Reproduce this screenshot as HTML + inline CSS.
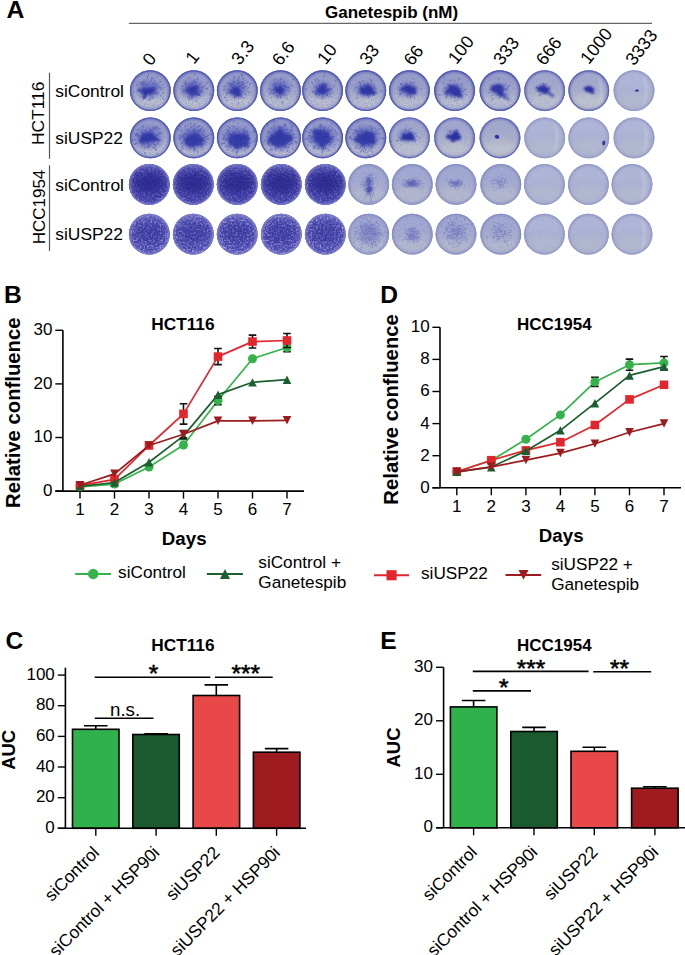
<!DOCTYPE html>
<html><head><meta charset="utf-8"><title>Figure</title><style>
html,body{margin:0;padding:0;background:#fff;width:685px;height:955px;overflow:hidden}
svg{display:block}
text{font-family:"Liberation Sans", sans-serif;fill:#000}
</style></head><body>
<svg width="685" height="955" viewBox="0 0 685 955">
<defs><filter id="bl04" x="-20%" y="-20%" width="140%" height="140%"><feGaussianBlur stdDeviation="0.4"/></filter>
<filter id="bl07" x="-50%" y="-50%" width="200%" height="200%"><feGaussianBlur stdDeviation="0.7"/></filter>
<filter id="bl1" x="-50%" y="-50%" width="200%" height="200%"><feGaussianBlur stdDeviation="1"/></filter>
<filter id="bl12" x="-50%" y="-50%" width="200%" height="200%"><feGaussianBlur stdDeviation="0.9"/></filter>
<filter id="bl3" x="-50%" y="-50%" width="200%" height="200%"><feGaussianBlur stdDeviation="3"/></filter>
<filter id="nzd0" x="0" y="0" width="100%" height="100%"><feTurbulence type="fractalNoise" baseFrequency="1.3" numOctaves="2" seed="1"/><feColorMatrix type="matrix" values="0 0 0 0 0.2  0 0 0 0 0.22  0 0 0 0 0.64  5.5 0 0 0 -2.35"/></filter>
<filter id="nzl0" x="0" y="0" width="100%" height="100%"><feTurbulence type="fractalNoise" baseFrequency="0.55" numOctaves="3" seed="3"/><feColorMatrix type="matrix" values="0 0 0 0 0.45  0 0 0 0 0.45  0 0 0 0 0.8  2.6 0 0 0 -1.12"/></filter>
<filter id="nzd1" x="0" y="0" width="100%" height="100%"><feTurbulence type="fractalNoise" baseFrequency="1.3" numOctaves="2" seed="5"/><feColorMatrix type="matrix" values="0 0 0 0 0.2  0 0 0 0 0.22  0 0 0 0 0.64  5.5 0 0 0 -2.35"/></filter>
<filter id="nzl1" x="0" y="0" width="100%" height="100%"><feTurbulence type="fractalNoise" baseFrequency="0.55" numOctaves="3" seed="7"/><feColorMatrix type="matrix" values="0 0 0 0 0.45  0 0 0 0 0.45  0 0 0 0 0.8  2.6 0 0 0 -1.12"/></filter>
<filter id="nzd2" x="0" y="0" width="100%" height="100%"><feTurbulence type="fractalNoise" baseFrequency="1.3" numOctaves="2" seed="9"/><feColorMatrix type="matrix" values="0 0 0 0 0.2  0 0 0 0 0.22  0 0 0 0 0.64  5.5 0 0 0 -2.35"/></filter>
<filter id="nzl2" x="0" y="0" width="100%" height="100%"><feTurbulence type="fractalNoise" baseFrequency="0.55" numOctaves="3" seed="11"/><feColorMatrix type="matrix" values="0 0 0 0 0.45  0 0 0 0 0.45  0 0 0 0 0.8  2.6 0 0 0 -1.12"/></filter>
<filter id="nzd3" x="0" y="0" width="100%" height="100%"><feTurbulence type="fractalNoise" baseFrequency="1.3" numOctaves="2" seed="13"/><feColorMatrix type="matrix" values="0 0 0 0 0.2  0 0 0 0 0.22  0 0 0 0 0.64  5.5 0 0 0 -2.35"/></filter>
<filter id="nzl3" x="0" y="0" width="100%" height="100%"><feTurbulence type="fractalNoise" baseFrequency="0.55" numOctaves="3" seed="15"/><feColorMatrix type="matrix" values="0 0 0 0 0.45  0 0 0 0 0.45  0 0 0 0 0.8  2.6 0 0 0 -1.12"/></filter>
<radialGradient id="halo"><stop offset="0" stop-color="#4a51b8" stop-opacity="1"/><stop offset="0.5" stop-color="#5a60bd" stop-opacity="0.8"/><stop offset="1" stop-color="#5a60bb" stop-opacity="0"/></radialGradient>
<radialGradient id="hmg"><stop offset="0" stop-color="#fff"/><stop offset="1" stop-color="#000"/></radialGradient>
<mask id="hm" maskContentUnits="objectBoundingBox"><rect x="0" y="0" width="1" height="1" fill="url(#hmg)"/></mask>
<radialGradient id="rmg"><stop offset="0" stop-color="#000"/><stop offset="0.55" stop-color="#333"/><stop offset="1" stop-color="#fff"/></radialGradient>
<mask id="ringmask" maskContentUnits="objectBoundingBox"><rect x="0" y="0" width="1" height="1" fill="url(#rmg)"/></mask>
<linearGradient id="lg_hct" x1="0" y1="0" x2="0" y2="1"><stop offset="0.3" stop-color="#9aa0c6"/><stop offset="0.75" stop-color="#aeb2c6"/></linearGradient>
<radialGradient id="rg_hct" cx="0.5" cy="0.5" r="0.5"><stop offset="0.8" stop-color="#5e66b8" stop-opacity="0"/><stop offset="0.94" stop-color="#5e66b8" stop-opacity="0.7"/><stop offset="1" stop-color="#5e66b8" stop-opacity="0.95"/></radialGradient>
<linearGradient id="lg_hctl" x1="0" y1="0" x2="0" y2="1"><stop offset="0.3" stop-color="#a4aacb"/><stop offset="0.75" stop-color="#b3b7c8"/></linearGradient>
<radialGradient id="rg_hctl" cx="0.5" cy="0.5" r="0.5"><stop offset="0.8" stop-color="#6e76be" stop-opacity="0"/><stop offset="0.94" stop-color="#6e76be" stop-opacity="0.7"/><stop offset="1" stop-color="#6e76be" stop-opacity="0.95"/></radialGradient>
<linearGradient id="lg_dark" x1="0" y1="0" x2="0" y2="1"><stop offset="0.3" stop-color="#3a38a0"/><stop offset="0.75" stop-color="#3e3ca4"/></linearGradient>
<radialGradient id="rg_dark" cx="0.5" cy="0.5" r="0.5"><stop offset="0.8" stop-color="#6466bd" stop-opacity="0"/><stop offset="0.94" stop-color="#6466bd" stop-opacity="0.7"/><stop offset="1" stop-color="#6466bd" stop-opacity="0.95"/></radialGradient>
<linearGradient id="lg_darkl" x1="0" y1="0" x2="0" y2="1"><stop offset="0.3" stop-color="#4846ad"/><stop offset="0.75" stop-color="#4a48ae"/></linearGradient>
<radialGradient id="rg_darkl" cx="0.5" cy="0.5" r="0.5"><stop offset="0.8" stop-color="#6e70c2" stop-opacity="0"/><stop offset="0.94" stop-color="#6e70c2" stop-opacity="0.7"/><stop offset="1" stop-color="#6e70c2" stop-opacity="0.95"/></radialGradient>
<linearGradient id="lg_light" x1="0" y1="0" x2="0" y2="1"><stop offset="0.3" stop-color="#a4abd0"/><stop offset="0.75" stop-color="#adb2cb"/></linearGradient>
<radialGradient id="rg_light" cx="0.5" cy="0.5" r="0.5"><stop offset="0.8" stop-color="#8f96c6" stop-opacity="0"/><stop offset="0.94" stop-color="#8f96c6" stop-opacity="0.7"/><stop offset="1" stop-color="#8f96c6" stop-opacity="0.95"/></radialGradient>
<linearGradient id="lg_vlight" x1="0" y1="0" x2="0" y2="1"><stop offset="0.3" stop-color="#afb6d6"/><stop offset="0.75" stop-color="#aab0ce"/></linearGradient>
<radialGradient id="rg_vlight" cx="0.5" cy="0.5" r="0.5"><stop offset="0.8" stop-color="#9aa1ca" stop-opacity="0"/><stop offset="0.94" stop-color="#9aa1ca" stop-opacity="0.7"/><stop offset="1" stop-color="#9aa1ca" stop-opacity="0.95"/></radialGradient></defs>
<text x="6.6" y="17.8" font-size="24.8" font-weight="bold">A</text>
<text x="325" y="17.6" font-size="17" font-weight="bold">Ganetespib (nM)</text>
<line x1="128.8" y1="23.4" x2="652" y2="23.4" stroke="#666" stroke-width="1.2"/>
<text transform="translate(151.0,66.8) rotate(-52)" font-size="17.8">0</text>
<text transform="translate(193.9,64.9) rotate(-52)" font-size="17.8">1</text>
<text transform="translate(239.8,66.0) rotate(-52)" font-size="17.8">3.3</text>
<text transform="translate(280.4,66.8) rotate(-52)" font-size="17.8">6.6</text>
<text transform="translate(325.7,65.4) rotate(-52)" font-size="17.8">10</text>
<text transform="translate(368.0,66.1) rotate(-52)" font-size="17.8">33</text>
<text transform="translate(412.2,66.8) rotate(-52)" font-size="17.8">66</text>
<text transform="translate(456.5,65.2) rotate(-52)" font-size="17.8">100</text>
<text transform="translate(501.7,66.3) rotate(-52)" font-size="17.8">333</text>
<text transform="translate(544.4,66.4) rotate(-52)" font-size="17.8">666</text>
<text transform="translate(588.8,65.2) rotate(-52)" font-size="17.8">1000</text>
<text transform="translate(633.9,66.6) rotate(-52)" font-size="17.8">3333</text>
<text x="55.3" y="97.2" font-size="17.4">siControl</text>
<text x="55.3" y="143.8" font-size="17.4">siUSP22</text>
<text x="55.3" y="191.0" font-size="17.4">siControl</text>
<text x="55.3" y="240.2" font-size="17.4">siUSP22</text>
<line x1="49.5" y1="72.8" x2="49.5" y2="158.8" stroke="#555" stroke-width="1.2"/>
<line x1="49.5" y1="165.2" x2="49.5" y2="250.9" stroke="#555" stroke-width="1.2"/>
<text transform="translate(43.6,113.3) rotate(-90)" text-anchor="middle" font-size="17.4">HCT116</text>
<text transform="translate(44.7,207) rotate(-90)" text-anchor="middle" font-size="17">HCC1954</text>
<clipPath id="pc0"><circle cx="150.3" cy="90.6" r="20.4"/></clipPath>
<circle cx="150.3" cy="90.6" r="20.4" fill="url(#lg_hct)"/>
<circle cx="150.3" cy="90.6" r="20.4" fill="url(#rg_hct)"/>
<g clip-path="url(#pc0)">
<ellipse cx="150.3" cy="101.6" rx="17.3" ry="7.1" fill="#c4c7d0" opacity="0.7" filter="url(#bl3)"/>
<rect x="129.9" y="70.19999999999999" width="40.8" height="40.8" fill="#fff" filter="url(#nzd0)" opacity="0.36"/>
<ellipse cx="148.3" cy="89.6" rx="14" ry="12" fill="url(#halo)" opacity="0.75"/>
<path d="M141.1,91.5l-1.3,-0.1M145.3,86.9l-1.0,-0.8M141.2,83.1l-0.4,-0.5M151.1,92.4l0.5,0.2M163.4,88.1l0.7,-0.2M141.6,95.8l-0.4,0.4M149.9,93.1l0.1,1.2M149.5,92.9l0.9,1.2M139.6,89.6l-1.9,0.5M149.6,99.2l0.2,1.5M146.6,92.9l-0.7,1.5M150.5,81.7l0.6,-0.9M159.3,87.1l1.9,-0.0M148.3,75.7l0.2,-1.1M155.7,92.7l0.6,0.3M143.7,83.2l0.1,-1.6M151.6,92.2l1.2,1.2M149.5,92.4l0.1,1.2M151.8,97.2l0.1,0.7M154.5,86.5l0.8,-0.3M158.7,87.9l0.8,-0.3M159.8,81.8l1.4,-0.3M162.6,98.6l1.4,1.0M152.7,87.6l0.6,-0.1M154.9,93.2l0.9,0.5M156.3,77.4l0.9,-0.9M137.8,85.0l-1.7,-0.9M151.4,91.2l0.8,0.2M147.4,77.7l0.3,-1.8M161.9,85.4l0.6,-0.3M162.9,92.7l0.9,0.2M157.5,92.6l0.9,-0.0M152.5,96.8l0.4,1.3M150.1,93.8l0.6,0.7M151.7,87.9l1.1,-0.3M148.8,92.5l0.1,1.0M145.5,88.4l-2.0,0.0M157.7,85.3l1.0,-1.0M149.3,90.6l0.2,1.5M149.7,90.6l1.2,0.8M138.8,90.5l-0.5,0.3M145.6,96.3l-0.2,1.5M151.8,78.8l0.1,-1.8M155.5,93.2l1.6,0.4M153.3,84.6l0.8,-1.1M144.2,88.0l-1.4,-0.4M160.4,89.2l1.6,-0.1M142.5,84.9l-1.5,-0.9M156.8,93.8l0.8,0.9M149.8,90.6l0.6,1.1M138.3,82.1l-0.8,-0.6M149.2,88.1l0.3,-0.7M155.5,85.5l0.4,-0.9M152.7,87.9l1.0,-0.6M152.8,79.1l0.8,-1.1M144.3,88.5l-1.1,-0.5M154.2,81.2l0.4,-0.8M134.3,92.3l-0.9,-0.1M149.7,94.7l0.5,0.9M143.4,97.2l0.2,1.2M149.6,90.2l1.4,0.7M147.1,85.7l-0.7,-1.5M151.5,89.9l1.7,0.1M148.7,89.8l0.4,0.4M143.9,85.6l-1.6,-0.7M142.0,97.0l-0.4,0.7M144.7,90.1l-1.5,-0.3M148.7,91.3l0.0,1.0M146.0,83.8l-0.8,-0.8M141.8,92.5l-0.3,0.5M156.9,86.3l1.4,-0.2M153.0,93.7l1.1,0.7M155.9,83.4l1.4,-0.5M146.0,91.9l-1.6,0.6M142.4,83.4l-1.1,-1.6M160.6,95.8l1.5,0.7M142.8,99.6l-0.4,0.5M144.0,83.7l-0.8,-1.5M146.9,89.7l-1.7,0.0M146.3,91.7l-1.4,0.9M150.4,91.8l1.7,0.6M147.3,85.1l-1.0,-0.8M150.7,88.9l0.9,-0.2M155.4,88.6l1.1,-0.7M152.5,84.2l0.9,-1.5M153.6,92.4l1.7,0.6M155.3,88.4l1.2,-0.4" stroke="#363cab" stroke-width="1.0" stroke-linecap="round" opacity="0.5" filter="url(#bl04)"/>
<path d="M156.2,89.1Q156.3,89.9 155.6,90.6Q154.9,91.3 154.0,91.8Q153.1,92.3 152.4,93.1Q151.8,93.8 150.2,93.9Q148.6,93.9 147.2,93.8Q145.9,93.8 143.6,94.2Q141.3,94.6 141.6,93.5Q141.8,92.4 141.8,91.8Q141.7,91.2 138.4,90.2Q135.1,89.3 139.5,89.2Q143.9,89.0 144.7,88.5Q145.4,87.9 146.8,88.0Q148.1,88.1 149.3,87.8Q150.6,87.5 152.3,87.5Q153.9,87.4 155.0,87.9Q156.2,88.4 156.2,89.1Z" fill="#2c31a2" opacity="0.85" filter="url(#bl12)"/>
<path d="M147.5,94.4Q147.2,95.3 146.8,96.0Q146.4,96.8 146.0,97.3Q145.5,97.8 145.1,98.4Q144.6,98.9 144.1,99.1Q143.6,99.3 143.5,98.6Q143.3,97.9 143.0,97.6Q142.7,97.3 143.0,96.4Q143.2,95.5 143.4,94.7Q143.6,94.0 143.9,93.2Q144.2,92.5 144.6,91.7Q145.0,91.0 145.5,90.8Q146.0,90.6 146.4,90.6Q146.8,90.5 147.1,90.7Q147.5,90.9 147.5,91.6Q147.5,92.3 147.6,92.9Q147.8,93.6 147.5,94.4Z" fill="#2c31a2" opacity="0.70" filter="url(#bl07)"/>
</g>
<circle cx="150.3" cy="90.6" r="19.799999999999997" fill="none" stroke="#4a52b0" stroke-width="1.2" opacity="0.85"/>
<clipPath id="pc1"><circle cx="193.8" cy="90.6" r="20.4"/></clipPath>
<circle cx="193.8" cy="90.6" r="20.4" fill="url(#lg_hct)"/>
<circle cx="193.8" cy="90.6" r="20.4" fill="url(#rg_hct)"/>
<g clip-path="url(#pc1)">
<ellipse cx="193.8" cy="101.6" rx="17.3" ry="7.1" fill="#c4c7d0" opacity="0.7" filter="url(#bl3)"/>
<rect x="173.4" y="70.19999999999999" width="40.8" height="40.8" fill="#fff" filter="url(#nzd1)" opacity="0.36"/>
<ellipse cx="192.8" cy="89.6" rx="14" ry="12" fill="url(#halo)" opacity="0.75"/>
<path d="M191.1,93.9l-0.5,0.7M195.1,95.5l0.7,0.9M195.0,86.7l0.5,-0.7M187.1,84.3l-1.4,-0.2M190.7,91.9l-0.9,1.3M197.5,79.5l0.6,-1.8M197.5,93.2l-0.2,1.8M195.7,92.4l0.5,0.4M188.3,92.2l-1.2,1.2M197.0,93.2l0.6,0.5M191.8,85.0l-1.4,-1.3M198.0,93.6l1.2,0.9M185.9,90.3l-0.7,-0.0M200.0,91.1l0.7,-0.1M192.1,91.0l-1.1,1.4M206.2,88.9l1.9,0.1M194.0,81.3l0.3,-1.0M185.9,90.9l-0.4,0.3M196.2,86.7l0.2,-0.7M183.6,92.0l-0.7,0.3M195.0,88.7l1.7,-0.7M195.7,82.1l0.7,-0.9M186.4,84.8l-1.8,-0.8M194.3,85.9l1.2,-1.1M187.7,91.6l-1.5,1.1M199.4,84.3l0.9,-0.6M182.8,89.3l-1.0,0.1M192.0,89.7l-1.3,0.6M199.4,91.0l0.9,1.2M188.3,95.9l-0.3,1.0M189.7,96.8l-0.6,1.4M194.0,75.5l0.8,-1.4M194.0,89.4l0.6,0.1M194.7,94.2l0.4,1.8M195.4,83.9l0.6,-1.9M185.9,82.6l-0.7,-1.5M196.5,100.8l0.1,0.7M189.3,90.1l-0.5,0.3M193.0,94.6l0.2,1.3M188.2,86.8l-1.2,-0.6M201.2,87.9l0.9,0.3M197.2,89.9l1.6,0.4M193.7,81.3l0.8,-1.4M209.6,94.3l1.7,0.7M192.0,84.4l-0.0,-2.0M193.1,95.7l-0.5,1.1M189.2,98.8l-0.4,1.3M199.0,94.3l0.5,0.3M193.9,87.0l0.4,-1.1M189.6,84.8l-0.7,-0.9M200.5,90.7l1.9,-0.4M202.0,87.2l1.8,-0.4M195.7,91.1l1.0,0.1M191.6,97.2l0.3,1.4M189.7,89.7l-0.9,0.2M205.8,88.2l0.6,-0.0M191.6,88.9l-0.9,-1.1M198.7,93.4l1.2,1.0M193.9,82.8l0.0,-1.1M188.8,90.1l-1.6,0.7M200.9,91.9l1.6,0.6M185.6,83.6l-0.6,-0.6M198.8,91.4l1.5,0.0M198.0,89.3l1.6,-1.0M189.9,85.3l-0.3,-0.6M194.5,88.2l1.1,-0.4M196.6,87.9l1.3,-1.0M196.4,91.2l0.9,0.3M190.7,88.4l-0.9,-0.1M196.2,93.3l0.5,0.5M187.2,87.9l-1.9,0.2M204.9,85.5l0.6,-0.7M196.8,87.5l1.9,-0.4M196.3,87.3l0.7,-0.7M197.1,85.6l0.7,-0.4M183.1,86.1l-1.3,0.3M190.0,93.4l-1.6,0.8M192.6,90.6l0.2,1.3M192.1,96.8l-0.0,1.7M199.6,92.1l0.6,0.2M190.4,88.7l-0.6,0.2M190.6,87.5l-0.6,-0.6M184.3,91.2l-1.2,-0.4M193.3,84.6l-0.5,-1.4M206.0,83.3l1.4,-0.7M189.4,78.8l-1.1,-1.1M198.7,95.1l1.7,0.6" stroke="#363cab" stroke-width="1.0" stroke-linecap="round" opacity="0.5" filter="url(#bl04)"/>
<path d="M197.1,89.9Q197.1,90.6 197.5,91.4Q197.9,92.2 196.8,92.5Q195.8,92.8 195.2,93.3Q194.6,93.8 193.7,95.0Q192.8,96.2 191.4,96.0Q189.9,95.8 189.6,94.5Q189.2,93.3 188.8,92.6Q188.4,92.0 185.7,91.3Q183.0,90.6 185.4,89.8Q187.9,89.1 187.4,87.7Q187.0,86.3 188.9,86.6Q190.8,87.0 191.8,86.0Q192.8,85.1 193.9,85.8Q195.1,86.5 197.3,86.0Q199.5,85.6 198.4,87.4Q197.2,89.2 197.1,89.9Z" fill="#2c31a2" opacity="0.80" filter="url(#bl12)"/>
<path d="M199.6,94.8Q199.7,95.3 199.3,95.6Q199.0,95.9 198.5,95.9Q198.0,96.0 197.4,95.8Q196.9,95.5 196.3,95.4Q195.8,95.3 195.3,95.0Q194.7,94.7 194.6,94.2Q194.4,93.8 194.3,93.3Q194.2,92.9 194.3,92.5Q194.3,92.2 194.5,91.8Q194.7,91.5 195.2,91.4Q195.6,91.3 196.2,91.4Q196.7,91.4 197.3,91.7Q197.8,91.9 198.2,92.2Q198.7,92.6 199.1,93.0Q199.6,93.4 199.6,93.9Q199.5,94.3 199.6,94.8Z" fill="#2c31a2" opacity="0.50" filter="url(#bl07)"/>
</g>
<circle cx="193.8" cy="90.6" r="19.799999999999997" fill="none" stroke="#4a52b0" stroke-width="1.2" opacity="0.85"/>
<clipPath id="pc2"><circle cx="237.3" cy="90.6" r="20.4"/></clipPath>
<circle cx="237.3" cy="90.6" r="20.4" fill="url(#lg_hct)"/>
<circle cx="237.3" cy="90.6" r="20.4" fill="url(#rg_hct)"/>
<g clip-path="url(#pc2)">
<ellipse cx="237.3" cy="101.6" rx="17.3" ry="7.1" fill="#c4c7d0" opacity="0.7" filter="url(#bl3)"/>
<rect x="216.9" y="70.19999999999999" width="40.8" height="40.8" fill="#fff" filter="url(#nzd2)" opacity="0.36"/>
<ellipse cx="236.3" cy="88.6" rx="13" ry="12" fill="url(#halo)" opacity="0.75"/>
<path d="M247.2,82.3l0.7,-1.1M227.0,92.1l-0.9,0.7M244.0,86.6l1.7,-0.4M233.9,85.8l-0.4,-0.6M240.8,75.5l0.8,-1.5M227.3,99.3l-1.5,1.1M244.6,80.8l0.6,-0.9M237.6,92.3l0.9,1.4M243.6,97.3l1.0,1.3M233.6,84.2l-0.4,-0.4M233.2,87.2l-0.6,-0.4M248.0,91.8l1.3,0.6M225.0,86.8l-1.6,-0.2M234.2,82.8l-0.2,-0.5M237.7,91.7l0.7,0.9M227.6,93.7l-1.1,0.5M249.6,84.3l1.2,-0.6M241.4,96.1l0.3,0.5M239.0,89.8l1.6,0.3M229.2,89.2l-1.1,0.3M241.9,82.6l0.3,-0.6M237.0,90.0l1.5,0.9M234.0,78.0l0.1,-1.9M242.6,88.6l1.2,-1.1M234.1,87.9l-0.6,-0.3M241.2,87.1l1.2,-0.1M232.5,84.4l-1.1,-1.0M238.0,93.4l0.0,0.8M236.8,89.9l0.5,0.4M238.3,103.2l-0.1,1.1M237.0,84.0l0.3,-0.6M225.1,89.4l-1.5,-0.1M224.1,89.8l-1.3,0.6M230.2,84.9l-0.5,-0.7M243.0,88.0l1.0,-0.1M239.8,82.6l0.5,-0.6M234.0,92.2l-0.7,0.5M241.5,84.5l0.6,-0.6M231.3,84.7l-1.7,-0.9M234.7,96.5l-0.4,1.9M235.1,88.1l-0.7,-0.1M228.3,83.4l-0.8,-0.6M245.6,94.2l1.0,0.5M247.6,88.1l1.3,-0.4M234.4,88.1l-1.5,-0.7M234.6,92.2l-0.2,0.7M236.7,88.4l1.4,-0.8M231.5,86.6l-1.2,-0.7M238.6,83.5l-0.0,-1.9M241.7,91.3l1.5,0.7M243.1,79.6l0.5,-1.6M231.1,91.4l-0.5,0.1M233.6,88.2l-0.7,0.0M239.1,89.0l0.4,0.4M238.1,80.7l0.4,-1.2M230.9,92.3l-1.7,0.8M242.3,85.2l1.4,-1.2M238.8,77.9l0.6,-1.4M237.5,86.4l0.9,-0.5M244.8,83.4l0.4,-0.3M240.1,86.3l0.8,-0.8M232.4,84.7l-0.6,-1.7M239.2,86.0l1.5,-1.0M232.9,94.2l-0.3,0.6M242.1,85.2l1.1,-1.5M225.5,96.8l-1.4,1.1M231.6,93.3l-0.9,1.2M235.0,86.3l-0.3,-0.5M233.4,88.3l-1.1,-0.5M231.5,86.3l-0.3,-0.4M239.1,93.4l0.5,0.5M238.4,87.3l0.7,-0.7M231.8,89.8l-1.6,0.6M239.0,90.3l0.8,-0.0M241.6,82.6l1.5,-1.0M238.0,89.3l1.4,0.5M234.1,82.5l-1.0,-1.6M235.5,95.8l-0.0,1.0M242.0,76.9l0.7,-1.7M241.9,82.2l1.6,-0.3M233.4,90.2l-1.4,0.6" stroke="#363cab" stroke-width="1.0" stroke-linecap="round" opacity="0.5" filter="url(#bl04)"/>
<path d="M240.1,91.0Q240.5,91.6 240.9,92.5Q241.4,93.5 241.8,95.2Q242.2,96.9 240.3,96.5Q238.4,96.2 237.3,96.6Q236.3,97.1 235.3,96.6Q234.3,96.0 233.8,95.1Q233.3,94.3 232.8,93.7Q232.2,93.1 229.6,92.4Q226.9,91.6 229.6,90.9Q232.3,90.1 232.4,89.1Q232.5,88.2 233.2,87.4Q234.0,86.6 235.1,86.9Q236.3,87.3 237.3,87.3Q238.2,87.4 239.1,87.9Q239.9,88.4 239.8,89.4Q239.7,90.3 240.1,91.0Z" fill="#2c31a2" opacity="0.85" filter="url(#bl12)"/>
</g>
<circle cx="237.3" cy="90.6" r="19.799999999999997" fill="none" stroke="#4a52b0" stroke-width="1.2" opacity="0.85"/>
<clipPath id="pc3"><circle cx="280.5" cy="90.6" r="20.4"/></clipPath>
<circle cx="280.5" cy="90.6" r="20.4" fill="url(#lg_hct)"/>
<circle cx="280.5" cy="90.6" r="20.4" fill="url(#rg_hct)"/>
<g clip-path="url(#pc3)">
<ellipse cx="280.5" cy="101.6" rx="17.3" ry="7.1" fill="#c4c7d0" opacity="0.7" filter="url(#bl3)"/>
<rect x="260.1" y="70.19999999999999" width="40.8" height="40.8" fill="#fff" filter="url(#nzd3)" opacity="0.36"/>
<ellipse cx="279.5" cy="88.6" rx="13" ry="12" fill="url(#halo)" opacity="0.70"/>
<path d="M277.4,85.3l-0.6,-0.7M280.3,86.6l0.2,-0.8M288.4,87.4l0.8,0.2M292.4,79.6l1.6,-0.5M280.8,79.9l0.7,-1.0M282.5,94.4l0.9,1.2M275.4,89.9l-1.0,0.8M284.2,82.3l-0.1,-0.8M277.8,89.2l-1.2,0.7M280.0,94.0l0.0,1.7M270.0,89.1l-0.8,-0.2M273.9,85.7l-1.0,-1.2M281.1,79.4l-0.1,-0.8M280.1,89.4l1.0,0.7M279.6,87.9l0.4,-0.5M285.4,85.0l0.4,-0.7M276.9,91.2l-0.5,0.3M276.5,95.1l-0.3,1.4M278.8,96.5l-0.3,0.7M279.4,91.6l0.3,1.7M269.9,93.4l-1.0,0.4M282.5,101.7l-0.2,1.6M281.2,91.4l0.6,1.0M279.5,87.2l0.0,-0.7M291.0,85.3l1.1,-0.1M280.8,89.2l0.9,1.3M279.3,89.1l-0.8,1.0M279.8,94.2l-0.2,1.0M277.4,95.5l-0.1,0.5M273.0,92.8l-1.5,0.5M281.3,93.0l1.2,1.4M274.2,89.8l-1.7,0.1M275.0,89.6l-0.8,-0.0M276.4,87.7l-1.1,-0.4M283.1,86.6l2.0,-0.4M274.8,79.5l-0.2,-0.6M284.6,86.9l0.8,-0.5M282.9,89.0l1.9,0.2M284.9,87.7l1.0,-0.4M286.8,98.3l1.3,0.9M286.7,89.5l1.0,0.1M277.8,90.0l-1.5,0.8M276.2,86.9l-1.0,-0.5M279.6,90.1l-0.1,0.5M285.5,86.6l1.3,-0.0M285.1,94.6l1.1,1.1M288.3,90.7l0.9,0.4M278.2,83.6l-0.5,-0.6M286.7,87.4l0.8,0.1M280.7,88.9l1.7,-0.0M274.3,92.8l-1.1,1.0M282.8,86.9l1.5,-1.2M272.0,91.1l-1.3,0.7M284.4,91.5l1.0,0.5M280.7,85.8l0.6,-0.7M282.5,92.9l1.1,1.1M280.0,88.7l0.9,0.4M276.7,90.0l-0.9,1.0M275.3,88.3l-1.1,-0.0M278.2,90.0l-0.8,1.0M280.5,83.7l0.0,-1.0M279.5,89.7l0.4,1.3M288.9,88.0l0.7,0.3M272.1,89.9l-1.4,-0.1M278.0,96.7l0.0,1.4M275.4,85.0l-1.5,-0.9M281.7,92.2l1.3,1.4M282.4,89.2l1.0,-0.0M279.3,91.4l-0.0,0.8M280.6,96.1l0.2,1.3M279.7,85.7l0.3,-1.2M275.5,83.5l-1.4,-1.0M274.6,93.1l-0.7,0.7M283.1,85.7l1.1,-1.1M271.3,97.8l-0.4,0.6M274.9,84.5l-0.8,-0.4" stroke="#363cab" stroke-width="1.0" stroke-linecap="round" opacity="0.5" filter="url(#bl04)"/>
<path d="M284.5,89.7Q283.7,90.6 283.7,91.3Q283.6,92.0 283.0,92.4Q282.4,92.9 282.2,94.2Q282.1,95.6 280.8,94.6Q279.5,93.6 278.8,93.4Q278.1,93.3 277.4,93.0Q276.8,92.8 275.6,92.5Q274.3,92.3 275.0,91.5Q275.7,90.6 275.3,89.9Q275.0,89.1 274.3,87.5Q273.6,85.8 275.8,86.8Q278.0,87.7 278.7,86.7Q279.5,85.7 280.7,85.9Q281.8,86.1 282.0,87.3Q282.1,88.5 283.7,88.6Q285.2,88.7 284.5,89.7Z" fill="#2c31a2" opacity="0.85" filter="url(#bl12)"/>
</g>
<circle cx="280.5" cy="90.6" r="19.799999999999997" fill="none" stroke="#4a52b0" stroke-width="1.2" opacity="0.85"/>
<clipPath id="pc4"><circle cx="322.6" cy="90.6" r="20.4"/></clipPath>
<circle cx="322.6" cy="90.6" r="20.4" fill="url(#lg_hct)"/>
<circle cx="322.6" cy="90.6" r="20.4" fill="url(#rg_hct)"/>
<g clip-path="url(#pc4)">
<ellipse cx="322.6" cy="101.6" rx="17.3" ry="7.1" fill="#c4c7d0" opacity="0.7" filter="url(#bl3)"/>
<rect x="302.20000000000005" y="70.19999999999999" width="40.8" height="40.8" fill="#fff" filter="url(#nzd0)" opacity="0.33"/>
<ellipse cx="322.6" cy="89.6" rx="12" ry="11" fill="url(#halo)" opacity="0.70"/>
<path d="M320.7,90.9l-1.0,1.2M322.5,96.9l0.2,1.6M326.6,94.4l1.2,0.5M315.7,93.1l-1.1,1.3M316.0,92.8l-1.5,0.4M323.0,92.5l-0.5,1.8M323.2,92.0l0.4,1.5M316.4,92.8l-1.0,1.7M329.7,96.6l0.4,0.5M326.6,90.6l0.7,0.1M306.7,89.1l-1.3,-0.1M317.8,90.1l-1.7,0.5M331.0,88.6l1.4,0.3M324.0,76.7l-0.3,-1.3M327.6,90.4l0.8,0.0M331.8,96.3l0.6,0.4M328.4,89.2l1.3,-0.0M327.0,94.7l0.8,0.9M326.2,87.2l0.5,-0.2M332.4,93.4l0.7,0.3M324.5,73.9l0.2,-0.8M326.5,85.7l0.3,-1.0M327.3,95.1l0.8,1.2M319.7,87.0l-0.6,-1.9M318.8,81.4l-0.4,-1.5M323.1,90.6l0.3,0.6M324.8,84.7l0.7,-0.7M321.9,89.5l-0.5,-0.1M335.0,81.3l1.3,-1.1M322.1,85.0l0.1,-1.6M313.7,91.7l-1.9,0.5M316.2,93.8l-0.4,0.3M333.7,86.7l1.0,-0.4M317.6,94.5l-1.1,0.9M318.1,87.3l-1.5,-1.1M321.6,91.4l-0.2,0.8M329.7,89.4l1.4,-0.6M323.7,91.6l0.4,1.1M326.3,95.1l0.6,0.9M319.9,94.8l-1.1,1.4M321.6,86.3l0.1,-0.7M327.9,89.2l1.1,0.1M321.8,88.8l-0.8,-0.5M317.2,79.5l-0.6,-0.9M325.5,92.2l1.1,1.0M317.4,94.2l-1.5,1.1M329.4,93.6l1.2,0.3M320.3,88.7l-1.0,-0.7M316.0,87.2l-1.1,-0.1M323.5,95.8l0.2,0.5M319.9,86.1l-1.1,-0.9M312.9,83.6l-1.5,-1.4M327.2,89.3l1.5,-0.5M327.7,89.3l2.0,0.1M320.7,86.2l-0.9,-1.5M315.6,80.8l-0.5,-1.2M314.7,91.3l-1.8,0.4M321.7,86.2l-0.2,-1.3M317.4,91.6l-0.8,0.5M321.4,88.2l-1.2,-0.4M319.6,90.0l-1.6,-0.7M323.4,83.8l0.4,-0.6M317.6,88.2l-0.5,-0.2M316.9,97.2l-0.5,0.6" stroke="#363cab" stroke-width="1.0" stroke-linecap="round" opacity="0.5" filter="url(#bl04)"/>
<path d="M329.1,90.0Q331.4,90.6 329.5,91.3Q327.6,92.0 326.6,92.3Q325.5,92.6 325.2,93.5Q324.9,94.4 323.7,94.4Q322.6,94.5 321.7,94.1Q320.7,93.7 319.2,93.9Q317.6,94.0 316.9,93.2Q316.1,92.5 316.5,91.5Q316.9,90.6 316.5,89.7Q316.0,88.7 317.5,88.4Q319.0,88.1 319.5,87.3Q320.1,86.4 321.3,85.2Q322.6,84.0 324.6,84.0Q326.6,83.9 326.2,86.2Q325.8,88.4 326.3,88.9Q326.8,89.4 329.1,90.0Z" fill="#2c31a2" opacity="0.85" filter="url(#bl12)"/>
</g>
<circle cx="322.6" cy="90.6" r="19.799999999999997" fill="none" stroke="#4a52b0" stroke-width="1.2" opacity="0.85"/>
<clipPath id="pc5"><circle cx="365.8" cy="90.6" r="20.4"/></clipPath>
<circle cx="365.8" cy="90.6" r="20.4" fill="url(#lg_hct)"/>
<circle cx="365.8" cy="90.6" r="20.4" fill="url(#rg_hct)"/>
<g clip-path="url(#pc5)">
<ellipse cx="365.8" cy="101.6" rx="17.3" ry="7.1" fill="#c4c7d0" opacity="0.7" filter="url(#bl3)"/>
<rect x="345.40000000000003" y="70.19999999999999" width="40.8" height="40.8" fill="#fff" filter="url(#nzd1)" opacity="0.33"/>
<ellipse cx="365.8" cy="89.6" rx="13" ry="10" fill="url(#halo)" opacity="0.70"/>
<path d="M363.4,89.9l-1.3,0.4M370.1,90.5l1.4,0.3M370.8,89.4l0.6,-0.0M368.2,96.0l0.0,0.8M359.0,92.6l-1.0,0.3M362.4,87.4l-0.5,-0.4M367.9,85.2l0.5,-1.1M367.9,91.0l0.3,0.6M356.4,87.8l-1.2,-0.0M367.6,93.7l0.3,1.0M373.5,86.8l1.5,-0.0M364.9,95.7l-0.3,0.4M366.4,85.6l0.8,-1.6M362.4,91.8l-1.6,0.1M372.5,94.5l0.7,0.9M368.2,96.8l0.3,1.3M365.9,85.5l-1.3,-1.2M371.5,85.1l0.6,-0.4M367.6,84.8l0.5,-1.4M369.4,90.7l0.8,0.8M367.1,90.3l0.4,0.5M360.4,83.4l-0.5,-1.3M363.1,81.7l-0.4,-1.2M373.8,93.8l0.5,1.5M366.1,91.7l1.1,1.1M371.9,88.7l0.7,0.1M361.9,86.8l-1.2,-1.3M367.7,88.2l1.2,-1.6M369.4,89.9l2.0,-0.1M363.9,89.0l-1.2,-0.4M373.8,88.2l0.9,0.1M360.6,87.1l-0.5,-0.6M365.3,91.4l-0.6,1.7M368.2,85.0l0.5,-0.6M371.3,81.6l0.1,-1.6M373.2,94.9l0.5,0.4M375.5,89.3l0.9,-0.3M361.7,86.7l-1.3,0.1M366.3,90.2l1.0,0.4M364.6,92.4l0.0,1.1M364.0,91.8l-1.1,1.7M363.0,88.8l-0.4,-0.5M364.4,87.3l-0.9,-1.0M366.2,91.3l0.2,1.5M360.6,88.5l-0.9,-0.3M362.6,89.1l-1.7,0.1M369.1,86.6l0.2,-0.5M357.3,97.6l-0.7,1.4M365.0,85.7l0.1,-0.7M363.8,86.0l-0.7,-1.4M379.8,91.1l1.6,-0.1M369.1,90.5l0.8,0.6M372.0,91.4l1.4,0.2M370.4,80.2l0.2,-0.6M361.6,87.9l-1.0,-0.4M366.4,92.7l0.0,0.7M366.4,88.8l1.6,-1.2M360.3,89.9l-1.0,-0.1M367.3,88.4l0.7,-1.3M367.4,94.7l0.2,1.0M360.2,83.0l-1.6,-0.7M366.9,91.1l1.0,1.3" stroke="#363cab" stroke-width="1.0" stroke-linecap="round" opacity="0.5" filter="url(#bl04)"/>
<path d="M372.7,90.0Q373.6,90.6 376.3,92.0Q379.0,93.5 375.9,93.7Q372.7,94.0 371.5,94.7Q370.2,95.3 368.5,94.8Q366.8,94.3 365.2,94.6Q363.6,95.0 362.4,94.4Q361.2,93.8 360.4,93.1Q359.5,92.3 359.9,91.5Q360.2,90.6 359.9,89.7Q359.6,88.9 360.5,88.2Q361.4,87.5 363.1,87.6Q364.7,87.8 365.8,85.9Q366.8,84.1 368.4,85.1Q370.0,86.2 371.5,86.6Q373.1,87.0 372.5,88.2Q371.9,89.4 372.7,90.0Z" fill="#2c31a2" opacity="0.90" filter="url(#bl12)"/>
</g>
<circle cx="365.8" cy="90.6" r="19.799999999999997" fill="none" stroke="#4a52b0" stroke-width="1.2" opacity="0.85"/>
<clipPath id="pc6"><circle cx="409.4" cy="90.6" r="20.4"/></clipPath>
<circle cx="409.4" cy="90.6" r="20.4" fill="url(#lg_hct)"/>
<circle cx="409.4" cy="90.6" r="20.4" fill="url(#rg_hct)"/>
<g clip-path="url(#pc6)">
<ellipse cx="409.4" cy="101.6" rx="17.3" ry="7.1" fill="#c4c7d0" opacity="0.7" filter="url(#bl3)"/>
<rect x="389.0" y="70.19999999999999" width="40.8" height="40.8" fill="#fff" filter="url(#nzd2)" opacity="0.30"/>
<ellipse cx="408.4" cy="89.6" rx="12" ry="10" fill="url(#halo)" opacity="0.65"/>
<path d="M405.9,89.0l-1.6,-1.0M411.5,88.4l1.0,-0.5M402.8,91.1l-1.0,0.7M399.0,87.1l-0.5,-0.2M404.0,92.3l-0.6,0.9M410.9,83.6l0.0,-1.2M410.4,89.9l1.6,-0.0M406.7,90.7l-0.6,0.9M408.9,88.5l0.8,-1.7M409.7,86.6l0.7,-1.7M411.9,92.0l0.9,0.7M403.5,88.8l-1.4,-0.4M410.6,87.5l0.3,-0.6M413.1,89.4l1.2,0.2M413.3,79.1l0.7,-0.8M407.2,92.6l-1.4,1.1M420.6,89.3l0.7,-0.2M409.5,92.0l0.2,1.0M408.3,95.3l-0.6,1.6M401.0,84.6l-0.8,-0.7M408.1,93.7l-0.9,1.2M406.9,94.8l-0.1,0.5M410.4,92.3l0.7,0.2M401.2,94.6l-0.5,0.4M407.7,90.4l-0.9,1.4M406.4,84.2l-0.6,-1.0M405.1,90.7l-1.0,0.9M400.8,90.4l-1.4,0.3M411.3,88.7l1.8,0.3M414.1,92.0l1.6,-0.3M403.2,89.5l-1.9,-0.1M411.6,88.9l0.7,-0.3M411.9,95.5l0.4,0.6M406.0,90.8l-1.9,-0.4M400.5,94.2l-0.9,0.8M407.5,88.0l-1.2,-1.5M401.9,91.0l-0.7,0.2M411.1,95.6l-0.5,1.8M410.6,97.2l-0.1,0.9M409.2,92.9l0.0,1.8M413.5,92.1l1.3,1.1M401.4,84.9l-1.0,-1.5M408.3,88.6l0.1,-1.7M414.5,97.3l0.4,0.8M411.1,93.9l0.4,0.6M411.1,94.9l0.3,1.5M401.3,93.1l-1.8,0.6M409.5,93.7l0.2,0.8M413.1,82.6l0.7,-0.5M413.0,90.8l1.0,0.2M402.4,84.0l-1.1,-0.2M409.5,92.4l1.0,1.6M409.5,92.1l-0.0,1.4M403.0,86.5l-0.9,-0.4" stroke="#363cab" stroke-width="1.0" stroke-linecap="round" opacity="0.5" filter="url(#bl04)"/>
<path d="M415.9,89.3Q415.2,90.1 415.6,91.0Q416.0,91.9 416.4,93.5Q416.8,95.1 414.2,94.3Q411.6,93.6 410.3,93.9Q409.0,94.2 408.0,93.3Q407.0,92.5 406.2,92.1Q405.4,91.6 404.5,91.1Q403.6,90.6 400.6,89.6Q397.6,88.6 400.8,88.1Q404.1,87.7 404.0,86.7Q404.0,85.6 405.3,85.1Q406.6,84.6 408.2,85.2Q409.7,85.9 410.7,86.4Q411.6,86.9 413.3,86.8Q415.1,86.8 415.8,87.6Q416.6,88.4 415.9,89.3Z" fill="#2c31a2" opacity="0.90" filter="url(#bl12)"/>
</g>
<circle cx="409.4" cy="90.6" r="19.799999999999997" fill="none" stroke="#4a52b0" stroke-width="1.2" opacity="0.85"/>
<clipPath id="pc7"><circle cx="454.6" cy="90.6" r="20.4"/></clipPath>
<circle cx="454.6" cy="90.6" r="20.4" fill="url(#lg_hct)"/>
<circle cx="454.6" cy="90.6" r="20.4" fill="url(#rg_hct)"/>
<g clip-path="url(#pc7)">
<ellipse cx="454.6" cy="101.6" rx="17.3" ry="7.1" fill="#c4c7d0" opacity="0.7" filter="url(#bl3)"/>
<rect x="434.20000000000005" y="70.19999999999999" width="40.8" height="40.8" fill="#fff" filter="url(#nzd3)" opacity="0.30"/>
<ellipse cx="453.6" cy="90.6" rx="13" ry="10" fill="url(#halo)" opacity="0.65"/>
<path d="M453.1,86.7l0.3,-1.0M451.9,96.1l-0.5,1.7M447.4,95.5l-0.9,0.6M464.7,94.3l1.6,0.8M456.5,100.0l0.5,0.9M456.3,89.6l0.7,-0.4M440.8,94.8l-1.8,-0.0M451.6,80.5l-0.3,-0.6M455.1,89.2l0.6,-0.0M455.6,94.2l0.2,0.7M455.0,94.3l0.1,1.3M445.2,87.7l-0.6,0.2M451.4,90.9l-1.0,0.0M454.4,81.1l-0.1,-1.0M453.5,87.4l-0.2,-1.7M459.6,89.8l1.0,-0.7M447.2,94.3l-1.9,-0.3M462.8,91.7l0.7,0.0M454.6,93.8l-0.1,0.8M457.4,91.0l1.4,0.3M447.5,88.0l-0.5,-0.2M453.1,91.8l-0.4,1.0M461.2,84.8l0.8,-0.5M446.6,97.4l-0.7,1.1M450.8,86.9l-1.0,-1.6M454.9,100.4l-0.2,0.7M444.6,78.5l-0.6,-0.7M457.8,96.5l0.4,0.6M460.8,93.8l0.6,0.2M451.7,87.0l-1.4,-1.3M451.3,86.5l-0.3,-0.4M449.3,90.7l-1.1,0.5M450.1,94.8l-0.9,0.8M444.5,82.0l-0.5,-0.4M459.4,91.5l1.7,-0.1M454.8,87.5l0.7,-0.9M449.9,81.1l-0.7,-1.0M449.1,91.0l-1.0,-0.1M448.2,91.6l-1.8,-0.0M458.6,79.6l1.2,-1.2M449.5,88.8l-1.7,0.2M458.1,97.5l1.1,1.5M457.5,95.6l0.6,0.8M455.5,85.0l1.2,-0.9M446.9,96.3l-0.6,0.3M464.6,89.6l1.5,-0.2M456.9,91.2l1.1,-0.9M459.8,95.4l0.6,1.6M457.6,92.5l1.3,-0.2M460.9,88.5l0.9,-0.6M453.9,93.1l0.1,1.7M454.7,96.7l0.1,1.3M445.3,89.2l-0.7,-0.3M448.6,85.5l-0.9,-1.6M451.9,93.6l-0.8,1.8M443.4,83.3l-0.7,-0.6M448.7,85.8l-0.4,-0.4M458.0,86.6l0.3,-0.8M455.1,92.3l0.3,0.8" stroke="#363cab" stroke-width="1.0" stroke-linecap="round" opacity="0.5" filter="url(#bl04)"/>
<path d="M460.4,91.3Q459.3,92.1 461.2,94.2Q463.1,96.3 460.5,96.0Q458.0,95.8 456.6,96.0Q455.2,96.3 453.8,95.6Q452.4,95.0 451.6,94.2Q450.7,93.4 447.1,93.8Q443.5,94.2 444.6,92.5Q445.8,90.7 447.3,90.0Q448.9,89.3 448.7,88.4Q448.5,87.5 448.5,86.1Q448.5,84.6 450.3,85.1Q452.2,85.6 453.6,85.5Q455.0,85.4 456.5,85.9Q458.0,86.4 458.4,87.5Q458.9,88.7 460.2,89.6Q461.5,90.5 460.4,91.3Z" fill="#2c31a2" opacity="0.90" filter="url(#bl12)"/>
<path d="M463.1,98.1Q462.7,98.2 462.8,98.7Q462.8,99.2 462.0,98.8Q461.2,98.4 460.5,97.8Q459.8,97.3 459.1,97.2Q458.4,97.1 457.8,96.4Q457.2,95.7 456.9,95.1Q456.6,94.5 456.1,93.9Q455.6,93.2 455.6,92.7Q455.5,92.2 456.7,92.9Q457.8,93.6 458.2,93.6Q458.5,93.7 459.0,93.9Q459.4,94.1 460.1,94.1Q460.8,94.1 462.0,94.8Q463.2,95.5 462.6,96.0Q462.0,96.5 462.8,97.2Q463.6,98.0 463.1,98.1Z" fill="#2c31a2" opacity="0.60" filter="url(#bl12)"/>
</g>
<circle cx="454.6" cy="90.6" r="19.799999999999997" fill="none" stroke="#4a52b0" stroke-width="1.2" opacity="0.85"/>
<clipPath id="pc8"><circle cx="500" cy="90.6" r="20.4"/></clipPath>
<circle cx="500" cy="90.6" r="20.4" fill="url(#lg_hct)"/>
<circle cx="500" cy="90.6" r="20.4" fill="url(#rg_hct)"/>
<g clip-path="url(#pc8)">
<ellipse cx="500" cy="101.6" rx="17.3" ry="7.1" fill="#c4c7d0" opacity="0.7" filter="url(#bl3)"/>
<rect x="479.6" y="70.19999999999999" width="40.8" height="40.8" fill="#fff" filter="url(#nzd0)" opacity="0.27"/>
<ellipse cx="499" cy="90.6" rx="11" ry="9" fill="url(#halo)" opacity="0.50"/>
<path d="M498.7,90.5l-1.8,0.3M500.4,95.0l0.5,1.6M499.3,97.5l0.0,1.1M508.2,94.8l0.7,0.5M494.8,89.0l-1.6,-0.0M504.1,88.7l0.8,-0.4M498.3,79.5l0.6,-1.3M491.5,90.2l-1.7,-0.2M497.9,85.7l-0.2,-0.8M489.7,92.2l-0.9,0.1M500.8,96.0l0.2,0.8M503.7,98.2l0.6,1.3M505.4,93.9l1.5,0.3M494.9,88.6l-1.7,-0.2M507.7,87.2l0.8,-0.1M500.5,86.6l0.2,-2.0M495.9,91.3l-0.6,0.2M505.0,85.4l0.8,-1.1M492.1,95.2l-0.5,0.4M503.0,85.1l0.8,-0.5M506.4,88.9l0.5,-0.3M501.2,91.8l0.4,0.5M506.2,89.8l1.2,-0.3M502.7,90.4l1.0,0.4M499.6,91.3l1.1,1.3M492.9,89.8l-1.6,-0.2M492.7,98.4l-0.6,1.6M508.2,86.2l1.7,-0.8M505.8,89.4l1.2,-0.1M499.8,86.8l0.1,-0.5M497.8,94.5l-0.4,1.2M499.2,92.4l-0.1,0.8M498.3,88.6l-0.8,-1.0M496.4,87.5l-0.8,-1.5" stroke="#363cab" stroke-width="1.0" stroke-linecap="round" opacity="0.5" filter="url(#bl04)"/>
<path d="M502.5,91.5Q502.3,92.1 503.1,93.8Q503.9,95.5 502.9,96.2Q501.8,97.0 500.0,95.9Q498.3,94.9 497.3,93.7Q496.3,92.5 494.9,92.2Q493.4,92.0 492.5,90.9Q491.5,89.9 490.8,88.7Q490.1,87.5 490.8,86.7Q491.5,85.8 492.6,85.6Q493.7,85.3 494.6,85.1Q495.6,84.9 496.7,84.3Q497.7,83.7 499.3,84.2Q500.8,84.8 502.1,85.8Q503.3,86.9 503.9,88.1Q504.6,89.3 503.6,90.1Q502.6,90.8 502.5,91.5Z" fill="#2c31a2" opacity="0.90" filter="url(#bl12)"/>
<path d="M509.9,100.8Q509.1,100.7 508.1,100.1Q507.1,99.4 506.6,99.3Q506.2,99.1 505.7,99.1Q505.2,99.0 504.6,98.3Q504.1,97.5 503.1,96.9Q502.1,96.4 502.2,95.8Q502.2,95.3 502.0,94.7Q501.7,94.2 501.0,93.0Q500.3,91.9 500.3,91.1Q500.3,90.3 502.1,92.2Q503.8,94.2 504.3,94.3Q504.8,94.5 505.6,94.9Q506.3,95.3 506.6,96.0Q506.9,96.7 507.8,97.6Q508.8,98.4 509.7,99.6Q510.6,100.8 509.9,100.8Z" fill="#2c31a2" opacity="0.75" filter="url(#bl12)"/>
</g>
<circle cx="500" cy="90.6" r="19.799999999999997" fill="none" stroke="#4a52b0" stroke-width="1.2" opacity="0.85"/>
<clipPath id="pc9"><circle cx="544.7" cy="90.6" r="20.4"/></clipPath>
<circle cx="544.7" cy="90.6" r="20.4" fill="url(#lg_hctl)"/>
<circle cx="544.7" cy="90.6" r="20.4" fill="url(#rg_hctl)"/>
<g clip-path="url(#pc9)">
<ellipse cx="544.7" cy="101.6" rx="17.3" ry="7.1" fill="#c4c7d0" opacity="0.7" filter="url(#bl3)"/>
<rect x="524.3000000000001" y="70.19999999999999" width="40.8" height="40.8" fill="#fff" filter="url(#nzd1)" opacity="0.18"/>
<ellipse cx="542.7" cy="88.6" rx="9" ry="7" fill="url(#halo)" opacity="0.40"/>
<path d="M540.9,90.2l-1.1,1.0M541.5,93.8l-0.6,1.2M541.2,87.9l-1.5,-1.3M543.7,83.9l-0.1,-0.6M543.3,89.0l0.8,0.4M540.5,86.3l-0.9,-0.4M539.6,89.1l-0.9,0.4M541.4,88.6l-0.9,-0.2M545.9,88.9l0.7,-0.1M541.1,90.5l-0.5,1.1M539.7,94.3l-0.7,1.3M537.4,87.4l-1.1,0.1M539.3,90.8l-0.8,1.0M543.6,90.1l0.8,0.3M545.9,88.9l1.2,0.8M544.0,88.2l1.8,-0.2M545.7,84.8l0.5,-1.0" stroke="#363cab" stroke-width="1.0" stroke-linecap="round" opacity="0.5" filter="url(#bl04)"/>
<path d="M548.3,90.3Q547.5,90.9 547.7,91.7Q547.9,92.5 547.2,92.9Q546.5,93.4 545.4,93.8Q544.4,94.1 543.2,93.3Q542.0,92.4 541.2,91.9Q540.4,91.5 539.1,91.2Q537.9,90.9 537.7,90.2Q537.6,89.5 536.1,88.4Q534.6,87.4 536.8,87.5Q539.1,87.6 539.4,87.1Q539.7,86.6 540.6,86.4Q541.4,86.2 542.9,84.8Q544.4,83.3 544.7,85.5Q545.0,87.7 548.3,87.4Q551.6,87.2 550.4,88.5Q549.1,89.8 548.3,90.3Z" fill="#2c31a2" opacity="0.95" filter="url(#bl12)"/>
<path d="M554.4,96.5Q554.5,96.9 554.0,97.0Q553.5,97.1 552.7,96.8Q551.8,96.4 551.2,96.5Q550.5,96.5 549.6,95.7Q548.7,95.0 548.4,94.3Q548.1,93.7 547.0,93.1Q546.0,92.5 545.6,91.9Q545.1,91.3 543.9,90.0Q542.7,88.7 544.4,89.5Q546.0,90.2 546.6,90.2Q547.1,90.1 548.0,90.5Q548.9,90.9 549.8,91.6Q550.6,92.3 550.9,92.9Q551.3,93.5 552.3,94.1Q553.3,94.7 553.9,95.3Q554.4,96.0 554.4,96.5Z" fill="#2c31a2" opacity="0.75" filter="url(#bl12)"/>
</g>
<circle cx="544.7" cy="90.6" r="19.799999999999997" fill="none" stroke="#5a61b5" stroke-width="1.2" opacity="0.8"/>
<clipPath id="pc10"><circle cx="588.8" cy="90.6" r="20.4"/></clipPath>
<circle cx="588.8" cy="90.6" r="20.4" fill="url(#lg_hctl)"/>
<circle cx="588.8" cy="90.6" r="20.4" fill="url(#rg_hctl)"/>
<g clip-path="url(#pc10)">
<ellipse cx="588.8" cy="101.6" rx="17.3" ry="7.1" fill="#c4c7d0" opacity="0.7" filter="url(#bl3)"/>
<rect x="568.4" y="70.19999999999999" width="40.8" height="40.8" fill="#fff" filter="url(#nzd2)" opacity="0.09"/>
<path d="M596.8,72.19999999999999 Q603.8,90.6 596.8,109.0 Q607.8,90.6 596.8,72.19999999999999Z" fill="#dfe3ef" opacity="0.4" filter="url(#bl12)"/>
<path d="M594.6,89.5Q593.7,90.0 593.2,90.4Q592.8,90.8 594.1,92.1Q595.5,93.5 593.8,93.8Q592.1,94.1 590.4,92.9Q588.6,91.7 587.3,92.0Q586.1,92.2 585.8,91.5Q585.4,90.8 585.1,90.4Q584.7,90.0 584.3,89.6Q583.8,89.2 583.5,88.6Q583.1,88.0 583.9,87.6Q584.6,87.1 585.6,86.9Q586.6,86.6 587.9,86.0Q589.2,85.3 590.4,86.1Q591.6,86.9 592.4,87.4Q593.2,88.0 594.3,88.4Q595.4,88.9 594.6,89.5Z" fill="#2c31a2" opacity="1.00" filter="url(#bl12)"/>
</g>
<circle cx="588.8" cy="90.6" r="19.799999999999997" fill="none" stroke="#5a61b5" stroke-width="1.2" opacity="0.8"/>
<clipPath id="pc11"><circle cx="634" cy="90.6" r="20.4"/></clipPath>
<circle cx="634" cy="90.6" r="20.4" fill="url(#lg_vlight)"/>
<circle cx="634" cy="90.6" r="20.4" fill="url(#rg_vlight)"/>
<g clip-path="url(#pc11)">
<ellipse cx="634" cy="100.6" rx="17.3" ry="7.8" fill="#c0c4d2" opacity="0.45" filter="url(#bl3)"/>
<rect x="613.6" y="70.19999999999999" width="40.8" height="40.8" fill="#fff" filter="url(#nzd3)" opacity="0.05"/>
<path d="M642,72.19999999999999 Q649,90.6 642,109.0 Q653,90.6 642,72.19999999999999Z" fill="#dfe3ef" opacity="0.4" filter="url(#bl12)"/>
<path d="M638.9,90.2Q639.1,90.4 639.1,90.6Q639.1,90.9 638.8,91.1Q638.6,91.3 638.2,91.4Q637.8,91.5 637.5,91.5Q637.1,91.6 636.7,91.6Q636.4,91.6 636.0,91.5Q635.6,91.5 635.3,91.4Q635.0,91.2 635.1,91.0Q635.1,90.8 635.0,90.5Q635.0,90.3 635.2,90.1Q635.5,89.9 635.8,89.8Q636.2,89.7 636.5,89.6Q636.9,89.5 637.3,89.5Q637.7,89.5 638.0,89.6Q638.4,89.7 638.5,89.9Q638.6,90.1 638.9,90.2Z" fill="#2c31a2" opacity="1.00" filter="url(#bl07)"/>
</g>
<circle cx="634" cy="90.6" r="19.799999999999997" fill="none" stroke="#8c94c6" stroke-width="1.2" opacity="0.55"/>
<clipPath id="pc12"><circle cx="150.3" cy="137.8" r="20.4"/></clipPath>
<circle cx="150.3" cy="137.8" r="20.4" fill="url(#lg_hct)"/>
<circle cx="150.3" cy="137.8" r="20.4" fill="url(#rg_hct)"/>
<g clip-path="url(#pc12)">
<ellipse cx="150.3" cy="148.8" rx="17.3" ry="7.1" fill="#c4c7d0" opacity="0.7" filter="url(#bl3)"/>
<rect x="129.9" y="117.4" width="40.8" height="40.8" fill="#fff" filter="url(#nzd0)" opacity="0.39"/>
<ellipse cx="148.3" cy="137.8" rx="17" ry="14" fill="url(#halo)" opacity="0.80"/>
<path d="M137.3,133.9l-0.8,-0.2M153.0,140.0l1.8,0.6M141.7,136.3l-1.4,-0.1M141.9,130.5l-0.2,-0.5M145.8,131.2l-0.1,-0.7M148.2,140.7l0.3,1.3M155.8,127.0l1.3,-0.7M144.5,135.3l-0.8,-1.3M149.0,133.3l-0.1,-1.2M156.9,139.8l1.0,0.4M147.4,138.8l-0.9,0.5M151.8,142.6l0.3,0.5M143.6,136.4l-1.4,-1.2M148.8,146.3l-0.2,0.7M157.2,128.2l1.7,-0.1M144.0,135.5l-0.9,-0.7M155.4,144.2l0.4,0.5M154.1,128.6l0.5,-1.5M152.0,138.3l0.9,0.1M150.0,137.7l1.1,0.2M132.6,140.6l-0.7,0.6M145.9,146.3l-1.0,1.5M159.1,140.3l1.5,0.2M147.8,142.7l-0.1,0.6M138.1,129.6l-1.0,-0.2M148.2,145.3l-0.4,1.5M153.4,130.4l0.5,-1.3M159.3,129.4l0.9,-0.8M153.4,136.9l0.9,0.2M145.2,137.9l-1.1,-0.1M138.0,134.3l-1.9,-0.4M144.0,140.8l-0.3,0.4M135.9,140.5l-1.4,-0.2M142.9,136.6l-1.6,0.1M155.0,144.5l0.7,1.3M143.2,132.7l-0.9,-0.8M148.2,147.0l0.2,0.7M140.4,139.3l-1.3,0.4M143.3,138.3l-1.6,-0.6M138.7,135.8l-1.6,-1.1M143.0,143.4l-1.3,0.8M136.2,143.2l-1.2,0.9M147.0,132.4l0.1,-1.0M151.9,136.5l0.8,-0.4M143.4,127.0l-0.5,-1.8M158.0,140.8l1.4,0.2M148.8,139.9l0.4,1.0M157.5,142.8l0.6,0.8M136.0,134.5l-1.1,-0.0M144.9,134.5l-0.4,-0.9M151.2,133.3l0.7,-0.9M150.2,144.0l0.2,1.9M141.7,140.4l-1.3,0.2M144.0,142.1l-1.6,0.3M158.6,145.0l0.8,0.8M145.0,152.5l0.1,1.5M133.2,139.3l-0.7,0.1M145.7,130.9l0.4,-1.1M144.1,135.4l-0.8,-0.4M154.5,144.6l1.4,1.2M154.8,137.7l0.8,-0.0M151.0,140.5l0.5,1.5M157.9,134.7l0.9,-0.4M156.5,152.9l0.8,1.4M150.5,135.7l1.0,-0.9M154.6,137.0l1.3,-1.0M157.6,143.9l0.8,0.0M142.2,138.0l-1.7,0.9M154.4,134.8l1.1,-0.4M149.4,139.7l1.8,0.9M156.5,139.6l1.8,0.0M139.4,137.1l-1.3,-0.0M152.6,143.4l0.7,0.5M148.8,146.6l-0.3,0.8M136.0,144.3l-0.8,0.3M148.6,143.9l-0.1,0.8M141.5,141.5l-1.3,0.6M148.3,140.4l0.7,1.8M148.0,142.8l0.7,1.5M143.5,139.6l-1.6,-0.5M146.3,141.0l-0.8,0.9M143.1,136.1l-0.9,-0.2M144.5,137.1l-1.1,-0.1M155.5,149.3l1.2,0.9M142.8,145.0l-0.8,1.2M136.2,135.6l-0.6,-0.0M148.5,133.4l-1.0,-1.4M160.1,133.4l0.7,-0.4M156.0,128.5l0.6,-1.1M155.7,138.3l1.2,0.6M154.2,138.1l1.1,0.5M144.7,144.2l-0.2,0.7M150.4,130.7l-0.1,-1.5M153.0,141.6l1.3,0.8M145.1,134.1l-0.9,-1.1M146.4,142.7l-0.2,0.6M154.0,136.3l0.7,-0.2M146.9,140.5l0.2,1.7M146.6,137.4l-1.3,0.6M153.6,128.8l0.0,-1.6M152.8,147.5l1.4,0.9M151.3,139.9l1.0,1.0M156.4,135.7l0.9,-0.3M141.0,141.1l-0.5,0.6M159.0,132.9l1.5,-0.1M148.5,134.1l-0.2,-1.1M157.5,139.8l1.2,0.3M139.1,135.5l-1.2,0.1M144.7,141.8l-0.9,1.1M142.6,133.0l-1.3,-0.8M141.8,142.6l-0.9,1.1M144.2,133.3l-0.6,-0.1M155.2,149.1l0.9,1.6M153.2,140.4l0.8,0.7M141.0,139.1l-1.6,0.3M150.6,131.1l1.6,-1.2M143.9,136.7l-1.3,-0.1M133.1,132.6l-1.4,0.4M143.6,138.7l-0.6,-0.1M148.9,140.7l0.3,1.5M145.9,133.9l-0.5,-0.6M144.1,143.2l-1.1,1.3M143.7,141.5l-0.8,0.7M145.2,138.3l-1.2,0.1M146.5,140.1l-1.3,1.4M150.7,136.9l1.2,-0.5M154.6,147.3l0.2,1.0M152.9,136.0l0.3,-0.5M152.2,133.4l0.4,-0.5M137.1,143.2l-1.8,0.4M149.6,139.9l0.5,0.4" stroke="#363cab" stroke-width="1.0" stroke-linecap="round" opacity="0.5" filter="url(#bl04)"/>
<path d="M155.8,137.0Q155.9,137.8 158.8,139.3Q161.6,140.9 157.6,140.8Q153.6,140.8 152.2,141.0Q150.8,141.2 149.6,141.3Q148.3,141.5 146.7,141.8Q145.0,142.2 142.0,142.6Q139.0,143.0 139.3,141.4Q139.7,139.8 140.0,138.8Q140.4,137.8 141.4,137.1Q142.4,136.4 141.8,135.2Q141.3,133.9 143.2,133.8Q145.2,133.6 146.7,133.2Q148.3,132.8 150.5,132.4Q152.7,131.9 152.8,133.6Q153.0,135.2 154.3,135.7Q155.6,136.1 155.8,137.0Z" fill="#2c31a2" opacity="0.85" filter="url(#bl12)"/>
</g>
<circle cx="150.3" cy="137.8" r="19.799999999999997" fill="none" stroke="#4a52b0" stroke-width="1.2" opacity="0.85"/>
<clipPath id="pc13"><circle cx="193.8" cy="137.8" r="20.4"/></clipPath>
<circle cx="193.8" cy="137.8" r="20.4" fill="url(#lg_hct)"/>
<circle cx="193.8" cy="137.8" r="20.4" fill="url(#rg_hct)"/>
<g clip-path="url(#pc13)">
<ellipse cx="193.8" cy="148.8" rx="17.3" ry="7.1" fill="#c4c7d0" opacity="0.7" filter="url(#bl3)"/>
<rect x="173.4" y="117.4" width="40.8" height="40.8" fill="#fff" filter="url(#nzd1)" opacity="0.39"/>
<ellipse cx="193.8" cy="138.8" rx="18" ry="15" fill="url(#halo)" opacity="0.80"/>
<path d="M192.7,141.8l-0.3,0.4M195.4,143.1l0.6,1.0M192.2,138.6l-1.1,-0.7M201.7,133.0l1.3,-0.9M180.4,138.6l-1.5,-0.5M180.1,135.6l-1.3,0.1M185.7,135.1l-0.5,-0.4M180.2,138.9l-1.3,0.6M195.8,137.7l1.4,-1.4M194.9,142.9l-0.0,0.7M194.0,131.5l0.0,-1.8M187.4,143.3l-1.3,0.9M203.3,131.3l1.2,-1.0M196.9,138.5l1.9,-0.4M191.9,138.5l-0.7,0.1M194.7,149.9l0.4,0.6M188.1,140.5l-0.9,0.3M190.6,132.8l-0.4,-1.1M179.0,130.3l-0.8,-1.6M186.9,139.4l-1.2,-0.2M187.4,132.1l-0.9,-0.3M194.2,141.4l-0.5,1.7M199.2,140.0l1.8,0.4M207.1,138.6l1.9,0.2M205.6,137.0l1.3,-1.0M195.9,133.8l0.5,-1.2M190.3,134.0l-1.3,-1.4M190.5,139.9l-1.9,0.2M210.2,134.4l1.7,0.1M181.5,136.5l-1.6,-0.2M201.2,128.5l1.1,-1.2M194.5,125.5l0.2,-2.0M183.1,141.9l-0.9,0.5M183.8,137.3l-1.8,-0.1M191.5,127.6l-0.5,-1.1M195.0,135.4l0.0,-0.7M201.4,138.9l0.8,0.0M199.2,130.4l1.4,-1.3M193.1,137.6l-0.4,-1.5M186.1,134.3l-1.0,-0.3M203.9,142.8l1.3,1.4M197.6,134.6l0.6,-1.6M207.2,135.9l0.5,0.1M193.3,132.0l-0.6,-1.7M188.3,134.9l-0.5,-1.3M194.2,147.2l0.2,1.8M197.0,119.7l-0.5,-1.0M197.6,144.4l0.6,0.9M201.4,138.5l0.6,-0.1M205.2,136.6l0.7,0.1M187.3,135.0l-1.6,-1.1M187.3,141.4l-0.8,0.0M200.2,139.3l1.2,0.3M190.0,133.9l-0.8,-1.0M200.2,141.1l1.6,0.4M207.4,136.2l1.5,-1.0M193.7,136.7l0.5,-1.7M203.0,149.7l0.5,0.5M184.1,135.2l-1.9,-0.4M191.3,133.8l-0.9,-1.7M191.6,140.4l-0.6,0.6M188.7,136.0l-0.6,-0.8M185.4,127.0l0.0,-1.9M192.9,138.6l-0.4,-0.5M191.2,137.6l-0.4,-0.6M204.6,137.2l0.4,-0.2M194.5,136.7l0.8,-0.9M184.7,137.4l-1.5,-0.3M202.8,140.7l0.6,0.4M188.7,137.0l-1.0,0.1M195.1,130.6l-0.1,-0.9M198.6,135.7l1.0,0.0M194.8,132.8l0.3,-1.9M194.2,139.0l1.3,-0.5M198.0,140.2l1.1,1.0M197.0,143.9l0.5,0.7M194.6,142.3l-0.1,1.1M195.4,128.3l0.6,-0.7M198.1,131.9l0.8,-1.1M194.9,140.2l1.0,1.2M195.1,148.3l-0.1,0.9M183.2,148.0l-1.9,0.1M202.2,135.2l1.8,-0.3M196.1,143.6l0.2,0.5M199.0,134.8l0.7,-0.3M197.3,130.8l0.8,-1.2M201.5,143.2l1.2,1.3M196.6,137.9l0.8,0.2M183.3,145.7l-1.3,0.3M194.0,135.4l-0.9,-1.2M194.6,142.9l0.6,1.2M194.5,147.0l-0.2,1.1M197.4,139.8l1.3,1.3M188.0,124.8l0.1,-0.7M191.1,123.9l-0.1,-0.7M194.5,148.6l-0.3,1.4M190.1,139.3l-0.7,0.2M190.6,131.3l-1.0,-1.4M195.7,135.8l0.6,-1.1M197.8,151.3l0.3,1.5M196.9,132.0l1.4,-1.1M186.3,140.3l-0.9,0.4M205.9,142.5l0.8,-0.5M197.5,127.3l1.0,-1.7M194.5,125.8l0.4,-1.4M191.0,147.5l-0.9,1.7M189.6,138.7l-1.2,0.1M192.6,144.5l-0.6,1.6M192.8,126.5l-0.2,-0.5M196.0,140.8l1.0,0.4M198.9,144.3l0.4,0.5M195.3,135.8l0.9,-1.5M182.1,130.7l-0.8,-0.4M192.3,143.3l0.0,1.5M192.2,137.3l-1.2,-1.3M201.4,146.7l0.7,0.5M203.1,141.1l0.8,-0.3M203.2,139.1l0.5,0.0M199.2,126.9l0.6,-1.2M194.9,139.0l1.6,1.0M193.7,133.7l-0.4,-1.6M189.9,138.1l-1.1,-1.1M199.2,135.2l0.9,-0.2M191.0,135.5l-0.5,-0.4M203.9,140.9l1.6,0.4M197.3,145.4l0.1,0.9M182.3,149.9l-1.7,0.9M181.2,127.1l-1.4,-0.5M188.0,136.0l-0.9,-0.1M200.6,130.9l0.4,-1.5M194.1,140.3l0.7,1.6M199.8,131.5l0.8,-1.2M183.0,135.7l-0.9,0.1M190.4,143.6l-1.4,1.2M199.7,137.1l1.0,-0.7M189.7,143.6l-0.6,0.2M194.6,143.8l0.1,0.6M198.5,135.0l1.1,-1.0M185.2,133.6l-0.9,-0.1M195.1,129.4l0.2,-0.8M192.8,130.5l0.4,-1.3M192.1,139.4l-0.9,0.6M182.6,143.0l-1.8,0.7M189.1,146.1l-1.0,1.7M188.4,134.5l-1.0,-0.9M194.5,137.1l-0.0,-1.7M182.3,142.8l-1.0,0.8M187.3,134.8l-0.6,-0.1M188.4,130.0l-1.2,-0.4M202.6,142.6l0.8,0.7" stroke="#363cab" stroke-width="1.0" stroke-linecap="round" opacity="0.5" filter="url(#bl04)"/>
<path d="M204.1,138.5Q205.4,139.8 203.1,140.8Q200.8,141.8 202.7,144.5Q204.7,147.2 200.6,145.8Q196.5,144.3 195.2,146.0Q193.8,147.7 191.8,147.1Q189.7,146.5 187.6,146.0Q185.4,145.5 185.4,143.9Q185.3,142.2 184.4,141.0Q183.5,139.8 184.4,138.6Q185.2,137.4 186.8,136.8Q188.4,136.1 189.5,135.2Q190.5,134.3 192.1,133.9Q193.8,133.5 196.0,133.0Q198.2,132.5 198.6,134.4Q199.0,136.3 200.9,136.8Q202.8,137.3 204.1,138.5Z" fill="#2c31a2" opacity="0.80" filter="url(#bl12)"/>
</g>
<circle cx="193.8" cy="137.8" r="19.799999999999997" fill="none" stroke="#4a52b0" stroke-width="1.2" opacity="0.85"/>
<clipPath id="pc14"><circle cx="237.3" cy="137.8" r="20.4"/></clipPath>
<circle cx="237.3" cy="137.8" r="20.4" fill="url(#lg_hct)"/>
<circle cx="237.3" cy="137.8" r="20.4" fill="url(#rg_hct)"/>
<g clip-path="url(#pc14)">
<ellipse cx="237.3" cy="148.8" rx="17.3" ry="7.1" fill="#c4c7d0" opacity="0.7" filter="url(#bl3)"/>
<rect x="216.9" y="117.4" width="40.8" height="40.8" fill="#fff" filter="url(#nzd2)" opacity="0.39"/>
<ellipse cx="237.3" cy="138.8" rx="18" ry="15" fill="url(#halo)" opacity="0.80"/>
<path d="M227.9,140.2l-1.0,0.0M227.4,147.0l-0.6,0.7M222.8,135.1l-1.0,-0.8M240.4,137.9l0.8,-0.1M230.0,141.3l-1.2,0.7M233.7,127.7l-0.4,-1.7M239.0,156.0l0.3,0.8M235.3,137.2l-1.4,-0.5M236.7,151.3l0.0,1.2M252.5,132.1l1.3,-0.2M228.0,136.4l-0.5,-0.4M233.4,139.9l-0.6,0.2M239.8,134.2l0.8,-1.0M238.2,139.5l0.6,0.4M239.8,139.0l1.9,-0.1M245.4,131.4l0.5,-1.3M246.9,133.8l1.1,-0.5M244.6,149.8l0.2,1.2M240.0,145.8l0.4,1.3M231.6,142.7l-0.7,0.4M225.8,138.5l-1.4,-0.1M248.7,138.9l0.6,-0.8M245.6,138.6l0.6,-0.1M237.0,137.0l-0.1,-0.5M245.5,142.8l1.4,0.8M242.9,135.4l1.3,-0.7M247.8,138.5l1.4,-0.6M240.5,144.6l0.7,0.5M238.0,135.9l0.4,-0.7M243.8,134.0l1.4,-1.3M224.6,143.5l-1.7,0.1M234.5,132.4l-0.3,-0.6M228.0,126.9l-0.9,-0.9M231.2,134.9l-1.2,-1.2M246.0,139.1l1.6,-0.2M237.0,138.7l-0.6,-0.6M230.7,135.0l-1.5,-0.7M230.0,136.0l-1.2,-0.4M237.2,144.1l-0.5,1.5M234.5,143.7l-0.5,0.4M238.0,142.0l-0.8,1.8M239.9,138.1l1.6,-0.4M236.1,137.2l-0.5,-0.7M234.5,140.7l-0.4,0.8M223.7,138.2l-0.8,0.2M231.7,142.5l-1.1,0.6M230.4,134.8l-1.4,-0.4M230.0,128.5l-0.4,-1.2M243.4,129.2l0.4,-0.8M228.4,146.2l-0.8,0.4M230.0,133.6l-0.8,-0.3M232.3,135.6l-1.0,-1.5M234.6,143.8l-0.3,1.4M239.9,139.2l1.6,-0.6M234.2,122.2l-0.7,-1.3M239.9,134.2l1.0,-0.6M228.7,136.1l-0.9,-0.2M238.1,123.5l0.1,-0.7M253.9,129.1l0.5,-0.2M231.4,140.5l-0.9,0.3M247.8,135.3l0.8,-0.1M224.5,136.0l-1.0,-0.2M223.4,139.1l-0.7,0.1M248.2,138.7l1.4,0.1M227.1,133.7l-1.6,0.2M245.9,127.2l0.3,-0.7M234.8,146.5l0.4,1.5M242.5,134.6l1.3,-1.0M227.0,129.9l-1.1,-0.6M235.5,133.1l-0.3,-1.3M240.7,142.7l0.8,1.0M238.5,138.3l1.4,-1.2M228.7,133.0l-0.9,-0.4M253.1,141.5l1.9,-0.0M235.4,135.2l-0.5,-0.9M232.9,134.7l-0.6,-0.8M241.4,144.2l0.2,1.0M244.8,137.2l1.7,-1.0M245.9,132.0l1.8,-0.6M223.2,131.6l-0.5,-0.4M232.9,143.0l-1.2,1.2M236.7,144.7l-0.3,1.2M243.1,131.3l0.7,-0.5M246.3,134.0l1.5,-1.2M231.6,140.4l-0.9,0.5M255.0,139.2l1.4,0.6M240.2,137.9l1.1,-0.6M247.9,135.4l0.5,-0.4M241.8,140.0l0.9,0.2M241.8,139.9l1.2,0.4M237.5,135.1l0.3,-0.6M244.1,143.5l0.6,0.7M239.3,131.5l-0.0,-0.5M236.2,141.5l-0.2,1.7M243.6,142.9l0.6,0.2M236.2,152.5l0.4,2.0M225.5,136.0l-0.8,0.0M232.2,134.5l-1.4,-0.7M243.4,140.2l1.0,0.7M245.6,136.3l1.2,0.3M235.4,144.9l-0.2,0.5M237.3,151.4l0.2,1.3M246.1,136.0l1.1,-0.4M234.1,133.8l-1.0,-1.1M231.2,146.5l-0.8,0.8M245.8,136.7l0.8,-0.2M236.3,135.1l-1.3,-0.5M240.9,137.7l1.4,-1.4M231.5,142.9l-1.0,0.7M235.6,137.7l-0.9,-1.3M243.1,133.1l1.0,-1.1M234.4,146.7l-0.2,1.2M229.5,138.4l-1.7,-0.2M241.8,137.0l1.3,-0.5M242.6,130.8l0.6,-0.5M254.2,131.8l0.7,-0.3M236.8,142.8l-0.2,1.4M239.2,136.4l0.9,-1.7M229.9,142.0l-1.2,0.0M232.5,138.6l-0.9,0.4M248.4,143.1l0.6,0.2M227.1,138.7l-1.7,0.3M229.5,132.6l-1.0,-1.3M240.6,140.2l1.0,0.5M243.7,131.7l1.2,-1.3M240.4,144.2l0.6,0.5M237.3,137.9l0.2,-1.9M243.2,142.4l1.3,0.9M237.8,133.8l1.1,-1.6M244.1,145.6l0.5,0.3M236.6,129.7l0.2,-1.2M226.2,145.7l-1.0,0.7M228.6,130.4l-0.9,-0.1M227.9,149.1l-0.4,1.0M247.4,140.3l1.2,-0.5M224.2,137.1l-0.7,0.3M233.2,132.9l-0.5,-0.9M243.2,138.0l0.9,-0.5M249.8,142.6l1.6,0.5M222.9,143.5l-1.2,0.3M233.2,150.0l-0.4,1.1M238.5,140.2l0.9,1.1M229.8,134.0l-0.8,-1.0M241.4,137.3l0.7,-0.1M230.1,139.4l-0.8,0.4M231.5,135.0l-1.5,-0.7M240.2,146.9l0.5,1.2M225.7,140.4l-0.8,0.4" stroke="#363cab" stroke-width="1.0" stroke-linecap="round" opacity="0.5" filter="url(#bl04)"/>
<path d="M249.3,138.3Q249.8,139.8 248.7,141.2Q247.5,142.5 249.3,145.6Q251.0,148.7 246.1,147.3Q241.2,145.9 239.2,148.5Q237.3,151.2 235.5,148.3Q233.8,145.4 231.0,145.6Q228.1,145.7 228.8,143.8Q229.5,141.9 228.8,140.9Q228.0,139.8 228.5,138.7Q229.0,137.6 229.5,136.3Q229.9,135.0 231.8,134.5Q233.6,134.0 235.5,134.0Q237.3,134.1 239.3,133.8Q241.3,133.6 243.8,133.7Q246.4,133.9 247.6,135.3Q248.8,136.7 249.3,138.3Z" fill="#2c31a2" opacity="0.80" filter="url(#bl12)"/>
</g>
<circle cx="237.3" cy="137.8" r="19.799999999999997" fill="none" stroke="#4a52b0" stroke-width="1.2" opacity="0.85"/>
<clipPath id="pc15"><circle cx="280.5" cy="137.8" r="20.4"/></clipPath>
<circle cx="280.5" cy="137.8" r="20.4" fill="url(#lg_hct)"/>
<circle cx="280.5" cy="137.8" r="20.4" fill="url(#rg_hct)"/>
<g clip-path="url(#pc15)">
<ellipse cx="280.5" cy="148.8" rx="17.3" ry="7.1" fill="#c4c7d0" opacity="0.7" filter="url(#bl3)"/>
<rect x="260.1" y="117.4" width="40.8" height="40.8" fill="#fff" filter="url(#nzd3)" opacity="0.42"/>
<ellipse cx="280.5" cy="137.8" rx="18" ry="16" fill="url(#halo)" opacity="0.85"/>
<path d="M279.7,140.0l-0.4,2.0M286.4,130.2l0.4,-1.1M285.7,146.1l0.5,0.8M273.5,139.7l-0.8,0.1M265.5,139.8l-1.0,0.5M274.7,129.1l-0.4,-1.4M277.5,139.8l-1.1,0.3M284.2,138.5l0.7,0.5M288.4,147.3l0.5,0.1M274.0,126.8l-0.3,-0.6M278.7,136.1l-1.0,-0.5M276.2,144.5l-0.8,0.6M277.4,144.0l-0.4,1.2M270.9,138.9l-1.7,0.7M270.4,138.9l-1.9,-0.2M286.5,147.2l0.5,1.0M274.4,122.3l-0.7,-1.2M276.9,122.9l-0.1,-0.9M273.7,131.4l-0.8,-1.1M280.5,134.3l-0.0,-1.0M274.3,120.5l-0.3,-1.3M269.4,132.5l-1.7,-0.8M273.5,142.4l-1.0,0.7M286.7,135.5l0.8,-0.4M272.0,140.2l-1.0,0.6M276.3,142.7l-1.6,0.7M279.8,137.9l-1.5,0.5M276.3,133.4l-1.3,-1.5M264.4,142.0l-0.7,0.2M283.6,146.2l-0.1,1.7M274.9,140.3l-1.7,0.1M282.2,145.7l0.1,0.7M274.6,143.3l-1.6,0.7M281.1,143.6l0.8,0.9M274.3,143.9l-1.0,1.0M283.2,138.9l1.0,0.8M278.5,141.6l-0.9,1.3M272.0,128.9l-0.2,-1.1M276.0,145.2l-0.0,0.7M285.4,134.2l1.1,-1.1M285.7,135.4l1.9,-0.4M273.6,155.3l0.0,0.6M273.2,144.1l-1.5,1.1M270.5,140.3l-1.8,0.1M274.6,130.0l-0.4,-0.6M281.6,145.5l0.1,1.3M279.0,141.4l-0.9,1.5M288.6,136.0l1.3,0.0M281.0,132.1l0.5,-1.4M278.7,132.9l-0.3,-0.5M274.1,142.7l-0.5,0.3M295.2,137.4l1.5,0.1M291.2,143.6l1.8,0.2M278.4,146.6l-0.9,0.9M267.0,137.2l-1.1,-0.7M274.8,139.6l-0.8,0.3M277.9,145.8l-0.2,1.0M278.7,132.5l-0.5,-0.4M287.6,151.8l0.4,0.3M276.0,149.1l-0.8,1.2M289.6,137.6l1.6,-0.1M275.9,145.6l-0.1,0.7M278.1,133.4l-0.5,-1.9M281.9,133.6l0.1,-1.4M284.6,141.0l1.3,0.8M279.2,135.6l-0.6,-1.1M295.7,142.7l1.8,-0.0M279.2,128.6l0.2,-1.2M281.4,149.6l0.0,1.0M281.0,128.2l0.1,-1.4M281.5,142.4l-0.2,1.2M269.5,137.7l-0.7,-0.4M281.9,138.8l0.7,0.8M281.7,140.4l-0.2,1.5M280.8,133.9l0.1,-0.6M280.0,146.5l-0.1,1.1M287.4,150.4l0.8,1.7M281.7,140.2l0.2,1.0M279.5,137.1l-0.5,-0.2M277.2,133.1l-0.7,-0.7M275.4,148.0l-0.5,0.8M282.7,138.1l1.9,0.0M269.4,132.3l-0.7,-0.1M279.2,137.1l-1.1,-0.9M278.4,137.5l-1.8,-0.5M280.8,127.5l-0.9,-1.2M277.1,147.3l-0.7,0.7M280.1,137.6l-0.6,0.0M290.5,132.1l0.9,-0.1M280.6,147.3l0.4,1.5M283.0,128.5l0.4,-1.7M272.6,150.0l-1.5,0.6M291.4,127.4l0.2,-1.4M291.2,125.2l0.6,-0.8M283.0,130.9l0.8,-1.0M272.0,139.3l-1.8,0.8M274.3,144.8l-1.1,1.0M288.7,144.4l1.0,0.5M289.6,134.3l0.9,-0.5M273.8,139.7l-1.9,-0.6M284.8,142.2l0.6,0.7M283.2,136.8l1.3,0.2M293.4,134.6l1.1,-0.0M286.1,138.0l0.6,-0.1M276.4,137.9l-1.4,-0.6M284.0,130.2l0.2,-0.8M287.0,136.5l1.1,-1.2M292.1,148.2l1.1,1.5M282.6,140.2l0.5,0.6M279.0,136.1l-0.4,-0.6M287.5,134.1l1.6,-0.4M283.8,140.0l0.6,0.6M270.1,132.6l-1.7,0.1M284.1,146.9l0.2,1.2M284.7,133.8l1.5,-0.2M285.9,138.1l1.1,0.7M281.0,141.8l0.7,1.3M289.0,123.5l1.6,-0.9M285.1,130.3l0.6,-0.1M278.5,146.4l0.0,1.2M277.7,146.7l-0.4,1.4M268.9,143.6l-1.3,0.4M271.9,148.7l-0.6,0.2M268.2,124.9l-1.0,-0.4M279.9,147.6l-0.3,0.7M284.9,144.2l0.2,1.5M273.6,124.0l-0.1,-0.9M292.8,126.1l0.5,-0.1M279.9,136.1l-1.2,-0.6M278.0,135.1l-0.7,-0.2M273.4,136.3l-1.8,-0.4M295.0,141.4l1.2,0.0M287.2,132.7l0.8,-0.2M279.6,128.3l0.1,-0.5M284.6,126.2l0.3,-0.5M273.2,137.5l-1.3,0.1M281.4,138.0l1.6,0.4M291.2,137.3l0.9,-0.1M280.2,130.4l-0.6,-1.1M288.6,140.6l1.3,0.4M279.5,139.3l-0.7,1.3M270.5,148.8l-1.5,1.3M278.6,138.5l-1.5,0.4M291.3,135.7l1.1,0.2M290.2,130.3l1.2,-0.1M275.9,140.4l-0.6,0.3M288.7,144.0l0.5,0.5M290.8,139.1l1.5,0.1M284.8,125.0l-0.2,-1.1M276.6,145.2l-0.7,1.0M284.9,125.9l0.6,-1.8M277.8,127.8l0.8,-1.7M280.4,132.8l0.2,-1.0M293.3,134.4l0.4,-1.0M288.8,135.7l1.5,0.1M278.9,144.8l-0.3,1.3M277.5,139.1l-1.4,1.3M269.8,145.1l-1.3,0.5M281.8,135.8l0.3,-0.5M291.5,129.9l1.7,-0.7M272.4,135.1l-1.1,-0.5M274.1,139.3l-0.7,0.1M275.7,144.1l-0.6,0.4M287.4,139.7l1.0,0.9M273.8,141.7l-1.2,0.8M277.8,135.3l-1.0,-0.6M272.1,154.5l-0.4,1.0M280.9,136.7l0.3,-0.7" stroke="#363cab" stroke-width="1.0" stroke-linecap="round" opacity="0.5" filter="url(#bl04)"/>
<path d="M292.8,137.1Q293.3,138.8 292.1,140.3Q290.8,141.8 288.9,142.6Q287.0,143.4 286.0,144.8Q284.9,146.2 282.7,146.0Q280.5,145.8 278.1,146.4Q275.6,147.0 274.5,145.4Q273.4,143.8 269.4,143.5Q265.5,143.2 267.6,141.0Q269.7,138.8 269.6,137.2Q269.5,135.6 271.6,134.8Q273.7,134.1 275.0,132.8Q276.3,131.6 278.4,129.7Q280.5,127.7 282.3,130.3Q284.0,132.8 285.3,133.7Q286.5,134.6 289.4,135.0Q292.3,135.4 292.8,137.1Z" fill="#2c31a2" opacity="0.80" filter="url(#bl12)"/>
</g>
<circle cx="280.5" cy="137.8" r="19.799999999999997" fill="none" stroke="#4a52b0" stroke-width="1.2" opacity="0.85"/>
<clipPath id="pc16"><circle cx="322.6" cy="137.8" r="20.4"/></clipPath>
<circle cx="322.6" cy="137.8" r="20.4" fill="url(#lg_hct)"/>
<circle cx="322.6" cy="137.8" r="20.4" fill="url(#rg_hct)"/>
<g clip-path="url(#pc16)">
<ellipse cx="322.6" cy="148.8" rx="17.3" ry="7.1" fill="#c4c7d0" opacity="0.7" filter="url(#bl3)"/>
<rect x="302.20000000000005" y="117.4" width="40.8" height="40.8" fill="#fff" filter="url(#nzd0)" opacity="0.39"/>
<ellipse cx="322.6" cy="137.8" rx="17" ry="15" fill="url(#halo)" opacity="0.80"/>
<path d="M314.8,138.2l-1.6,-0.8M319.9,134.5l-0.7,-0.8M328.8,141.0l1.9,0.3M325.1,134.1l0.4,-0.7M318.9,130.9l-0.8,-0.8M327.1,134.1l0.3,-0.5M317.2,137.9l-1.6,0.5M318.7,147.9l-0.4,1.4M319.1,137.7l-1.1,-0.0M317.9,133.5l-1.5,-1.0M330.5,138.8l1.5,-0.1M331.0,125.2l0.2,-1.1M314.4,145.4l-1.1,1.6M320.7,138.2l-1.3,0.1M334.5,131.2l1.2,-0.4M313.6,136.8l-1.1,-0.3M327.1,130.9l1.2,-0.6M321.1,132.3l-0.8,-1.7M324.8,134.4l0.8,-0.6M316.4,137.6l-1.5,0.4M312.5,137.5l-1.0,-0.7M315.4,130.2l-0.6,-1.4M329.6,142.0l0.7,0.3M332.7,136.4l0.9,0.1M309.6,132.8l-1.6,-0.2M314.6,132.6l-1.1,-1.0M325.8,148.0l-0.1,0.6M315.6,141.7l-0.6,0.4M317.7,133.9l-0.9,-1.0M331.4,130.5l1.0,-1.0M324.6,127.9l0.0,-1.2M309.7,135.8l-0.6,-0.0M312.3,140.6l-0.9,0.2M323.0,141.4l0.1,0.9M318.1,133.3l-1.4,-1.2M325.8,130.1l0.4,-0.7M325.7,136.6l1.2,-0.5M320.1,130.8l0.4,-1.1M323.5,136.5l0.7,-0.8M323.9,132.8l0.5,-0.9M319.9,144.5l-0.3,1.3M323.5,130.5l-0.1,-1.6M317.9,139.1l-0.9,0.1M321.3,132.2l-0.1,-0.8M326.5,133.7l0.2,-0.7M319.7,134.7l-0.8,-1.0M320.9,125.5l-0.0,-1.2M321.3,134.7l-1.2,-1.5M308.2,138.2l-1.5,-0.4M325.5,141.7l1.4,1.0M323.1,131.3l-0.0,-0.7M314.3,147.6l-0.7,1.7M323.8,148.7l-0.2,0.9M324.6,131.6l0.4,-1.3M311.6,142.1l-0.7,0.4M317.8,138.2l-1.1,-0.2M310.5,137.5l-0.9,-0.2M322.0,137.1l-0.9,-1.1M331.9,139.8l2.0,-0.1M319.0,137.4l-0.7,-0.1M323.3,148.1l0.2,1.8M315.9,140.2l-1.3,0.2M310.2,135.5l-1.4,0.1M336.9,134.7l0.7,-0.4M306.9,132.0l-0.8,-0.6M323.2,137.5l1.5,0.0M330.0,145.2l0.3,0.4M320.8,127.4l-0.7,-1.1M315.3,137.6l-1.2,0.8M316.2,137.6l-1.7,0.6M323.6,130.3l0.1,-2.0M328.3,136.3l1.2,-0.4M313.9,141.6l-1.0,0.6M337.7,140.1l1.8,-0.1M314.0,135.5l-1.2,0.5M329.4,132.0l0.9,-0.8M321.6,144.6l-0.1,1.0M325.4,147.0l0.1,0.6M327.8,134.7l0.8,-0.5M331.5,136.9l1.8,-0.6M325.0,138.4l0.8,0.5M315.3,134.1l-1.2,-0.3M321.2,145.6l0.1,0.9M311.5,130.4l-1.7,-0.7M308.4,139.4l-1.1,-0.2M319.3,145.9l-0.4,1.2M324.3,129.3l-0.2,-0.9M321.4,137.2l-1.4,-0.7M327.8,128.6l0.6,-0.4M320.5,131.6l0.2,-0.6M331.8,130.0l1.3,-0.9M326.5,136.9l1.2,-0.4M327.9,149.3l0.5,1.0M322.3,151.5l-0.1,1.8M322.5,137.4l-0.0,-1.5M320.5,138.5l-0.5,0.4M322.9,148.0l-0.3,1.9M327.5,134.8l1.3,-0.7M315.2,146.8l-0.5,1.7M332.7,141.3l0.9,0.7M333.9,147.5l0.5,0.3M330.8,154.6l1.0,1.2M329.8,144.6l0.8,0.3M324.2,144.8l-0.4,1.4M322.4,127.5l-0.3,-0.9M327.8,134.0l1.1,-1.3M320.8,143.8l-0.3,0.8M323.6,144.4l0.1,1.1M324.2,136.5l1.5,-0.9M322.3,134.8l0.1,-1.4M321.8,138.7l-1.4,0.8M330.5,142.6l1.4,0.8M317.9,144.1l-1.0,1.6M329.8,137.7l1.8,0.6M310.1,141.2l-1.4,0.8M321.2,134.3l-1.2,-1.6M334.3,144.5l1.1,0.5M311.6,137.8l-1.5,0.1M327.5,133.0l0.9,-0.9M311.6,138.7l-0.6,0.3M310.8,136.3l-1.7,-0.5M329.4,150.3l0.4,0.9M315.4,145.2l-0.4,0.6M320.0,126.2l0.2,-2.0M320.4,128.3l-0.3,-0.7M308.0,145.2l-0.5,0.0M315.4,136.9l-0.7,-0.4M317.7,144.3l-0.9,0.9M313.4,139.5l-1.7,-0.1M325.1,136.8l0.8,-0.1M335.9,133.0l0.9,-0.6M326.2,148.0l1.4,1.4M329.3,130.3l0.7,-0.2M334.0,137.4l0.5,-0.2M319.6,133.8l-0.7,-1.3M319.7,136.0l-0.8,-0.5M318.1,147.9l-0.4,0.7M306.0,139.3l-1.0,-0.2M325.8,147.9l-0.0,0.7" stroke="#363cab" stroke-width="1.0" stroke-linecap="round" opacity="0.5" filter="url(#bl04)"/>
<path d="M331.1,137.8Q333.1,138.8 331.1,139.8Q329.0,140.9 329.3,142.6Q329.6,144.3 327.5,144.1Q325.3,144.0 324.0,147.2Q322.6,150.4 321.0,147.6Q319.4,144.7 318.5,143.7Q317.5,142.7 315.6,142.2Q313.6,141.7 314.2,140.3Q314.8,138.8 314.5,137.5Q314.2,136.1 312.7,133.0Q311.2,130.0 314.3,129.5Q317.4,129.0 320.0,129.8Q322.6,130.7 324.6,130.9Q326.7,131.1 328.2,132.2Q329.7,133.3 329.4,135.0Q329.0,136.7 331.1,137.8Z" fill="#2c31a2" opacity="0.80" filter="url(#bl12)"/>
</g>
<circle cx="322.6" cy="137.8" r="19.799999999999997" fill="none" stroke="#4a52b0" stroke-width="1.2" opacity="0.85"/>
<clipPath id="pc17"><circle cx="365.8" cy="137.8" r="20.4"/></clipPath>
<circle cx="365.8" cy="137.8" r="20.4" fill="url(#lg_hct)"/>
<circle cx="365.8" cy="137.8" r="20.4" fill="url(#rg_hct)"/>
<g clip-path="url(#pc17)">
<ellipse cx="365.8" cy="148.8" rx="17.3" ry="7.1" fill="#c4c7d0" opacity="0.7" filter="url(#bl3)"/>
<rect x="345.40000000000003" y="117.4" width="40.8" height="40.8" fill="#fff" filter="url(#nzd1)" opacity="0.39"/>
<ellipse cx="365.8" cy="137.8" rx="17" ry="15" fill="url(#halo)" opacity="0.80"/>
<path d="M366.1,132.0l-0.1,-1.8M355.1,131.3l-0.6,-0.8M364.2,146.8l0.5,1.6M369.0,145.1l-0.1,1.7M356.6,145.4l-0.1,0.6M362.8,142.4l-0.4,0.8M367.0,133.1l0.1,-0.7M376.2,140.2l1.4,0.0M371.2,136.7l1.7,-0.2M366.6,142.5l0.4,0.6M362.1,149.5l-0.2,0.5M354.1,133.7l-0.7,-0.3M365.1,143.7l-0.5,1.0M360.6,141.9l-1.0,-0.1M371.1,141.1l0.1,0.6M367.9,140.1l0.6,0.5M376.4,133.1l0.6,-0.2M371.4,145.0l1.6,0.9M359.6,141.5l-0.9,0.9M365.3,148.5l-0.3,1.4M362.4,130.6l-0.3,-1.5M348.9,133.1l-1.0,-0.3M369.9,144.5l0.6,1.7M363.9,141.9l-0.1,0.6M358.4,140.8l-0.7,0.7M362.2,142.8l-0.2,0.8M366.8,135.5l0.8,-1.3M355.0,139.3l-1.7,-0.2M363.0,141.6l-0.8,1.3M356.0,138.6l-1.1,0.4M361.2,137.5l-0.6,0.0M361.4,150.5l-0.8,1.7M356.5,131.3l-1.3,-1.5M375.3,131.6l1.4,-1.3M369.0,141.4l0.9,0.6M361.8,140.1l-1.6,1.1M368.5,141.7l1.0,1.5M366.3,136.1l-1.1,-1.5M356.7,139.7l-1.8,0.2M372.7,135.0l1.0,-0.4M363.3,133.1l-0.8,-1.3M365.1,133.6l0.6,-1.3M374.2,133.7l1.7,0.3M368.3,143.8l0.2,1.3M367.6,137.5l0.6,-0.2M368.5,136.6l0.9,-0.5M355.5,148.2l-0.5,0.5M358.2,132.2l-0.5,-1.6M363.7,138.9l-0.9,0.9M382.5,138.5l1.8,0.5M359.3,137.9l-0.5,0.2M362.8,139.8l-0.4,0.4M378.7,129.7l0.8,-1.5M361.5,142.7l-1.1,0.4M365.0,142.3l-0.2,0.5M369.2,150.2l-0.0,0.5M369.8,133.9l0.4,-1.7M374.7,128.5l0.6,-0.4M364.8,137.2l-1.8,-0.7M358.7,122.5l-0.3,-0.5M371.3,142.0l0.7,0.9M352.1,129.8l-0.5,-0.4M371.2,145.3l1.4,1.4M365.9,151.9l0.7,0.9M365.2,139.0l-0.5,0.4M371.2,136.8l1.2,0.0M371.6,131.2l0.9,-0.8M366.5,133.3l-0.2,-0.9M364.0,147.0l-0.4,0.8M360.1,131.3l-0.6,-1.1M366.0,130.6l0.6,-0.6M357.6,131.8l-1.1,-0.5M369.4,136.2l0.9,-0.7M365.0,136.9l-0.4,-1.4M358.5,135.1l-0.9,-1.1M358.7,132.8l-1.4,-0.6M356.4,147.6l-0.7,0.7M373.6,137.6l0.5,0.2M374.0,142.9l0.8,1.3M362.4,138.4l-1.0,0.3M351.7,138.9l-2.0,-0.3M368.4,137.6l1.7,-0.1M368.7,155.6l0.4,1.9M365.5,134.3l-0.0,-0.6M366.9,143.1l0.1,1.2M360.0,126.2l-0.5,-0.3M369.9,127.0l0.3,-1.0M369.6,142.5l1.0,0.7M371.2,147.8l0.8,0.6M368.2,144.8l1.3,1.0M372.9,140.0l1.1,0.2M371.1,129.6l0.7,-1.6M362.3,132.9l-0.7,-1.1M356.5,136.7l-0.8,-0.1M350.6,136.4l-0.8,-0.0M360.6,147.2l-1.1,1.3M365.8,137.4l-0.0,-0.9M363.9,144.5l-0.7,1.3M358.5,141.3l-1.1,0.4M366.0,139.1l0.0,1.8M359.6,139.5l-0.6,0.4M371.0,133.5l1.7,-0.6M366.3,145.4l0.3,1.2M379.3,133.8l0.7,-0.1M370.5,142.6l1.6,0.3M358.1,135.5l-1.3,-1.2M368.8,134.1l1.0,-1.3M369.2,139.6l1.2,1.1M370.8,133.6l0.8,-0.5M360.5,141.2l-0.9,0.3M371.8,151.9l0.7,0.4M367.5,133.9l1.2,-1.4M360.7,129.1l-0.7,-0.9M363.8,132.2l-0.3,-0.9M357.5,131.1l-1.3,-1.1M355.9,140.6l-0.6,0.3M357.6,142.1l-0.6,0.3M381.0,138.7l1.4,-0.8M363.4,140.6l-0.7,0.7M373.2,143.4l0.4,0.9M359.6,140.7l-0.5,0.5M370.9,148.3l0.2,0.6M363.5,135.6l-1.0,-1.3M368.7,139.3l1.3,1.0M364.5,134.8l-0.9,-1.5M371.0,146.3l0.7,1.0M363.1,138.0l-1.7,-0.1M361.1,132.0l-0.7,-1.5M362.0,133.5l-0.9,-1.5M351.0,137.3l-1.9,0.1M365.8,138.1l-0.3,0.9M363.7,151.3l-0.1,1.3M371.6,134.1l1.4,-0.6M366.1,132.6l-0.5,-1.8M370.1,147.6l0.4,0.4M373.6,140.7l0.6,0.2M363.6,139.5l-0.8,0.8M362.0,145.6l-0.8,1.0M371.3,134.2l1.3,-0.5M359.4,134.6l-0.9,-0.3" stroke="#363cab" stroke-width="1.0" stroke-linecap="round" opacity="0.5" filter="url(#bl04)"/>
<path d="M374.7,137.5Q374.0,138.8 375.4,140.3Q376.9,141.8 375.7,143.1Q374.6,144.5 371.7,144.0Q368.8,143.5 367.3,144.2Q365.8,144.9 363.2,146.0Q360.5,147.1 360.6,144.6Q360.7,142.1 357.7,141.9Q354.8,141.8 354.4,140.3Q354.1,138.8 356.0,137.7Q357.8,136.6 357.8,135.1Q357.9,133.6 360.3,133.8Q362.7,134.0 364.3,132.4Q365.8,130.7 367.9,131.4Q370.1,132.1 372.1,132.8Q374.1,133.4 374.7,134.8Q375.3,136.2 374.7,137.5Z" fill="#2c31a2" opacity="0.80" filter="url(#bl12)"/>
</g>
<circle cx="365.8" cy="137.8" r="19.799999999999997" fill="none" stroke="#4a52b0" stroke-width="1.2" opacity="0.85"/>
<clipPath id="pc18"><circle cx="409.4" cy="137.8" r="20.4"/></clipPath>
<circle cx="409.4" cy="137.8" r="20.4" fill="url(#lg_hctl)"/>
<circle cx="409.4" cy="137.8" r="20.4" fill="url(#rg_hctl)"/>
<g clip-path="url(#pc18)">
<ellipse cx="409.4" cy="148.8" rx="17.3" ry="7.1" fill="#c4c7d0" opacity="0.7" filter="url(#bl3)"/>
<rect x="389.0" y="117.4" width="40.8" height="40.8" fill="#fff" filter="url(#nzd2)" opacity="0.21"/>
<ellipse cx="406.4" cy="135.8" rx="11" ry="9" fill="url(#halo)" opacity="0.50"/>
<path d="M404.4,135.8l-1.0,-0.0M405.5,137.1l-0.4,0.5M410.6,128.8l0.4,-0.9M403.6,138.9l-1.0,1.2M402.8,138.6l-0.7,0.8M406.9,131.5l-0.5,-1.4M402.2,138.2l-1.0,0.1M411.6,136.4l0.7,0.2M410.4,133.0l0.5,-0.2M401.6,144.6l-0.7,0.8M406.2,126.6l0.7,-0.6M411.1,135.5l1.9,0.4M409.2,134.8l1.8,-0.7M391.6,141.5l-1.1,0.4M405.7,130.6l-0.7,-1.6M414.7,133.4l1.4,-0.5M409.5,132.9l1.5,-1.0M398.7,140.1l-1.7,0.9M415.0,141.4l0.7,0.6M400.9,137.3l-1.6,0.6M397.3,140.2l-0.8,0.8M410.4,134.9l0.5,-0.1M403.8,137.3l-0.8,0.2M404.8,139.0l-0.5,1.2M405.7,132.3l-0.3,-0.5M408.1,134.0l0.7,-0.9M416.4,135.9l1.1,0.2M408.2,131.7l0.2,-1.6M409.2,138.7l1.5,1.2M409.3,137.9l1.4,1.0M411.7,136.3l1.1,0.1M401.7,140.5l-0.6,0.2M419.4,137.9l0.6,-0.1M401.4,139.6l-1.0,0.5" stroke="#363cab" stroke-width="1.0" stroke-linecap="round" opacity="0.5" filter="url(#bl04)"/>
<path d="M413.5,136.1Q413.4,136.8 414.2,137.6Q415.0,138.5 415.4,139.9Q415.9,141.4 413.0,140.5Q410.2,139.5 409.3,140.2Q408.4,140.8 407.4,140.3Q406.4,139.7 405.0,139.7Q403.6,139.7 402.3,139.2Q401.0,138.7 401.1,137.7Q401.2,136.8 402.3,136.2Q403.4,135.5 402.2,133.9Q400.9,132.2 403.7,133.1Q406.6,134.1 407.5,133.4Q408.4,132.8 409.9,132.5Q411.4,132.3 412.1,133.2Q412.7,134.1 413.1,134.8Q413.5,135.5 413.5,136.1Z" fill="#2c31a2" opacity="1.00" filter="url(#bl12)"/>
</g>
<circle cx="409.4" cy="137.8" r="19.799999999999997" fill="none" stroke="#5a61b5" stroke-width="1.2" opacity="0.8"/>
<clipPath id="pc19"><circle cx="454.6" cy="137.8" r="20.4"/></clipPath>
<circle cx="454.6" cy="137.8" r="20.4" fill="url(#lg_hctl)"/>
<circle cx="454.6" cy="137.8" r="20.4" fill="url(#rg_hctl)"/>
<g clip-path="url(#pc19)">
<ellipse cx="454.6" cy="148.8" rx="17.3" ry="7.1" fill="#c4c7d0" opacity="0.7" filter="url(#bl3)"/>
<rect x="434.20000000000005" y="117.4" width="40.8" height="40.8" fill="#fff" filter="url(#nzd3)" opacity="0.18"/>
<ellipse cx="453.6" cy="135.8" rx="9" ry="8" fill="url(#halo)" opacity="0.45"/>
<path d="M451.0,131.9l-0.5,-0.7M453.3,139.9l-0.2,1.0M452.2,136.6l-1.2,0.8M447.6,130.2l-0.6,-0.7M449.1,135.5l-1.6,-0.5M458.3,136.2l1.1,0.4M453.1,135.9l-1.5,-0.1M456.3,136.9l1.2,0.8M454.9,137.2l0.4,0.6M455.0,134.9l0.9,-1.2M450.9,131.8l-1.1,-1.2M452.8,141.2l-0.2,0.8M451.7,140.0l-0.6,1.6M454.0,134.7l0.8,-0.9M454.7,132.6l0.1,-1.7M457.1,130.9l1.3,-1.3M453.2,138.3l-0.1,0.5M454.1,134.2l0.0,-0.5M456.0,133.7l0.7,-1.6M452.8,140.7l0.0,1.9M455.9,130.9l0.6,-1.7M450.5,132.5l-0.8,-0.7" stroke="#363cab" stroke-width="1.0" stroke-linecap="round" opacity="0.5" filter="url(#bl04)"/>
<path d="M460.5,136.1Q461.7,136.8 461.2,137.7Q460.6,138.6 460.0,139.4Q459.3,140.2 457.8,140.0Q456.3,139.7 455.4,140.7Q454.6,141.7 453.3,141.5Q452.1,141.2 451.7,140.2Q451.4,139.1 449.8,138.9Q448.3,138.7 446.3,137.8Q444.3,136.8 446.3,135.9Q448.3,134.9 450.0,134.8Q451.7,134.7 452.3,134.2Q452.9,133.8 453.8,132.1Q454.6,130.4 456.1,131.0Q457.5,131.6 458.4,132.5Q459.3,133.4 459.3,134.4Q459.4,135.4 460.5,136.1Z" fill="#2c31a2" opacity="1.00" filter="url(#bl12)"/>
</g>
<circle cx="454.6" cy="137.8" r="19.799999999999997" fill="none" stroke="#5a61b5" stroke-width="1.2" opacity="0.8"/>
<clipPath id="pc20"><circle cx="500" cy="137.8" r="20.4"/></clipPath>
<circle cx="500" cy="137.8" r="20.4" fill="url(#lg_hctl)"/>
<circle cx="500" cy="137.8" r="20.4" fill="url(#rg_hctl)"/>
<g clip-path="url(#pc20)">
<ellipse cx="500" cy="148.8" rx="17.3" ry="7.1" fill="#c4c7d0" opacity="0.7" filter="url(#bl3)"/>
<rect x="479.6" y="117.4" width="40.8" height="40.8" fill="#fff" filter="url(#nzd0)" opacity="0.09"/>
<path d="M499.1,136.5Q499.3,136.8 499.2,137.2Q499.2,137.6 499.0,138.0Q498.8,138.4 498.4,138.5Q497.9,138.7 497.5,138.7Q497.0,138.7 496.6,138.6Q496.2,138.5 495.8,138.3Q495.5,138.1 495.2,137.8Q494.8,137.6 494.7,137.2Q494.6,136.8 494.8,136.4Q495.0,136.1 495.1,135.7Q495.3,135.3 495.7,135.1Q496.1,134.9 496.5,134.8Q497.0,134.8 497.4,134.9Q497.9,134.9 498.2,135.2Q498.6,135.4 498.7,135.8Q498.9,136.1 499.1,136.5Z" fill="#2c31a2" opacity="1.00" filter="url(#bl07)"/>
</g>
<circle cx="500" cy="137.8" r="19.799999999999997" fill="none" stroke="#5a61b5" stroke-width="1.2" opacity="0.8"/>
<clipPath id="pc21"><circle cx="544.7" cy="137.8" r="20.4"/></clipPath>
<circle cx="544.7" cy="137.8" r="20.4" fill="url(#lg_vlight)"/>
<circle cx="544.7" cy="137.8" r="20.4" fill="url(#rg_vlight)"/>
<g clip-path="url(#pc21)">
<ellipse cx="544.7" cy="147.8" rx="17.3" ry="7.8" fill="#c0c4d2" opacity="0.45" filter="url(#bl3)"/>
<rect x="524.3000000000001" y="117.4" width="40.8" height="40.8" fill="#fff" filter="url(#nzd1)" opacity="0.05"/>
<path d="M552.7,119.4 Q559.7,137.8 552.7,156.20000000000002 Q563.7,137.8 552.7,119.4Z" fill="#dfe3ef" opacity="0.4" filter="url(#bl12)"/>
</g>
<circle cx="544.7" cy="137.8" r="19.799999999999997" fill="none" stroke="#8c94c6" stroke-width="1.2" opacity="0.55"/>
<clipPath id="pc22"><circle cx="588.8" cy="137.8" r="20.4"/></clipPath>
<circle cx="588.8" cy="137.8" r="20.4" fill="url(#lg_vlight)"/>
<circle cx="588.8" cy="137.8" r="20.4" fill="url(#rg_vlight)"/>
<g clip-path="url(#pc22)">
<ellipse cx="588.8" cy="147.8" rx="17.3" ry="7.8" fill="#c0c4d2" opacity="0.45" filter="url(#bl3)"/>
<rect x="568.4" y="117.4" width="40.8" height="40.8" fill="#fff" filter="url(#nzd2)" opacity="0.05"/>
<path d="M605.2,142.5Q605.2,143.0 605.1,143.5Q604.9,144.1 604.7,144.5Q604.5,145.0 604.2,145.3Q603.9,145.5 603.6,145.5Q603.3,145.5 603.1,145.2Q602.9,144.9 602.7,144.7Q602.4,144.6 602.4,144.1Q602.4,143.5 602.3,143.0Q602.3,142.5 602.4,142.0Q602.6,141.5 602.9,141.2Q603.2,141.0 603.5,140.8Q603.7,140.6 604.0,140.6Q604.2,140.5 604.5,140.5Q604.8,140.4 604.9,140.8Q605.1,141.2 605.2,141.6Q605.3,142.0 605.2,142.5Z" fill="#2c31a2" opacity="0.95" filter="url(#bl07)"/>
</g>
<circle cx="588.8" cy="137.8" r="19.799999999999997" fill="none" stroke="#8c94c6" stroke-width="1.2" opacity="0.55"/>
<clipPath id="pc23"><circle cx="634" cy="137.8" r="20.4"/></clipPath>
<circle cx="634" cy="137.8" r="20.4" fill="url(#lg_vlight)"/>
<circle cx="634" cy="137.8" r="20.4" fill="url(#rg_vlight)"/>
<g clip-path="url(#pc23)">
<ellipse cx="634" cy="147.8" rx="17.3" ry="7.8" fill="#c0c4d2" opacity="0.45" filter="url(#bl3)"/>
<rect x="613.6" y="117.4" width="40.8" height="40.8" fill="#fff" filter="url(#nzd3)" opacity="0.03"/>
<path d="M642,119.4 Q649,137.8 642,156.20000000000002 Q653,137.8 642,119.4Z" fill="#dfe3ef" opacity="0.4" filter="url(#bl12)"/>
</g>
<circle cx="634" cy="137.8" r="19.799999999999997" fill="none" stroke="#8c94c6" stroke-width="1.2" opacity="0.55"/>
<clipPath id="pc24"><circle cx="149.3" cy="184.4" r="20.4"/></clipPath>
<circle cx="149.3" cy="184.4" r="20.4" fill="url(#lg_dark)"/>
<circle cx="149.3" cy="184.4" r="20.4" fill="url(#rg_dark)"/>
<g clip-path="url(#pc24)">
<rect x="128.9" y="164.0" width="40.8" height="40.8" fill="#fff" filter="url(#nzl0)" opacity="0.5"/>
<ellipse cx="149.3" cy="183.4" rx="14.7" ry="10.2" fill="#28268a" opacity="0.75" filter="url(#bl3)"/>
<ellipse cx="149.3" cy="166.5" rx="11.2" ry="3" fill="#8a8ccc" opacity="0.45" filter="url(#bl3)"/>
</g>
<circle cx="149.3" cy="184.4" r="19.799999999999997" fill="none" stroke="#7476c6" stroke-width="1.2" opacity="0.7"/>
<clipPath id="pc25"><circle cx="193.3" cy="184.4" r="20.4"/></clipPath>
<circle cx="193.3" cy="184.4" r="20.4" fill="url(#lg_dark)"/>
<circle cx="193.3" cy="184.4" r="20.4" fill="url(#rg_dark)"/>
<g clip-path="url(#pc25)">
<rect x="172.9" y="164.0" width="40.8" height="40.8" fill="#fff" filter="url(#nzl1)" opacity="0.5"/>
<ellipse cx="193.3" cy="183.4" rx="14.7" ry="10.2" fill="#28268a" opacity="0.75" filter="url(#bl3)"/>
<ellipse cx="193.3" cy="166.5" rx="11.2" ry="3" fill="#8a8ccc" opacity="0.45" filter="url(#bl3)"/>
</g>
<circle cx="193.3" cy="184.4" r="19.799999999999997" fill="none" stroke="#7476c6" stroke-width="1.2" opacity="0.7"/>
<clipPath id="pc26"><circle cx="237.2" cy="184.4" r="20.4"/></clipPath>
<circle cx="237.2" cy="184.4" r="20.4" fill="url(#lg_dark)"/>
<circle cx="237.2" cy="184.4" r="20.4" fill="url(#rg_dark)"/>
<g clip-path="url(#pc26)">
<rect x="216.79999999999998" y="164.0" width="40.8" height="40.8" fill="#fff" filter="url(#nzl2)" opacity="0.5"/>
<ellipse cx="237.2" cy="183.4" rx="14.7" ry="10.2" fill="#28268a" opacity="0.75" filter="url(#bl3)"/>
<ellipse cx="237.2" cy="166.5" rx="11.2" ry="3" fill="#8a8ccc" opacity="0.45" filter="url(#bl3)"/>
</g>
<circle cx="237.2" cy="184.4" r="19.799999999999997" fill="none" stroke="#7476c6" stroke-width="1.2" opacity="0.7"/>
<clipPath id="pc27"><circle cx="281.3" cy="184.4" r="20.4"/></clipPath>
<circle cx="281.3" cy="184.4" r="20.4" fill="url(#lg_dark)"/>
<circle cx="281.3" cy="184.4" r="20.4" fill="url(#rg_dark)"/>
<g clip-path="url(#pc27)">
<rect x="260.90000000000003" y="164.0" width="40.8" height="40.8" fill="#fff" filter="url(#nzl3)" opacity="0.5"/>
<ellipse cx="281.3" cy="183.4" rx="14.7" ry="10.2" fill="#28268a" opacity="0.75" filter="url(#bl3)"/>
<ellipse cx="281.3" cy="166.5" rx="11.2" ry="3" fill="#8a8ccc" opacity="0.45" filter="url(#bl3)"/>
</g>
<circle cx="281.3" cy="184.4" r="19.799999999999997" fill="none" stroke="#7476c6" stroke-width="1.2" opacity="0.7"/>
<clipPath id="pc28"><circle cx="325.3" cy="184.4" r="20.4"/></clipPath>
<circle cx="325.3" cy="184.4" r="20.4" fill="url(#lg_dark)"/>
<circle cx="325.3" cy="184.4" r="20.4" fill="url(#rg_dark)"/>
<g clip-path="url(#pc28)">
<rect x="304.90000000000003" y="164.0" width="40.8" height="40.8" fill="#fff" filter="url(#nzl0)" opacity="0.5"/>
<ellipse cx="325.3" cy="183.4" rx="14.7" ry="10.2" fill="#28268a" opacity="0.75" filter="url(#bl3)"/>
<ellipse cx="325.3" cy="166.5" rx="11.2" ry="3" fill="#8a8ccc" opacity="0.45" filter="url(#bl3)"/>
</g>
<circle cx="325.3" cy="184.4" r="19.799999999999997" fill="none" stroke="#7476c6" stroke-width="1.2" opacity="0.7"/>
<clipPath id="pc29"><circle cx="368.7" cy="184.4" r="20.4"/></clipPath>
<circle cx="368.7" cy="184.4" r="20.4" fill="url(#lg_light)"/>
<circle cx="368.7" cy="184.4" r="20.4" fill="url(#rg_light)"/>
<g clip-path="url(#pc29)">
<ellipse cx="368.7" cy="194.4" rx="17.3" ry="7.8" fill="#c0c4d2" opacity="0.45" filter="url(#bl3)"/>
<rect x="348.3" y="164.0" width="40.8" height="40.8" fill="#fff" filter="url(#nzd1)" opacity="0.20"/>
<ellipse cx="368.7" cy="185.4" rx="7" ry="14" fill="url(#halo)" opacity="0.28"/>
<path d="M372.4,181.8l0.2,-0.1M370.0,194.6l0.1,0.6M370.1,199.1l0.1,0.7M368.6,184.7l0.1,-0.5M371.9,186.2l0.6,0.1M373.1,189.7l0.3,0.6M370.5,195.9l0.1,0.7M367.4,193.4l0.1,0.5M367.8,180.0l-0.0,-0.7M363.9,172.7l0.0,-0.3M366.4,178.5l-0.2,-0.6M370.3,183.3l0.8,-0.2M369.1,181.2l0.2,-0.4M365.6,191.0l-0.1,0.4M362.8,179.0l-0.5,-0.6M362.2,184.0l-0.6,-0.2M368.6,190.7l-0.1,0.6M372.1,189.1l0.4,0.3M366.2,182.7l-0.2,-0.3M372.6,182.4l0.3,-0.6M367.3,185.6l-0.5,0.2M368.2,187.3l-0.1,0.4M368.2,188.4l0.0,0.7M370.4,185.8l0.7,-0.1M370.1,194.1l0.1,0.3M369.6,185.3l0.2,-0.1M369.3,190.8l-0.6,0.5M368.6,183.9l-0.1,-0.4M367.5,184.6l-0.4,-0.2M371.3,185.6l0.3,0.0M370.1,183.4l0.5,-0.6M368.6,191.0l-0.2,0.3M370.8,190.4l0.2,0.7M371.6,182.1l0.4,-0.6M368.1,185.5l-0.6,0.3M370.5,191.1l0.1,0.3M372.4,181.1l0.1,-0.2M372.6,192.2l0.5,0.4M369.8,185.3l0.4,0.0M368.7,175.9l-0.1,-0.3M369.7,193.4l0.2,0.7M366.1,191.1l-0.2,0.6M365.2,184.0l-0.2,-0.3M367.1,185.1l-0.2,0.1M372.2,188.2l0.3,0.5M367.0,177.1l-0.1,-0.3M364.8,180.8l-0.1,-0.1M360.7,184.7l-0.5,0.2M369.7,192.6l0.0,0.8M367.3,181.3l0.0,-0.8M366.2,189.9l-0.1,0.5M366.2,184.4l-0.7,-0.4M367.5,182.0l-0.0,-0.6M367.2,192.9l-0.2,0.2M370.7,193.5l0.4,0.5M368.7,181.6l-0.1,-0.6M368.3,186.4l-0.1,0.5M372.4,190.1l0.4,0.4M367.7,188.1l-0.2,0.7M368.6,186.5l-0.2,0.3M371.2,189.4l0.2,0.2M369.8,180.6l0.1,-0.4M368.9,178.7l0.1,-0.5M368.9,185.6l0.3,0.6M366.7,191.6l-0.0,0.6M369.1,189.4l0.6,0.4M368.0,186.4l-0.3,0.2M367.2,189.1l-0.3,0.4M368.6,195.2l-0.1,0.2M369.7,181.6l0.1,-0.4M369.6,190.8l0.1,0.4M368.6,181.2l0.0,-0.7M361.0,195.3l-0.5,0.5M369.8,178.0l0.3,-0.5M371.4,175.4l0.1,-0.3M365.7,191.3l-0.7,0.3M363.3,184.9l-0.5,-0.2M367.5,186.0l-0.3,0.3M373.8,194.4l0.4,0.3M375.7,177.4l0.7,-0.3M368.9,183.3l0.1,-0.3M371.5,180.3l0.1,-0.7M366.5,178.0l-0.1,-0.4M364.7,198.7l-0.0,0.3M366.0,184.3l-0.5,-0.2M369.4,191.1l0.0,0.5M370.8,188.7l0.3,0.6M373.3,192.2l0.5,0.5M369.8,181.4l0.1,-0.2M371.7,197.9l0.3,0.5M368.8,188.3l-0.0,0.7M366.9,181.6l-0.1,-0.5M366.8,187.9l-0.0,0.4M370.7,184.9l0.5,-0.1M372.2,179.0l0.3,-0.6M368.7,191.7l0.1,0.3M363.2,181.3l-0.2,-0.3M361.7,184.3l-0.7,-0.2M374.2,179.9l0.2,-0.2M363.3,181.9l-0.6,-0.3M370.2,189.6l0.0,0.7M366.3,185.1l-0.6,0.1M367.2,188.4l0.0,0.7M370.4,188.7l0.5,0.6M365.1,183.5l-0.2,-0.1M372.2,187.6l0.6,0.4M369.4,190.4l0.0,0.7M367.9,181.6l0.1,-0.7M367.9,177.9l0.1,-0.8M372.2,188.2l0.6,0.0M364.6,185.2l-0.5,-0.1M370.1,190.1l0.0,0.3M368.2,182.0l-0.3,-0.7M366.4,194.2l0.4,0.6M373.5,187.4l0.4,0.3M364.8,186.9l-0.5,0.2M367.1,188.1l-0.1,0.4M368.6,193.4l-0.1,0.4M370.1,181.8l-0.0,-0.5M370.3,189.8l-0.3,0.4M372.4,187.7l0.3,0.1M370.5,190.0l0.2,0.3M365.3,188.6l-0.6,0.4M372.7,201.7l0.0,0.2M367.2,186.2l-0.5,0.3M365.7,185.3l-0.7,0.0M368.4,186.3l-0.1,0.4M369.7,182.1l0.5,-0.6M372.9,189.2l0.2,0.2M370.2,185.6l0.6,-0.1M375.3,187.9l0.4,0.3M369.3,187.1l0.0,0.2M371.0,201.1l0.1,0.5M365.3,188.4l-0.6,0.4M366.1,190.0l-0.2,0.5M371.1,184.0l0.6,-0.1M368.5,190.3l-0.1,0.6M370.9,200.4l0.3,0.6M371.0,181.9l0.5,-0.3M369.1,180.3l-0.1,-0.5M372.0,177.9l0.3,-0.6M370.0,188.6l0.0,0.3M371.2,189.0l0.3,0.4M369.0,180.6l0.2,-0.6M369.7,177.1l0.2,-0.2M367.6,191.9l-0.0,0.3M370.8,175.6l0.1,-0.4M372.8,184.6l0.3,-0.1M370.8,190.9l0.1,0.5M369.0,183.1l0.3,-0.3M369.9,183.5l-0.0,-0.4M370.9,194.6l0.1,0.2M372.0,179.9l0.1,-0.3M371.1,198.0l-0.0,0.4M367.2,182.5l-0.1,-0.4M369.2,185.1l0.4,-0.4M371.5,180.7l0.4,-0.3M372.5,195.9l0.2,0.7M373.1,190.2l0.2,0.6M365.0,196.2l-0.4,0.7M371.4,173.5l0.1,-0.4M366.7,180.0l-0.3,-0.6M364.1,185.6l-0.6,0.2M370.0,176.0l0.1,-0.2M372.0,193.8l0.2,0.3M366.7,182.4l-0.6,-0.3M366.9,194.0l-0.1,0.5M367.0,185.1l-0.5,-0.6M370.0,187.2l0.4,0.4M369.6,190.3l0.0,0.2M362.1,187.1l-0.5,0.4M370.3,189.8l0.1,0.3M366.7,181.8l-0.2,-0.3M369.8,188.8l0.0,0.4M370.5,187.7l0.2,0.4M370.9,187.5l0.1,0.3M370.0,182.3l0.3,-0.6M373.2,183.9l0.3,-0.0M369.7,187.2l0.4,0.6M369.4,174.3l-0.1,-0.4M370.1,181.5l0.0,-0.6M363.5,189.7l-0.3,0.4M367.3,186.9l-0.2,0.0M366.2,189.0l-0.3,0.5M367.8,188.6l-0.2,0.4" stroke="#363cab" stroke-width="1.0" stroke-linecap="round" opacity="0.32" filter="url(#bl04)"/>
<path d="M371.7,188.7Q371.5,189.4 371.7,190.1Q371.9,190.8 371.4,191.1Q370.8,191.4 370.6,192.0Q370.3,192.6 369.7,192.7Q369.2,192.7 368.7,192.7Q368.1,192.7 367.7,192.2Q367.3,191.7 367.0,191.2Q366.8,190.6 366.7,190.0Q366.6,189.4 366.7,188.8Q366.8,188.2 367.1,187.7Q367.4,187.2 367.9,187.0Q368.3,186.7 368.7,186.4Q369.2,186.1 369.7,186.2Q370.3,186.2 370.8,186.6Q371.2,186.9 371.5,187.5Q371.8,188.1 371.7,188.7Z" fill="#2c31a2" opacity="0.54" filter="url(#bl07)"/>
<path d="M370.6,180.6Q370.8,181.4 370.6,182.2Q370.4,183.0 370.3,183.8Q370.1,184.6 369.8,184.9Q369.4,185.2 369.1,185.8Q368.7,186.3 368.3,186.1Q367.9,185.8 367.6,185.1Q367.3,184.5 367.1,183.8Q366.9,183.0 366.7,182.2Q366.5,181.4 366.7,180.6Q366.9,179.7 367.2,179.1Q367.4,178.5 367.7,177.8Q367.9,177.1 368.3,177.0Q368.7,177.0 369.0,177.3Q369.4,177.6 369.8,177.8Q370.2,177.9 370.3,178.9Q370.4,179.8 370.6,180.6Z" fill="#2c31a2" opacity="0.32" filter="url(#bl07)"/>
</g>
<circle cx="368.7" cy="184.4" r="19.799999999999997" fill="none" stroke="#8088c2" stroke-width="1.2" opacity="0.55"/>
<clipPath id="pc30"><circle cx="412.3" cy="184.4" r="20.4"/></clipPath>
<circle cx="412.3" cy="184.4" r="20.4" fill="url(#lg_light)"/>
<circle cx="412.3" cy="184.4" r="20.4" fill="url(#rg_light)"/>
<g clip-path="url(#pc30)">
<ellipse cx="412.3" cy="194.4" rx="17.3" ry="7.8" fill="#c0c4d2" opacity="0.45" filter="url(#bl3)"/>
<rect x="391.90000000000003" y="164.0" width="40.8" height="40.8" fill="#fff" filter="url(#nzd2)" opacity="0.17"/>
<ellipse cx="412.3" cy="183.4" rx="11" ry="5.5" fill="url(#halo)" opacity="0.28"/>
<path d="M414.3,186.0l0.3,0.4M416.5,186.2l0.4,0.2M417.5,178.8l0.5,-0.4M411.8,184.0l-0.2,0.6M410.6,182.1l-0.1,-0.3M408.8,181.9l-0.3,-0.1M410.5,182.5l-0.4,-0.4M412.6,183.9l0.2,0.3M419.8,186.9l0.4,0.2M409.8,182.2l-0.5,-0.0M409.2,183.0l-0.5,-0.1M413.3,186.4l-0.1,0.4M418.9,183.7l0.5,-0.1M405.8,186.4l-0.6,0.5M413.3,181.6l0.2,-0.5M413.6,181.4l0.3,-0.3M415.0,186.2l0.2,0.2M408.1,181.0l-0.5,-0.1M417.5,178.6l0.6,-0.5M406.1,180.8l-0.3,-0.1M410.4,185.4l-0.2,0.2M416.0,185.7l0.3,0.3M414.7,179.9l0.2,-0.1M407.9,180.5l-0.2,-0.0M412.9,183.8l0.5,0.5M422.4,183.5l0.3,0.0M415.0,181.9l0.3,-0.3M410.4,179.8l-0.2,-0.1M405.9,185.2l-0.4,0.1M406.0,185.0l-0.5,0.1M417.2,181.5l0.5,-0.4M409.7,186.0l-0.4,0.4M408.8,183.1l-0.4,-0.1M411.3,186.1l-0.1,0.4M413.5,185.6l0.3,0.5M405.3,185.5l-0.3,0.1M404.6,179.7l-0.7,-0.2M403.5,186.7l-0.3,0.1M408.9,179.7l-0.3,-0.3M409.5,185.8l-0.6,0.1M406.9,182.3l-0.3,-0.1M407.2,187.2l-0.3,0.4M409.4,182.8l-0.6,-0.1M413.8,184.1l0.3,0.1M408.9,184.2l-0.3,0.1M408.8,179.6l-0.2,-0.6M414.2,184.2l0.4,0.4M414.5,184.3l0.6,0.4M419.4,184.5l0.4,0.1M406.4,183.1l-0.4,0.3M407.8,181.2l-0.2,-0.6M406.9,182.2l-0.5,-0.1M406.1,185.0l-0.3,0.1M412.6,183.4l0.6,-0.3M414.1,185.8l0.2,0.4M414.2,182.5l0.3,0.1M410.3,183.3l-0.7,-0.1M410.9,182.5l-0.2,-0.2M411.0,182.8l-0.3,-0.1M407.3,181.3l-0.2,-0.0M420.4,181.0l0.4,-0.0M402.3,185.1l-0.7,-0.0M411.3,182.4l-0.3,-0.3M403.9,180.6l-0.4,0.1M413.8,180.5l0.2,-0.2M403.6,184.6l-0.4,-0.1M412.3,183.5l0.2,0.4M417.9,183.9l0.5,0.2M415.1,183.6l0.6,-0.1M411.6,184.0l-0.6,0.4M412.3,180.1l-0.0,-0.3M410.5,180.1l-0.2,-0.4M410.4,183.4l-0.4,-0.1M411.2,185.3l0.1,0.4M403.9,184.7l-0.3,0.1M412.5,183.3l0.2,-0.1M419.2,180.7l0.4,-0.1M408.8,184.1l-0.4,0.1M407.3,186.3l-0.5,0.6M398.7,179.4l-0.6,0.1M413.8,186.0l0.4,0.6M422.4,186.1l0.5,0.3M412.6,182.1l0.1,-0.5M411.2,182.0l-0.2,-0.4M410.1,183.3l-0.6,0.0M412.0,186.0l-0.0,0.2M414.5,178.0l0.2,-0.4M407.2,183.4l-0.4,0.1M409.5,183.6l-0.3,0.1M413.4,181.3l0.1,-0.3M409.1,183.0l-0.6,0.1M410.6,183.3l-0.4,-0.0M412.5,181.3l0.1,-0.7M403.2,183.4l-0.5,0.2M415.6,184.4l0.6,0.2M420.5,180.7l0.4,-0.3M409.5,181.7l-0.4,-0.6M412.8,178.4l0.0,-0.4M412.2,184.8l0.0,0.3M414.0,181.2l0.7,-0.2M409.3,184.2l-0.5,0.3M412.4,182.8l0.3,-0.6M411.7,185.0l-0.0,0.7M409.8,184.4l-0.4,0.3M413.7,180.5l0.2,-0.2M415.4,181.5l0.3,-0.5M416.7,184.2l0.5,0.4M413.1,184.5l0.0,0.2M418.8,187.6l0.6,0.5M418.8,183.7l0.4,-0.1M410.1,184.2l-0.6,0.2M406.8,181.7l-0.3,-0.1M417.7,185.9l0.8,0.1M412.3,182.0l0.1,-0.3" stroke="#363cab" stroke-width="1.0" stroke-linecap="round" opacity="0.32" filter="url(#bl04)"/>
<path d="M417.2,182.9Q417.5,183.4 417.8,184.0Q418.2,184.7 417.1,185.0Q415.9,185.3 415.1,185.6Q414.4,186.0 413.3,186.1Q412.3,186.2 411.1,186.3Q409.9,186.4 408.8,186.1Q407.7,185.8 407.9,185.0Q408.0,184.3 406.3,183.9Q404.6,183.4 406.1,182.9Q407.5,182.4 408.3,182.0Q409.0,181.7 409.9,181.6Q410.8,181.6 411.6,180.5Q412.3,179.4 413.5,179.9Q414.8,180.3 415.7,180.7Q416.6,181.1 416.8,181.8Q417.0,182.4 417.2,182.9Z" fill="#2c31a2" opacity="0.27" filter="url(#bl12)"/>
</g>
<circle cx="412.3" cy="184.4" r="19.799999999999997" fill="none" stroke="#8088c2" stroke-width="1.2" opacity="0.55"/>
<clipPath id="pc31"><circle cx="456" cy="184.4" r="20.4"/></clipPath>
<circle cx="456" cy="184.4" r="20.4" fill="url(#lg_light)"/>
<circle cx="456" cy="184.4" r="20.4" fill="url(#rg_light)"/>
<g clip-path="url(#pc31)">
<ellipse cx="456" cy="194.4" rx="17.3" ry="7.8" fill="#c0c4d2" opacity="0.45" filter="url(#bl3)"/>
<rect x="435.6" y="164.0" width="40.8" height="40.8" fill="#fff" filter="url(#nzd3)" opacity="0.15"/>
<ellipse cx="456" cy="183.4" rx="9" ry="5" fill="url(#halo)" opacity="0.22"/>
<path d="M458.1,181.1l0.2,-0.2M457.9,181.7l0.2,-0.2M449.2,184.0l-0.6,0.2M456.2,184.6l0.1,0.8M455.6,182.9l-0.3,-0.5M453.1,183.7l-0.4,-0.2M459.8,185.0l0.5,0.6M460.7,183.0l0.5,0.3M449.2,181.7l-0.4,-0.1M464.5,186.3l0.3,0.2M453.3,184.8l-0.6,0.4M455.2,182.6l-0.3,-0.5M456.8,185.2l0.2,0.3M454.2,185.6l-0.3,0.6M456.8,185.2l0.2,0.2M457.2,183.9l0.2,0.3M461.3,180.6l0.4,-0.2M453.3,182.9l-0.5,0.1M460.7,184.4l0.3,0.1M457.3,179.1l0.5,-0.6M447.6,180.8l-0.6,-0.4M450.9,180.0l-0.7,-0.4M456.5,184.6l0.4,0.4M455.8,186.1l0.0,0.2M456.9,183.6l0.5,-0.0M457.2,182.8l0.3,-0.3M461.7,181.8l0.6,-0.1M453.8,185.4l-0.4,0.0M456.0,183.9l-0.1,0.8M450.6,182.3l-0.5,-0.3M451.5,180.8l-0.1,-0.2M460.7,183.1l0.7,0.1M452.7,182.0l-0.2,-0.1M454.0,182.5l-0.7,-0.2M461.7,182.4l0.2,0.0M457.7,183.3l0.3,-0.1M459.2,180.1l0.1,-0.2M457.3,182.9l0.3,-0.1M449.5,183.4l-0.3,-0.0M458.1,183.3l0.6,-0.3M457.8,182.1l0.3,-0.4M455.5,187.5l0.0,0.6M458.6,180.2l0.1,-0.3M456.1,182.3l0.1,-0.8M458.3,186.6l0.2,0.3M454.6,183.6l-0.3,0.1M457.8,183.1l0.8,-0.1M451.6,182.8l-0.7,0.0M458.1,185.3l0.6,0.1M456.2,182.9l-0.0,-0.2M451.6,186.4l-0.4,0.6M452.3,183.3l-0.3,-0.1M459.2,181.6l0.5,-0.1M451.3,186.2l-0.7,0.2M453.8,182.2l-0.4,-0.4M451.6,179.5l-0.2,-0.3M455.6,185.1l0.1,0.8M455.7,183.8l-0.0,0.3M461.4,183.4l0.7,0.3M453.4,185.7l-0.5,0.3M450.2,181.8l-0.5,-0.1M449.3,182.7l-0.3,-0.3M461.3,184.4l0.6,0.2M459.6,185.1l0.2,0.3M454.4,182.9l-0.5,-0.3M454.5,185.6l-0.2,0.3M457.7,187.9l0.1,0.4" stroke="#363cab" stroke-width="1.0" stroke-linecap="round" opacity="0.32" filter="url(#bl04)"/>
<path d="M459.0,183.0Q458.9,183.4 459.0,183.8Q459.2,184.1 458.7,184.4Q458.2,184.6 457.7,184.8Q457.1,184.9 456.6,185.3Q456.0,185.6 455.2,185.6Q454.4,185.6 454.1,185.1Q453.8,184.6 453.4,184.4Q453.0,184.1 452.1,183.7Q451.3,183.4 451.3,182.9Q451.2,182.3 451.3,181.6Q451.5,180.9 453.1,181.3Q454.8,181.8 455.4,181.5Q456.0,181.3 457.2,180.7Q458.5,180.1 458.6,181.0Q458.6,182.0 458.9,182.3Q459.1,182.7 459.0,183.0Z" fill="#2c31a2" opacity="0.18" filter="url(#bl12)"/>
</g>
<circle cx="456" cy="184.4" r="19.799999999999997" fill="none" stroke="#8088c2" stroke-width="1.2" opacity="0.55"/>
<clipPath id="pc32"><circle cx="500.8" cy="184.4" r="20.4"/></clipPath>
<circle cx="500.8" cy="184.4" r="20.4" fill="url(#lg_light)"/>
<circle cx="500.8" cy="184.4" r="20.4" fill="url(#rg_light)"/>
<g clip-path="url(#pc32)">
<ellipse cx="500.8" cy="194.4" rx="17.3" ry="7.8" fill="#c0c4d2" opacity="0.45" filter="url(#bl3)"/>
<rect x="480.40000000000003" y="164.0" width="40.8" height="40.8" fill="#fff" filter="url(#nzd0)" opacity="0.15"/>
<ellipse cx="499.8" cy="182.4" rx="8" ry="7" fill="url(#halo)" opacity="0.12"/>
<path d="M497.3,182.7l-0.6,-0.0M494.6,189.7l-0.2,0.4M504.5,182.5l0.8,-0.1M499.9,187.2l0.0,0.5M500.4,186.0l-0.1,0.3M503.8,183.5l0.6,-0.1M497.3,188.5l-0.4,0.6M499.8,182.1l-0.1,-0.7M502.0,182.0l0.3,0.0M499.6,180.9l-0.2,-0.3M501.0,182.9l0.2,0.2M498.9,177.1l-0.1,-0.4M500.9,188.1l0.1,0.8M496.4,180.4l-0.5,-0.1M498.1,178.1l-0.3,-0.3M502.0,184.9l0.2,0.5M500.7,184.8l0.5,0.6M501.9,174.1l0.1,-0.3M497.8,180.8l-0.4,-0.1M501.9,178.6l0.3,-0.6M499.6,184.0l0.0,0.7M499.2,188.1l-0.1,0.2M494.3,183.7l-0.3,-0.0M493.6,187.5l-0.3,0.2M498.7,183.1l-0.1,0.2M501.9,181.9l0.7,0.2M503.4,185.5l0.4,0.6M507.1,182.2l0.4,0.2M493.1,181.0l-0.6,0.2M494.5,179.2l-0.6,-0.4M492.2,183.7l-0.4,0.1M499.5,182.4l-0.8,0.1M506.5,178.9l0.2,-0.1M492.2,180.8l-0.7,-0.0M504.4,179.4l0.6,-0.3M501.1,184.8l0.2,0.3M501.0,184.8l0.3,0.3M502.8,184.7l0.6,0.4M504.4,180.7l0.7,-0.1M503.0,178.9l0.1,-0.2M506.4,187.1l0.2,0.1M502.7,187.0l0.2,0.5M499.2,185.1l0.1,0.8M501.3,181.1l0.3,-0.1" stroke="#363cab" stroke-width="1.0" stroke-linecap="round" opacity="0.32" filter="url(#bl04)"/>
</g>
<circle cx="500.8" cy="184.4" r="19.799999999999997" fill="none" stroke="#8088c2" stroke-width="1.2" opacity="0.55"/>
<clipPath id="pc33"><circle cx="544.4" cy="184.4" r="20.4"/></clipPath>
<circle cx="544.4" cy="184.4" r="20.4" fill="url(#lg_vlight)"/>
<circle cx="544.4" cy="184.4" r="20.4" fill="url(#rg_vlight)"/>
<g clip-path="url(#pc33)">
<ellipse cx="544.4" cy="194.4" rx="17.3" ry="7.8" fill="#c0c4d2" opacity="0.45" filter="url(#bl3)"/>
<rect x="524.0" y="164.0" width="40.8" height="40.8" fill="#fff" filter="url(#nzd1)" opacity="0.07"/>
</g>
<circle cx="544.4" cy="184.4" r="19.799999999999997" fill="none" stroke="#8c94c6" stroke-width="1.2" opacity="0.55"/>
<clipPath id="pc34"><circle cx="588.4" cy="184.4" r="20.4"/></clipPath>
<circle cx="588.4" cy="184.4" r="20.4" fill="url(#lg_vlight)"/>
<circle cx="588.4" cy="184.4" r="20.4" fill="url(#rg_vlight)"/>
<g clip-path="url(#pc34)">
<ellipse cx="588.4" cy="194.4" rx="17.3" ry="7.8" fill="#c0c4d2" opacity="0.45" filter="url(#bl3)"/>
<rect x="568.0" y="164.0" width="40.8" height="40.8" fill="#fff" filter="url(#nzd2)" opacity="0.05"/>
</g>
<circle cx="588.4" cy="184.4" r="19.799999999999997" fill="none" stroke="#8c94c6" stroke-width="1.2" opacity="0.55"/>
<clipPath id="pc35"><circle cx="632" cy="184.4" r="20.4"/></clipPath>
<circle cx="632" cy="184.4" r="20.4" fill="url(#lg_vlight)"/>
<circle cx="632" cy="184.4" r="20.4" fill="url(#rg_vlight)"/>
<g clip-path="url(#pc35)">
<ellipse cx="632" cy="194.4" rx="17.3" ry="7.8" fill="#c0c4d2" opacity="0.45" filter="url(#bl3)"/>
<rect x="611.6" y="164.0" width="40.8" height="40.8" fill="#fff" filter="url(#nzd3)" opacity="0.03"/>
<path d="M640,166.0 Q647,184.4 640,202.8 Q651,184.4 640,166.0Z" fill="#dfe3ef" opacity="0.4" filter="url(#bl12)"/>
</g>
<circle cx="632" cy="184.4" r="19.799999999999997" fill="none" stroke="#8c94c6" stroke-width="1.2" opacity="0.55"/>
<clipPath id="pc36"><circle cx="149.3" cy="234.2" r="20.4"/></clipPath>
<circle cx="149.3" cy="234.2" r="20.4" fill="url(#lg_darkl)"/>
<circle cx="149.3" cy="234.2" r="20.4" fill="url(#rg_darkl)"/>
<g clip-path="url(#pc36)">
<rect x="128.9" y="213.79999999999998" width="40.8" height="40.8" fill="#fff" filter="url(#nzl0)" opacity="0.85"/>
<ellipse cx="149.3" cy="233.2" rx="14.7" ry="10.2" fill="#28268a" opacity="0.4" filter="url(#bl3)"/>
<ellipse cx="149.3" cy="216.29999999999998" rx="11.2" ry="3" fill="#8a8ccc" opacity="0.45" filter="url(#bl3)"/>
</g>
<circle cx="149.3" cy="234.2" r="19.799999999999997" fill="none" stroke="#7a7cc8" stroke-width="1.2" opacity="0.7"/>
<clipPath id="pc37"><circle cx="193.3" cy="234.2" r="20.4"/></clipPath>
<circle cx="193.3" cy="234.2" r="20.4" fill="url(#lg_darkl)"/>
<circle cx="193.3" cy="234.2" r="20.4" fill="url(#rg_darkl)"/>
<g clip-path="url(#pc37)">
<rect x="172.9" y="213.79999999999998" width="40.8" height="40.8" fill="#fff" filter="url(#nzl1)" opacity="0.85"/>
<ellipse cx="193.3" cy="233.2" rx="14.7" ry="10.2" fill="#28268a" opacity="0.4" filter="url(#bl3)"/>
<ellipse cx="193.3" cy="216.29999999999998" rx="11.2" ry="3" fill="#8a8ccc" opacity="0.45" filter="url(#bl3)"/>
</g>
<circle cx="193.3" cy="234.2" r="19.799999999999997" fill="none" stroke="#7a7cc8" stroke-width="1.2" opacity="0.7"/>
<clipPath id="pc38"><circle cx="237.2" cy="234.2" r="20.4"/></clipPath>
<circle cx="237.2" cy="234.2" r="20.4" fill="url(#lg_darkl)"/>
<circle cx="237.2" cy="234.2" r="20.4" fill="url(#rg_darkl)"/>
<g clip-path="url(#pc38)">
<rect x="216.79999999999998" y="213.79999999999998" width="40.8" height="40.8" fill="#fff" filter="url(#nzl2)" opacity="0.85"/>
<ellipse cx="237.2" cy="233.2" rx="14.7" ry="10.2" fill="#28268a" opacity="0.4" filter="url(#bl3)"/>
<ellipse cx="237.2" cy="216.29999999999998" rx="11.2" ry="3" fill="#8a8ccc" opacity="0.45" filter="url(#bl3)"/>
</g>
<circle cx="237.2" cy="234.2" r="19.799999999999997" fill="none" stroke="#7a7cc8" stroke-width="1.2" opacity="0.7"/>
<clipPath id="pc39"><circle cx="281.3" cy="234.2" r="20.4"/></clipPath>
<circle cx="281.3" cy="234.2" r="20.4" fill="url(#lg_darkl)"/>
<circle cx="281.3" cy="234.2" r="20.4" fill="url(#rg_darkl)"/>
<g clip-path="url(#pc39)">
<rect x="260.90000000000003" y="213.79999999999998" width="40.8" height="40.8" fill="#fff" filter="url(#nzl3)" opacity="0.85"/>
<ellipse cx="281.3" cy="233.2" rx="14.7" ry="10.2" fill="#28268a" opacity="0.4" filter="url(#bl3)"/>
<ellipse cx="281.3" cy="216.29999999999998" rx="11.2" ry="3" fill="#8a8ccc" opacity="0.45" filter="url(#bl3)"/>
</g>
<circle cx="281.3" cy="234.2" r="19.799999999999997" fill="none" stroke="#7a7cc8" stroke-width="1.2" opacity="0.7"/>
<clipPath id="pc40"><circle cx="325.3" cy="234.2" r="20.4"/></clipPath>
<circle cx="325.3" cy="234.2" r="20.4" fill="url(#lg_darkl)"/>
<circle cx="325.3" cy="234.2" r="20.4" fill="url(#rg_darkl)"/>
<g clip-path="url(#pc40)">
<rect x="304.90000000000003" y="213.79999999999998" width="40.8" height="40.8" fill="#fff" filter="url(#nzl0)" opacity="0.85"/>
<ellipse cx="325.3" cy="233.2" rx="14.7" ry="10.2" fill="#28268a" opacity="0.4" filter="url(#bl3)"/>
<ellipse cx="325.3" cy="216.29999999999998" rx="11.2" ry="3" fill="#8a8ccc" opacity="0.45" filter="url(#bl3)"/>
</g>
<circle cx="325.3" cy="234.2" r="19.799999999999997" fill="none" stroke="#7a7cc8" stroke-width="1.2" opacity="0.7"/>
<clipPath id="pc41"><circle cx="368.7" cy="234.2" r="20.4"/></clipPath>
<circle cx="368.7" cy="234.2" r="20.4" fill="url(#lg_light)"/>
<circle cx="368.7" cy="234.2" r="20.4" fill="url(#rg_light)"/>
<g clip-path="url(#pc41)">
<ellipse cx="368.7" cy="244.2" rx="17.3" ry="7.8" fill="#c0c4d2" opacity="0.45" filter="url(#bl3)"/>
<rect x="348.3" y="213.79999999999998" width="40.8" height="40.8" fill="#fff" filter="url(#nzd1)" opacity="0.20"/>
<ellipse cx="368.7" cy="234.2" rx="15" ry="15" fill="url(#halo)" opacity="0.22"/>
<path d="M375.5,245.5l0.4,0.2M369.1,229.9l-0.0,-0.6M368.5,238.4l-0.1,0.2M377.3,233.0l0.6,-0.2M372.5,226.1l0.1,-0.2M364.0,239.5l-0.2,0.2M365.1,229.9l-0.2,-0.2M374.3,238.7l0.6,0.3M370.9,239.2l0.2,0.5M369.3,250.6l0.2,0.8M374.6,229.6l0.4,-0.3M380.6,233.5l0.8,-0.1M371.0,233.4l0.4,-0.1M369.2,228.1l0.2,-0.6M354.7,240.4l-0.2,0.2M366.6,229.9l-0.1,-0.5M356.2,233.6l-0.5,0.0M361.1,222.3l-0.2,-0.6M370.5,229.0l0.1,-0.8M380.2,239.7l0.5,0.3M371.7,244.4l0.0,0.4M371.1,226.0l0.2,-0.7M379.8,234.9l0.5,-0.0M375.0,237.0l0.7,0.2M376.3,233.8l0.2,-0.1M362.2,234.8l-0.2,0.0M355.7,237.9l-0.2,0.1M363.0,228.9l-0.1,-0.5M365.9,236.7l-0.1,0.5M364.9,242.5l-0.4,0.4M360.7,239.5l-0.6,0.1M367.5,227.3l0.0,-0.6M369.8,237.3l0.1,0.4M371.9,238.2l0.6,0.2M373.0,239.2l0.3,0.6M378.6,234.2l0.2,-0.0M364.0,232.2l-0.5,-0.4M372.1,236.0l0.5,0.2M366.9,230.3l-0.1,-0.4M362.7,243.6l-0.5,0.4M364.5,235.9l-0.4,0.2M379.1,236.0l0.4,0.1M366.6,228.6l-0.1,-0.2M363.9,237.3l-0.1,0.2M360.7,227.4l-0.4,-0.3M371.1,240.7l0.0,0.4M375.1,237.5l0.3,0.1M372.6,243.6l0.0,0.5M358.0,230.4l-0.5,-0.1M378.4,242.5l0.2,0.1M372.0,230.1l0.5,-0.6M374.0,236.9l0.4,0.3M370.7,242.3l0.0,0.6M369.3,228.5l-0.0,-0.6M364.4,238.1l-0.4,0.4M370.1,229.7l0.3,-0.4M371.0,226.0l-0.0,-0.4M372.1,224.9l0.2,-0.4M373.3,242.3l0.4,0.3M361.5,232.9l-0.6,-0.1M367.4,226.1l-0.1,-0.7M374.6,238.9l0.4,0.4M367.3,232.4l-0.1,-0.6M370.9,236.8l0.5,0.4M374.3,241.7l0.2,0.2M354.1,238.1l-0.4,-0.0M371.9,231.6l0.1,-0.2M371.7,241.3l0.3,0.2M374.4,225.8l0.0,-0.2M364.4,234.4l-0.6,0.1M371.9,233.4l0.3,0.2M366.2,242.8l-0.2,0.4M371.4,228.2l-0.0,-0.6M366.9,242.1l-0.1,0.2M368.0,240.9l-0.1,0.8M377.8,230.7l0.3,-0.1M374.8,224.2l0.1,-0.2M364.4,233.6l-0.6,0.2M361.1,226.5l-0.1,-0.2M367.7,237.6l-0.1,0.6M362.1,237.0l-0.6,0.2M360.3,222.8l-0.4,-0.2M372.2,238.0l0.4,0.3M370.1,228.3l0.1,-0.8M369.9,227.1l0.0,-0.3M363.8,237.4l-0.4,0.2M374.2,232.6l0.7,-0.3M369.2,233.4l0.0,-0.2M371.6,247.0l0.2,0.2M361.4,249.0l-0.2,0.6M378.8,241.4l0.3,0.2M369.9,231.9l0.2,-0.5M367.5,220.0l0.0,-0.8M373.0,225.4l0.1,-0.4M374.6,233.4l0.3,-0.5M373.5,240.6l0.4,0.1M366.0,226.5l-0.0,-0.6M360.2,234.5l-0.5,0.0M371.4,224.2l0.1,-0.4M360.6,247.9l-0.5,0.5M366.3,233.1l-0.6,-0.3M354.3,231.8l-0.4,-0.0M369.4,232.7l0.1,-0.6M370.0,243.5l-0.1,0.3M369.4,221.6l0.1,-0.2M383.5,241.8l0.4,0.3M361.2,225.4l-0.4,-0.6M372.6,238.7l0.2,0.2M368.6,223.0l-0.4,-0.5M366.4,239.4l-0.5,0.3M367.8,237.1l-0.2,0.6M362.5,241.1l-0.4,0.3M376.9,236.7l0.3,0.1M362.5,239.1l-0.3,0.1M367.3,229.8l-0.1,-0.2M362.2,234.0l-0.2,0.0M362.6,231.6l-0.2,-0.1M377.3,223.5l0.5,-0.2M365.9,226.5l-0.1,-0.4M373.6,229.2l0.3,-0.2M365.6,227.9l-0.4,-0.3M369.2,236.8l0.2,0.7M366.2,224.4l-0.0,-0.4M372.6,231.6l0.6,-0.3M368.6,229.7l0.3,-0.4M367.9,226.3l-0.0,-0.4M363.6,233.0l-0.4,-0.0M370.0,237.9l0.2,0.5M370.1,225.1l0.3,-0.7M361.1,228.9l-0.2,-0.4M358.8,238.6l-0.4,0.3M368.4,244.6l-0.0,0.5M374.2,245.8l0.1,0.2M377.7,244.2l0.2,0.2M367.4,233.2l-0.3,-0.2M358.7,248.8l-0.3,0.2M371.8,233.5l0.6,-0.2M370.7,233.2l0.4,0.0M366.6,233.6l-0.3,-0.1M374.1,236.2l0.2,0.1M371.1,235.1l0.3,0.1M372.2,228.5l0.3,-0.1M375.3,234.5l0.7,0.1M360.8,236.9l-0.5,0.6M367.8,236.7l0.0,0.6M371.3,246.5l0.1,0.4M368.5,239.2l0.0,0.3M375.3,233.6l0.3,-0.1M366.0,227.8l0.1,-0.5M366.6,225.8l-0.2,-0.7M382.4,235.5l0.6,0.1M376.1,244.5l0.3,0.2M369.3,229.1l0.0,-0.2M356.2,231.4l-0.7,-0.0M362.6,238.4l-0.4,0.2M371.4,234.6l0.6,0.1M361.9,239.8l-0.8,0.1M366.5,237.8l-0.2,0.4M373.0,229.9l0.2,-0.7M359.9,226.5l-0.2,-0.2M366.6,234.5l-0.4,-0.0M363.7,225.1l-0.4,-0.4M371.2,231.5l0.2,-0.4M360.5,233.1l-0.5,-0.2M374.0,234.5l0.8,-0.1M367.2,225.5l-0.1,-0.4M368.7,231.6l0.1,-0.2M374.0,234.5l0.3,-0.3M379.3,232.4l0.6,0.1M375.5,227.4l0.7,-0.2M374.9,243.5l0.2,0.7M376.6,221.9l0.3,-0.6M377.1,238.4l0.7,0.1M365.4,229.0l-0.1,-0.3M366.6,239.4l-0.2,0.7M377.0,227.0l0.3,-0.4M363.5,225.2l-0.1,-0.4M358.6,238.2l-0.5,-0.0M375.9,230.0l0.2,-0.3M375.4,228.6l0.2,-0.2M371.0,239.3l0.1,0.3M370.7,234.6l0.2,0.1M371.3,233.1l0.3,-0.1M363.4,231.2l-0.5,-0.2M364.5,232.9l-0.3,-0.2M368.7,234.7l0.0,0.3M367.3,234.8l-0.4,0.1M365.9,238.9l-0.4,0.6M362.6,230.3l-0.5,0.0M364.4,241.3l-0.4,0.5M368.7,237.8l0.1,0.3M374.3,234.1l0.3,0.1M365.3,229.0l-0.2,-0.3M379.2,225.6l0.3,-0.5M364.5,224.0l-0.1,-0.5M380.0,233.7l0.5,0.0M367.6,237.3l-0.1,0.2M373.4,229.1l0.1,-0.6M364.6,235.4l-0.2,0.1M360.4,235.5l-0.3,-0.0M368.1,234.3l-0.6,0.0M364.1,232.9l-0.3,-0.1M362.5,244.0l-0.5,0.5M364.8,218.7l-0.1,-0.3M368.6,226.6l-0.0,-0.4M369.7,239.0l-0.1,0.4M367.6,233.6l-0.7,-0.0M369.8,228.9l0.1,-0.6M376.1,232.7l0.2,0.1M369.4,240.4l0.0,0.4M371.7,242.7l0.2,0.5M375.1,242.3l0.6,0.4M372.9,231.2l0.3,-0.2M376.2,245.0l0.3,0.4M371.1,228.6l0.2,-0.1M369.6,239.6l-0.1,0.7M373.4,241.6l0.1,0.2M366.4,231.5l-0.7,-0.3M366.7,229.8l-0.1,-0.2M368.8,228.3l-0.1,-0.6M376.0,233.4l0.7,-0.1M362.0,223.4l-0.3,-0.3M360.7,225.8l-0.1,-0.4M372.8,231.6l0.2,-0.6M373.1,233.3l0.4,-0.1M374.2,240.2l0.4,0.7M368.0,237.6l-0.1,0.7M367.8,230.5l0.0,-0.7M375.5,230.7l0.6,0.0M375.6,241.3l0.3,0.3M372.4,246.7l0.0,0.2M387.1,232.4l0.8,0.2M363.3,240.0l-0.4,0.3M373.7,242.4l0.1,0.2M362.5,228.1l-0.2,-0.8M367.9,234.9l-0.2,0.1M361.5,228.2l-0.6,-0.5M355.6,227.9l-0.5,-0.1M371.6,239.6l0.1,0.4M374.0,245.0l0.4,0.4M364.2,235.0l-0.3,-0.0M365.0,230.3l-0.1,-0.3M377.2,239.8l0.5,0.3M373.4,233.8l0.5,0.1M364.8,226.7l-0.2,-0.6M369.4,228.1l-0.1,-0.5M356.6,227.3l-0.3,-0.2M364.9,231.1l-0.4,-0.1M379.1,229.6l0.6,-0.0M370.6,231.5l0.2,-0.2M372.6,225.7l0.5,-0.5M371.9,243.6l0.1,0.3M375.1,235.1l0.5,0.4M355.6,234.7l-0.6,-0.1M372.1,238.9l0.2,0.4M371.0,238.7l0.2,0.4M376.6,229.1l0.5,-0.4M375.0,228.1l0.2,-0.1M362.6,237.5l-0.2,0.1M368.6,231.4l-0.1,-0.2M368.3,231.2l-0.1,-0.6M372.3,228.7l0.2,-0.5M366.4,238.7l-0.2,0.5M382.7,235.4l0.4,0.2M371.0,229.6l0.1,-0.3M357.3,232.2l-0.3,-0.2M367.4,232.8l-0.4,-0.6M369.8,230.9l0.3,-0.4M364.8,227.1l-0.2,-0.2M363.8,240.5l-0.1,0.3M361.3,237.3l-0.5,-0.0M384.3,231.8l0.6,0.4M364.3,234.8l-0.7,0.2M370.8,230.9l0.3,-0.1M377.4,239.8l0.3,0.3M367.4,238.0l0.0,0.2M372.0,219.4l0.2,-0.7M376.7,235.6l0.7,0.2M372.1,252.4l0.1,0.2M374.4,234.8l0.7,0.0M370.8,216.3l0.1,-0.2M365.8,234.8l-0.2,-0.1M366.3,224.0l0.2,-0.5M361.7,239.3l-0.1,0.2M370.9,221.8l-0.0,-0.2M366.3,240.3l0.0,0.5M361.8,247.6l-0.2,0.2M369.8,231.3l0.3,-0.3M374.4,235.5l0.3,0.0M374.7,237.6l0.4,0.3M372.0,236.1l0.4,0.0M365.9,238.2l-0.3,0.5M363.0,237.6l-0.5,0.2M382.1,234.7l0.3,0.1M363.0,230.0l-0.3,-0.3M365.5,235.6l-0.3,0.1M369.6,236.4l0.0,0.3M373.8,240.8l0.5,0.4M366.6,230.0l-0.3,-0.6M365.6,232.7l-0.4,-0.1M368.7,239.0l0.1,0.5M375.4,235.6l0.4,0.3M367.1,243.1l-0.2,0.3M363.0,229.8l-0.6,-0.5M372.8,238.6l0.6,0.4M366.8,228.4l-0.0,-0.4M357.6,239.3l-0.3,0.2M377.4,227.0l0.2,-0.2M376.3,234.6l0.8,-0.1M373.6,230.8l0.5,-0.2M365.0,235.3l-0.2,0.1M365.7,241.4l-0.1,0.2M364.5,234.8l-0.3,0.0M374.9,231.9l0.4,-0.2M372.7,234.4l0.5,0.1M353.8,242.5l-0.2,0.1M369.6,232.5l0.1,-0.6M373.8,232.8l0.8,-0.1M374.5,240.6l0.5,0.4M366.3,240.7l-0.3,0.6M377.0,222.6l0.1,-0.3M371.1,224.6l0.2,-0.3M362.7,226.7l-0.1,-0.4M378.4,232.6l0.5,0.1M368.6,236.6l0.2,0.2M379.5,224.2l0.2,-0.2M373.0,231.1l0.3,-0.3M372.3,245.8l-0.1,0.3M372.1,229.6l0.2,-0.2M371.5,235.5l0.3,0.2M369.2,221.3l-0.1,-0.5M372.9,229.3l0.3,-0.3M364.8,235.1l-0.5,-0.0M379.2,233.1l0.6,-0.2" stroke="#363cab" stroke-width="1.0" stroke-linecap="round" opacity="0.32" filter="url(#bl04)"/>
</g>
<circle cx="368.7" cy="234.2" r="19.799999999999997" fill="none" stroke="#8088c2" stroke-width="1.2" opacity="0.55"/>
<clipPath id="pc42"><circle cx="412.3" cy="234.2" r="20.4"/></clipPath>
<circle cx="412.3" cy="234.2" r="20.4" fill="url(#lg_light)"/>
<circle cx="412.3" cy="234.2" r="20.4" fill="url(#rg_light)"/>
<g clip-path="url(#pc42)">
<ellipse cx="412.3" cy="244.2" rx="17.3" ry="7.8" fill="#c0c4d2" opacity="0.45" filter="url(#bl3)"/>
<rect x="391.90000000000003" y="213.79999999999998" width="40.8" height="40.8" fill="#fff" filter="url(#nzd2)" opacity="0.20"/>
<ellipse cx="412.3" cy="235.2" rx="10" ry="9" fill="url(#halo)" opacity="0.21"/>
<path d="M414.2,228.6l-0.2,-0.7M420.3,238.7l0.3,0.2M414.2,235.5l0.3,0.1M409.0,235.6l-0.1,0.2M410.3,237.0l-0.3,0.2M419.8,233.6l0.1,-0.2M414.7,237.5l0.5,0.5M413.9,232.0l0.4,-0.4M409.7,236.3l-0.3,0.4M411.0,237.2l0.1,0.8M417.7,239.6l0.2,0.1M400.2,236.1l-0.5,0.3M411.9,230.1l-0.1,-0.5M403.4,239.8l-0.5,0.5M416.3,234.7l0.2,0.0M414.7,236.9l0.6,0.4M412.4,230.3l-0.1,-0.8M411.0,239.0l-0.6,0.4M410.1,233.6l-0.1,-0.2M416.3,238.3l0.5,0.6M412.9,234.0l0.4,-0.6M416.0,241.7l0.4,0.5M414.6,236.3l0.1,0.2M414.5,236.0l0.3,0.2M411.3,234.6l-0.5,-0.3M405.3,238.8l-0.5,0.2M408.2,238.6l-0.5,0.5M410.7,234.9l-0.7,-0.3M418.6,237.3l0.6,0.2M413.6,233.4l0.2,-0.5M416.1,231.0l0.6,-0.4M415.1,233.3l0.4,-0.1M411.9,228.4l0.0,-0.2M418.8,231.8l0.5,-0.5M412.6,236.7l0.1,0.2M408.9,236.2l-0.2,0.2M414.3,238.8l0.3,0.5M409.1,229.4l-0.3,-0.5M409.2,228.8l0.0,-0.3M414.2,236.2l0.4,0.3M412.7,231.9l-0.0,-0.2M413.0,235.9l0.4,0.3M410.1,231.1l0.0,-0.5M413.6,241.8l0.4,0.6M412.8,238.3l0.0,0.4M412.0,236.3l0.0,0.8M417.6,240.0l0.3,0.1M417.5,237.0l0.4,0.2M412.1,230.7l0.2,-0.6M412.9,228.5l0.4,-0.6M413.0,234.8l0.6,-0.3M412.9,234.8l0.4,-0.5M411.0,227.8l-0.1,-0.7M414.2,240.1l0.2,0.6M414.0,228.3l0.4,-0.6M414.2,231.3l0.1,-0.2M415.1,228.5l0.1,-0.2M412.6,235.1l0.4,0.0M411.7,239.1l0.0,0.5M422.8,230.6l0.3,0.0M413.4,231.7l0.1,-0.6M411.1,229.8l-0.0,-0.4M408.3,238.8l-0.5,0.4M415.6,235.8l0.7,0.3M412.1,234.6l-0.2,-0.3M414.5,229.7l0.2,-0.6M417.2,231.7l0.2,-0.4M417.7,233.0l0.3,-0.5M407.4,234.0l-0.2,-0.1M416.2,232.3l0.2,-0.2M414.0,231.9l0.4,-0.5M414.2,237.2l0.4,0.4M413.4,239.6l0.4,0.4M413.7,243.4l0.2,0.2M408.3,237.1l-0.2,0.1M407.4,234.1l-0.4,-0.2M408.0,243.3l-0.2,0.4M417.9,236.4l0.6,0.2M411.5,235.2l-0.4,-0.0M415.8,238.1l0.6,0.3M412.9,235.6l0.4,0.2M412.8,239.8l0.2,0.4M417.1,238.7l0.2,0.3M406.5,239.2l-0.3,0.3M414.0,238.7l0.0,0.2M415.8,241.4l0.5,0.5M410.0,237.4l-0.3,0.2M412.4,231.5l0.1,-0.2M413.1,238.0l0.0,0.7M409.3,239.5l-0.2,0.7M412.7,236.1l0.1,0.3M410.2,237.7l-0.4,0.4M415.1,231.8l0.3,-0.2M410.8,237.3l-0.3,0.3M409.3,238.6l-0.3,0.2M410.5,231.8l-0.5,-0.5M409.3,235.3l-0.3,-0.2M406.3,233.3l-0.4,-0.2M412.8,238.7l-0.1,0.3M409.9,236.4l-0.6,0.4M406.0,230.1l-0.6,-0.4M403.5,239.8l-0.6,0.4M416.5,238.6l0.4,0.5M411.5,234.7l-0.5,-0.0M417.8,233.9l0.6,-0.0M419.1,237.0l0.7,0.1M417.0,237.3l0.3,-0.0M417.7,241.1l0.4,0.2M411.0,229.7l0.1,-0.7M405.9,237.6l-0.3,0.1M409.1,233.9l-0.6,-0.2M409.9,238.4l-0.2,0.2M410.3,235.6l-0.7,0.2M411.1,234.6l-0.4,-0.2M409.0,236.5l-0.4,0.2M416.6,233.3l0.7,-0.4M411.7,230.3l-0.1,-0.2M414.3,237.6l0.5,0.6M410.9,237.9l-0.1,0.4M408.4,231.8l-0.2,-0.2M416.2,237.8l0.6,0.4M407.5,234.8l-0.4,0.2M418.2,237.4l0.2,0.1M411.2,237.9l-0.4,0.5M411.0,238.5l-0.3,0.6" stroke="#363cab" stroke-width="1.0" stroke-linecap="round" opacity="0.32" filter="url(#bl04)"/>
</g>
<circle cx="412.3" cy="234.2" r="19.799999999999997" fill="none" stroke="#8088c2" stroke-width="1.2" opacity="0.55"/>
<clipPath id="pc43"><circle cx="456" cy="234.2" r="20.4"/></clipPath>
<circle cx="456" cy="234.2" r="20.4" fill="url(#lg_light)"/>
<circle cx="456" cy="234.2" r="20.4" fill="url(#rg_light)"/>
<g clip-path="url(#pc43)">
<ellipse cx="456" cy="244.2" rx="17.3" ry="7.8" fill="#c0c4d2" opacity="0.45" filter="url(#bl3)"/>
<rect x="435.6" y="213.79999999999998" width="40.8" height="40.8" fill="#fff" filter="url(#nzd3)" opacity="0.17"/>
<ellipse cx="456" cy="232.2" rx="14" ry="14" fill="url(#halo)" opacity="0.15"/>
<path d="M444.9,222.0l-0.3,-0.1M463.3,225.4l0.3,-0.4M468.1,224.9l0.2,-0.3M448.1,223.3l-0.0,-0.4M458.2,232.0l0.7,-0.1M464.0,236.1l0.2,0.1M458.9,238.7l0.2,0.6M458.9,242.1l-0.2,0.7M466.4,224.0l0.4,-0.1M449.8,234.8l-0.2,0.1M452.2,237.1l-0.1,0.2M450.2,224.9l-0.2,-0.5M462.1,233.2l0.4,0.1M452.4,234.9l-0.1,0.3M459.8,234.1l0.2,0.1M446.3,229.1l-0.4,-0.3M455.0,233.6l-0.2,0.7M460.7,242.8l0.2,0.4M458.9,242.3l0.0,0.5M456.2,228.4l0.1,-0.2M453.3,231.9l-0.2,-0.1M456.7,236.3l-0.0,0.8M460.5,231.7l0.3,-0.0M461.9,232.0l0.5,-0.2M452.3,233.9l-0.4,0.1M458.7,230.7l0.4,-0.2M457.0,241.1l-0.0,0.2M453.6,225.1l-0.2,-0.4M445.7,227.9l-0.6,-0.3M461.6,240.4l0.1,0.3M453.8,242.6l-0.2,0.6M450.0,235.8l-0.5,0.1M466.6,227.4l0.2,-0.2M455.4,234.8l-0.1,0.4M454.3,231.5l-0.5,-0.5M452.4,223.9l-0.1,-0.2M461.3,221.9l0.0,-0.3M456.3,230.7l0.3,-0.6M459.6,231.3l0.3,0.1M453.0,233.4l-0.2,0.1M453.7,233.7l-0.3,0.1M453.7,238.2l-0.3,0.4M457.1,241.4l-0.0,0.4M454.5,234.1l-0.4,0.3M451.5,238.2l-0.2,0.2M451.8,224.9l-0.2,-0.4M455.8,238.0l0.1,0.8M462.9,227.1l0.2,-0.1M458.8,235.6l0.4,0.2M453.2,239.7l0.2,0.4M460.1,226.4l0.3,-0.4M459.2,229.6l0.4,-0.5M455.7,230.5l-0.3,-0.6M462.1,238.2l0.2,0.4M463.0,230.0l0.5,0.1M454.2,230.3l-0.2,-0.3M470.3,243.1l0.2,0.2M448.4,238.9l-0.4,0.4M458.7,244.9l-0.0,0.5M457.4,239.4l0.2,0.5M448.1,235.8l-0.7,-0.1M457.7,225.9l0.2,-0.5M446.4,227.6l-0.3,-0.2M450.6,235.4l-0.5,0.4M451.6,231.4l-0.5,-0.1M459.3,229.7l0.4,-0.3M466.6,242.0l0.4,0.5M452.6,229.3l-0.4,-0.4M464.8,229.7l0.7,0.1M453.2,233.9l-0.3,0.1M456.7,219.7l0.1,-0.7M461.8,229.7l0.6,-0.5M456.3,230.3l-0.1,-0.5M452.2,222.4l-0.4,-0.6M466.1,239.8l0.3,0.0M457.4,228.0l0.4,-0.7M464.8,229.1l0.3,-0.1M461.7,235.0l0.7,0.0M455.0,232.8l-0.3,0.3M459.8,230.0l0.7,-0.2M461.2,233.5l0.6,0.0M454.2,232.0l-0.6,0.1M454.1,238.1l-0.2,0.5M453.4,222.2l-0.1,-0.3M452.0,226.0l-0.1,-0.7M447.2,227.6l-0.6,-0.3M451.6,234.9l-0.2,0.2M466.6,238.0l0.7,0.1M448.7,223.5l-0.2,-0.6M457.6,228.8l0.2,-0.1M452.9,233.7l-0.2,0.2M447.5,237.0l-0.5,0.5M447.0,228.7l-0.4,-0.1M461.6,236.2l0.6,0.3M450.9,219.4l-0.0,-0.2M449.8,243.7l-0.2,0.6M455.2,233.5l0.0,0.3M447.9,235.3l-0.7,0.1M464.5,220.8l0.2,-0.5M449.1,225.7l-0.6,-0.5M463.4,240.2l0.7,0.2M457.6,232.9l0.6,0.3M463.7,232.9l0.6,0.2M460.7,238.6l0.4,0.2M461.5,225.9l0.2,-0.1M448.3,236.8l-0.4,0.4M456.6,217.6l-0.2,-0.5M458.0,230.2l0.5,-0.4M456.9,234.8l-0.1,0.5M458.3,229.9l0.2,-0.6M456.1,231.9l0.1,-0.4M460.5,243.9l0.0,0.4M454.3,230.4l-0.2,-0.1M451.1,237.4l-0.5,0.4M460.2,237.7l0.2,0.7M456.8,235.8l-0.0,0.5M458.5,233.8l0.5,0.2M451.9,232.0l-0.3,-0.1M455.1,219.2l0.0,-0.3M453.2,247.2l-0.0,0.4M455.4,223.7l0.1,-0.2M453.2,231.2l-0.7,-0.2M456.1,229.3l-0.2,-0.4M458.7,230.6l0.4,-0.3M469.5,234.5l0.7,0.3M451.7,237.2l-0.6,-0.0M442.9,237.6l-0.4,0.0M449.0,242.5l-0.4,0.3M451.2,229.3l-0.6,-0.2M452.5,224.2l-0.3,-0.3M452.7,228.4l-0.2,-0.4M457.0,234.2l0.1,0.5M457.0,232.5l0.3,-0.0M458.1,233.7l0.3,0.4M466.7,239.3l0.5,0.4M465.9,236.2l0.5,0.0M452.2,231.4l-0.5,-0.2M454.2,221.9l0.0,-0.5M447.4,229.6l-0.7,-0.1M464.1,232.8l0.7,0.2M458.6,228.9l0.4,-0.4M471.6,224.4l0.3,-0.1M442.1,226.1l-0.6,-0.2M460.5,228.7l0.3,-0.5M444.6,232.4l-0.3,-0.0M453.4,237.2l-0.3,0.1M458.9,228.9l0.2,-0.2M461.0,234.2l0.3,-0.0M449.1,236.8l-0.5,0.1M451.6,238.3l-0.5,0.4M459.0,228.3l0.6,-0.5M458.2,226.7l-0.2,-0.6M456.1,239.7l0.1,0.7M449.3,232.4l-0.7,-0.2M451.9,236.8l-0.4,0.5M451.4,222.7l-0.4,-0.4M456.2,246.4l0.0,0.4M456.0,234.4l0.0,0.2M447.4,229.9l-0.6,-0.1M453.4,236.9l-0.3,0.7M458.0,237.1l0.4,0.4M463.4,237.2l0.1,0.2M459.7,225.9l0.4,-0.6M449.1,235.1l-0.6,0.3M454.5,231.3l-0.2,-0.1M458.8,232.5l0.4,0.1M450.7,235.8l-0.5,0.5M449.8,237.9l-0.7,0.4M456.0,234.8l0.2,0.5M454.7,236.8l-0.4,0.4M453.6,229.9l-0.5,-0.6M446.7,231.0l-0.7,-0.2M454.0,228.5l-0.2,-0.2M451.8,238.5l-0.2,0.6M456.7,233.4l0.3,0.7M448.5,227.5l-0.1,-0.3M447.6,237.4l-0.4,0.3M452.6,230.4l-0.6,-0.2M460.0,228.9l0.4,-0.3M457.3,233.7l0.1,0.4M454.3,225.6l-0.1,-0.3M453.0,234.4l-0.3,0.1M464.5,219.4l0.1,-0.2M447.3,229.8l-0.3,-0.1M446.2,239.0l-0.4,0.3M455.0,228.7l-0.5,-0.6M469.7,230.7l0.6,0.4M464.5,232.9l0.6,0.0M452.5,244.4l-0.3,0.5M460.9,216.1l0.1,-0.3M444.5,233.2l-0.7,0.1M454.2,237.9l-0.5,0.5M451.6,235.4l-0.7,0.2M465.4,228.5l0.2,-0.4M464.2,237.9l0.6,0.2" stroke="#363cab" stroke-width="1.0" stroke-linecap="round" opacity="0.32" filter="url(#bl04)"/>
</g>
<circle cx="456" cy="234.2" r="19.799999999999997" fill="none" stroke="#8088c2" stroke-width="1.2" opacity="0.55"/>
<clipPath id="pc44"><circle cx="500.8" cy="234.2" r="20.4"/></clipPath>
<circle cx="500.8" cy="234.2" r="20.4" fill="url(#lg_light)"/>
<circle cx="500.8" cy="234.2" r="20.4" fill="url(#rg_light)"/>
<g clip-path="url(#pc44)">
<ellipse cx="500.8" cy="244.2" rx="17.3" ry="7.8" fill="#c0c4d2" opacity="0.45" filter="url(#bl3)"/>
<rect x="480.40000000000003" y="213.79999999999998" width="40.8" height="40.8" fill="#fff" filter="url(#nzd0)" opacity="0.15"/>
<ellipse cx="500.8" cy="234.2" rx="13" ry="13" fill="url(#halo)" opacity="0.09"/>
<path d="M499.2,227.5l-0.2,-0.6M504.8,241.9l0.1,0.4M501.8,230.3l0.0,-0.6M506.6,241.8l0.3,0.2M495.5,227.4l0.0,-0.3M505.8,234.0l0.4,-0.0M510.1,238.4l0.3,0.2M497.5,238.1l-0.1,0.2M500.6,246.4l0.1,0.4M499.0,238.6l-0.4,0.6M503.1,238.0l0.3,0.4M504.3,240.5l0.4,0.4M503.7,234.7l0.7,0.0M509.2,230.6l0.7,-0.3M497.1,228.4l-0.2,-0.2M498.1,230.7l-0.1,-0.6M494.7,232.5l-0.6,0.2M504.9,242.0l0.1,0.3M510.9,244.3l0.5,0.4M504.2,232.2l0.7,-0.1M493.8,236.9l-0.4,0.5M487.2,236.6l-0.6,0.3M507.2,235.5l0.7,0.3M498.4,230.4l-0.3,-0.5M494.4,222.8l-0.2,-0.7M508.2,240.1l0.3,0.2M500.3,236.8l0.0,0.3M498.2,234.3l-0.2,-0.0M503.5,224.7l0.3,-0.6M498.6,224.1l0.0,-0.5M500.8,232.1l-0.1,-0.6M497.8,236.2l-0.3,0.4M513.8,228.8l0.3,-0.3M507.6,245.1l0.2,0.7M501.2,225.8l0.0,-0.5M498.3,232.5l-0.5,-0.4M496.6,236.4l-0.6,0.3M503.6,235.1l0.6,-0.1M493.8,237.7l-0.3,-0.0M487.6,238.1l-0.3,0.2M503.2,235.9l0.1,0.4M502.1,234.5l0.5,0.1M493.5,236.5l-0.7,-0.1M505.0,234.1l0.5,-0.1M495.8,233.9l-0.7,-0.1M500.8,234.7l-0.0,0.3M505.0,230.7l0.3,-0.3M490.1,228.1l-0.3,-0.3M505.1,227.0l0.1,-0.2M500.3,231.6l0.0,-0.4M498.4,228.6l-0.1,-0.5M496.3,233.4l-0.5,0.1M498.3,235.4l-0.3,0.4M492.8,229.4l-0.7,-0.2M508.7,232.6l0.4,-0.1M494.0,225.2l-0.4,-0.4M493.5,226.5l-0.3,-0.6M511.3,231.3l0.4,-0.2M496.1,230.7l-0.8,-0.2M496.3,236.9l-0.2,0.2M500.2,232.3l-0.3,-0.5M500.6,232.0l0.4,-0.6M496.6,232.7l-0.5,-0.5M503.3,235.4l0.4,0.6M496.0,229.5l-0.5,-0.3M505.5,232.5l0.2,0.0M510.0,232.8l0.6,-0.3M502.3,231.8l0.0,-0.2M503.5,237.3l0.4,0.2M498.6,236.5l-0.7,0.2M491.4,242.4l-0.2,0.1M495.4,241.7l-0.1,0.2M498.4,223.7l-0.3,-0.5M499.0,237.9l-0.1,0.5M494.9,227.2l-0.4,-0.5M497.8,238.8l-0.1,0.6M499.5,228.7l-0.0,-0.5M504.1,234.0l0.6,-0.3M506.6,241.0l0.4,0.5M510.7,235.6l0.8,0.1M511.7,226.6l0.4,-0.4M499.8,230.4l-0.1,-0.7M496.1,233.3l-0.7,0.1M495.3,235.2l-0.2,0.0M501.4,226.7l-0.0,-0.2M508.1,234.0l0.4,0.1M504.7,231.4l0.8,0.1M505.6,223.0l0.1,-0.2M498.3,239.5l-0.5,0.5M500.2,230.4l-0.1,-0.3M501.4,232.1l0.0,-0.3M496.4,241.6l-0.3,0.3M501.6,236.4l0.1,0.6M497.3,238.8l-0.2,0.3M496.9,231.0l-0.1,-0.7M498.0,234.7l-0.7,0.2M493.6,232.8l-0.2,0.0M499.5,238.2l0.0,0.8M493.5,239.7l-0.5,0.3M502.0,225.2l0.1,-0.7M503.5,228.1l0.1,-0.2" stroke="#363cab" stroke-width="1.0" stroke-linecap="round" opacity="0.32" filter="url(#bl04)"/>
</g>
<circle cx="500.8" cy="234.2" r="19.799999999999997" fill="none" stroke="#8088c2" stroke-width="1.2" opacity="0.55"/>
<clipPath id="pc45"><circle cx="544.4" cy="234.2" r="20.4"/></clipPath>
<circle cx="544.4" cy="234.2" r="20.4" fill="url(#lg_vlight)"/>
<circle cx="544.4" cy="234.2" r="20.4" fill="url(#rg_vlight)"/>
<g clip-path="url(#pc45)">
<ellipse cx="544.4" cy="244.2" rx="17.3" ry="7.8" fill="#c0c4d2" opacity="0.45" filter="url(#bl3)"/>
<rect x="524.0" y="213.79999999999998" width="40.8" height="40.8" fill="#fff" filter="url(#nzd1)" opacity="0.10"/>
</g>
<circle cx="544.4" cy="234.2" r="19.799999999999997" fill="none" stroke="#8c94c6" stroke-width="1.2" opacity="0.55"/>
<clipPath id="pc46"><circle cx="588.4" cy="234.2" r="20.4"/></clipPath>
<circle cx="588.4" cy="234.2" r="20.4" fill="url(#lg_vlight)"/>
<circle cx="588.4" cy="234.2" r="20.4" fill="url(#rg_vlight)"/>
<g clip-path="url(#pc46)">
<ellipse cx="588.4" cy="244.2" rx="17.3" ry="7.8" fill="#c0c4d2" opacity="0.45" filter="url(#bl3)"/>
<rect x="568.0" y="213.79999999999998" width="40.8" height="40.8" fill="#fff" filter="url(#nzd2)" opacity="0.07"/>
</g>
<circle cx="588.4" cy="234.2" r="19.799999999999997" fill="none" stroke="#8c94c6" stroke-width="1.2" opacity="0.55"/>
<clipPath id="pc47"><circle cx="632" cy="234.2" r="20.4"/></clipPath>
<circle cx="632" cy="234.2" r="20.4" fill="url(#lg_vlight)"/>
<circle cx="632" cy="234.2" r="20.4" fill="url(#rg_vlight)"/>
<g clip-path="url(#pc47)">
<ellipse cx="632" cy="244.2" rx="17.3" ry="7.8" fill="#c0c4d2" opacity="0.45" filter="url(#bl3)"/>
<rect x="611.6" y="213.79999999999998" width="40.8" height="40.8" fill="#fff" filter="url(#nzd3)" opacity="0.03"/>
<path d="M640,215.79999999999998 Q647,234.2 640,252.6 Q651,234.2 640,215.79999999999998Z" fill="#dfe3ef" opacity="0.4" filter="url(#bl12)"/>
</g>
<circle cx="632" cy="234.2" r="19.799999999999997" fill="none" stroke="#8c94c6" stroke-width="1.2" opacity="0.55"/>
<text x="4" y="302.8" font-size="24.6" font-weight="bold">B</text>
<text x="151.2" y="329.5" font-size="17.3" font-weight="bold">HCT116</text>
<text transform="translate(20.3,412.7) rotate(-90)" text-anchor="middle" font-size="20.3" font-weight="bold">Relative confluence</text>
<text x="184.2" y="545" font-size="18.7" font-weight="bold" text-anchor="middle">Days</text>
<line x1="62.9" y1="330.3" x2="62.9" y2="491.1" stroke="#000" stroke-width="1.6"/>
<line x1="55.3" y1="491.1" x2="304" y2="491.1" stroke="#000" stroke-width="1.6"/>
<line x1="55.3" y1="491.1" x2="62.9" y2="491.1" stroke="#000" stroke-width="1.4"/>
<text x="52.5" y="496.0" font-size="17" text-anchor="end">0</text>
<line x1="55.3" y1="437.5" x2="62.9" y2="437.5" stroke="#000" stroke-width="1.4"/>
<text x="52.5" y="442.4" font-size="17" text-anchor="end">10</text>
<line x1="55.3" y1="383.9" x2="62.9" y2="383.9" stroke="#000" stroke-width="1.4"/>
<text x="52.5" y="388.8" font-size="17" text-anchor="end">20</text>
<line x1="55.3" y1="330.3" x2="62.9" y2="330.3" stroke="#000" stroke-width="1.4"/>
<text x="52.5" y="335.2" font-size="17" text-anchor="end">30</text>
<line x1="80.0" y1="491.1" x2="80.0" y2="498.6" stroke="#000" stroke-width="1.4"/>
<text x="80.0" y="515.0" font-size="17" text-anchor="middle">1</text>
<line x1="114.5" y1="491.1" x2="114.5" y2="498.6" stroke="#000" stroke-width="1.4"/>
<text x="114.5" y="515.0" font-size="17" text-anchor="middle">2</text>
<line x1="149.0" y1="491.1" x2="149.0" y2="498.6" stroke="#000" stroke-width="1.4"/>
<text x="149.0" y="515.0" font-size="17" text-anchor="middle">3</text>
<line x1="183.5" y1="491.1" x2="183.5" y2="498.6" stroke="#000" stroke-width="1.4"/>
<text x="183.5" y="515.0" font-size="17" text-anchor="middle">4</text>
<line x1="218.0" y1="491.1" x2="218.0" y2="498.6" stroke="#000" stroke-width="1.4"/>
<text x="218.0" y="515.0" font-size="17" text-anchor="middle">5</text>
<line x1="252.5" y1="491.1" x2="252.5" y2="498.6" stroke="#000" stroke-width="1.4"/>
<text x="252.5" y="515.0" font-size="17" text-anchor="middle">6</text>
<line x1="287.0" y1="491.1" x2="287.0" y2="498.6" stroke="#000" stroke-width="1.4"/>
<text x="287.0" y="515.0" font-size="17" text-anchor="middle">7</text>
<polyline points="80.0,486.8 114.5,484.1 149.0,467.0 183.5,445.0 218.0,400.5 252.5,358.7 287.0,347.5" fill="none" stroke="#35b34a" stroke-width="1.7" stroke-linejoin="round"/>
<path d="M214.2,396.2H221.8M218.0,396.2V404.8M214.2,404.8H221.8" stroke="#111" stroke-width="1.6" fill="none"/>
<path d="M283.2,343.2H290.8M287.0,343.2V351.7M283.2,351.7H290.8" stroke="#111" stroke-width="1.6" fill="none"/>
<circle cx="80.0" cy="486.8" r="4.50" fill="#35b34a"/>
<circle cx="114.5" cy="484.1" r="4.50" fill="#35b34a"/>
<circle cx="149.0" cy="467.0" r="4.50" fill="#35b34a"/>
<circle cx="183.5" cy="445.0" r="4.50" fill="#35b34a"/>
<circle cx="218.0" cy="400.5" r="4.50" fill="#35b34a"/>
<circle cx="252.5" cy="358.7" r="4.50" fill="#35b34a"/>
<circle cx="287.0" cy="347.5" r="4.50" fill="#35b34a"/>
<polyline points="80.0,485.7 114.5,479.3 149.0,445.5 183.5,413.9 218.0,356.6 252.5,341.6 287.0,340.5" fill="none" stroke="#e3262c" stroke-width="1.7" stroke-linejoin="round"/>
<path d="M179.7,403.7H187.3M183.5,403.7V424.1M179.7,424.1H187.3" stroke="#111" stroke-width="1.6" fill="none"/>
<path d="M214.2,348.5H221.8M218.0,348.5V364.6M214.2,364.6H221.8" stroke="#111" stroke-width="1.6" fill="none"/>
<path d="M248.7,335.1H256.3M252.5,335.1V348.0M248.7,348.0H256.3" stroke="#111" stroke-width="1.6" fill="none"/>
<path d="M283.2,333.5H290.8M287.0,333.5V347.5M283.2,347.5H290.8" stroke="#111" stroke-width="1.6" fill="none"/>
<rect x="75.7" y="481.4" width="8.6" height="8.6" fill="#e3262c"/>
<rect x="110.2" y="475.0" width="8.6" height="8.6" fill="#e3262c"/>
<rect x="144.7" y="441.2" width="8.6" height="8.6" fill="#e3262c"/>
<rect x="179.2" y="409.6" width="8.6" height="8.6" fill="#e3262c"/>
<rect x="213.7" y="352.3" width="8.6" height="8.6" fill="#e3262c"/>
<rect x="248.2" y="337.3" width="8.6" height="8.6" fill="#e3262c"/>
<rect x="282.7" y="336.2" width="8.6" height="8.6" fill="#e3262c"/>
<polyline points="80.0,486.3 114.5,482.5 149.0,462.2 183.5,435.9 218.0,394.6 252.5,382.3 287.0,379.6" fill="none" stroke="#1b5e30" stroke-width="1.7" stroke-linejoin="round"/>
<path d="M80.0,482.2 L84.3,490.6 L75.7,490.6Z" fill="#1b5e30"/>
<path d="M114.5,478.4 L118.8,486.8 L110.2,486.8Z" fill="#1b5e30"/>
<path d="M149.0,458.1 L153.3,466.5 L144.7,466.5Z" fill="#1b5e30"/>
<path d="M183.5,431.8 L187.8,440.2 L179.2,440.2Z" fill="#1b5e30"/>
<path d="M218.0,390.5 L222.3,398.9 L213.7,398.9Z" fill="#1b5e30"/>
<path d="M252.5,378.2 L256.8,386.6 L248.2,386.6Z" fill="#1b5e30"/>
<path d="M287.0,375.5 L291.3,383.9 L282.7,383.9Z" fill="#1b5e30"/>
<polyline points="80.0,485.2 114.5,473.9 149.0,445.5 183.5,434.3 218.0,420.9 252.5,420.9 287.0,420.3" fill="none" stroke="#9b1b1f" stroke-width="1.7" stroke-linejoin="round"/>
<path d="M179.7,430.5H187.3M183.5,430.5V438.0M179.7,438.0H187.3" stroke="#111" stroke-width="1.6" fill="none"/>
<path d="M80.0,489.3 L84.3,480.9 L75.7,480.9Z" fill="#9b1b1f"/>
<path d="M114.5,478.0 L118.8,469.6 L110.2,469.6Z" fill="#9b1b1f"/>
<path d="M149.0,449.6 L153.3,441.2 L144.7,441.2Z" fill="#9b1b1f"/>
<path d="M183.5,438.4 L187.8,430.0 L179.2,430.0Z" fill="#9b1b1f"/>
<path d="M218.0,425.0 L222.3,416.6 L213.7,416.6Z" fill="#9b1b1f"/>
<path d="M252.5,425.0 L256.8,416.6 L248.2,416.6Z" fill="#9b1b1f"/>
<path d="M287.0,424.4 L291.3,416.0 L282.7,416.0Z" fill="#9b1b1f"/>
<text x="380.2" y="303.1" font-size="24.6" font-weight="bold">D</text>
<text x="517" y="329.5" font-size="17" font-weight="bold">HCC1954</text>
<text transform="translate(398.2,409.4) rotate(-90)" text-anchor="middle" font-size="20.3" font-weight="bold">Relative confluence</text>
<text x="561.2" y="541.9" font-size="18.7" font-weight="bold" text-anchor="middle">Days</text>
<line x1="440" y1="327.3" x2="440" y2="487.8" stroke="#000" stroke-width="1.6"/>
<line x1="432.4" y1="487.8" x2="681" y2="487.8" stroke="#000" stroke-width="1.6"/>
<line x1="432.4" y1="487.8" x2="440" y2="487.8" stroke="#000" stroke-width="1.4"/>
<text x="429.6" y="492.7" font-size="17" text-anchor="end">0</text>
<line x1="432.4" y1="455.7" x2="440" y2="455.7" stroke="#000" stroke-width="1.4"/>
<text x="429.6" y="460.6" font-size="17" text-anchor="end">2</text>
<line x1="432.4" y1="423.6" x2="440" y2="423.6" stroke="#000" stroke-width="1.4"/>
<text x="429.6" y="428.5" font-size="17" text-anchor="end">4</text>
<line x1="432.4" y1="391.5" x2="440" y2="391.5" stroke="#000" stroke-width="1.4"/>
<text x="429.6" y="396.4" font-size="17" text-anchor="end">6</text>
<line x1="432.4" y1="359.4" x2="440" y2="359.4" stroke="#000" stroke-width="1.4"/>
<text x="429.6" y="364.3" font-size="17" text-anchor="end">8</text>
<line x1="432.4" y1="327.3" x2="440" y2="327.3" stroke="#000" stroke-width="1.4"/>
<text x="429.6" y="332.2" font-size="17" text-anchor="end">10</text>
<line x1="456.8" y1="487.8" x2="456.8" y2="495.3" stroke="#000" stroke-width="1.4"/>
<text x="456.8" y="511.7" font-size="17" text-anchor="middle">1</text>
<line x1="491.3" y1="487.8" x2="491.3" y2="495.3" stroke="#000" stroke-width="1.4"/>
<text x="491.3" y="511.7" font-size="17" text-anchor="middle">2</text>
<line x1="525.9" y1="487.8" x2="525.9" y2="495.3" stroke="#000" stroke-width="1.4"/>
<text x="525.9" y="511.7" font-size="17" text-anchor="middle">3</text>
<line x1="560.4" y1="487.8" x2="560.4" y2="495.3" stroke="#000" stroke-width="1.4"/>
<text x="560.4" y="511.7" font-size="17" text-anchor="middle">4</text>
<line x1="594.9" y1="487.8" x2="594.9" y2="495.3" stroke="#000" stroke-width="1.4"/>
<text x="594.9" y="511.7" font-size="17" text-anchor="middle">5</text>
<line x1="629.5" y1="487.8" x2="629.5" y2="495.3" stroke="#000" stroke-width="1.4"/>
<text x="629.5" y="511.7" font-size="17" text-anchor="middle">6</text>
<line x1="664.0" y1="487.8" x2="664.0" y2="495.3" stroke="#000" stroke-width="1.4"/>
<text x="664.0" y="511.7" font-size="17" text-anchor="middle">7</text>
<polyline points="456.8,471.8 491.3,460.5 525.9,439.3 560.4,414.9 594.9,381.9 629.5,364.7 664.0,362.9" fill="none" stroke="#35b34a" stroke-width="1.7" stroke-linejoin="round"/>
<path d="M591.1,377.4H598.7M594.9,377.4V386.4M591.1,386.4H598.7" stroke="#111" stroke-width="1.6" fill="none"/>
<path d="M625.7,359.1H633.2M629.5,359.1V370.3M625.7,370.3H633.2" stroke="#111" stroke-width="1.6" fill="none"/>
<path d="M660.2,356.5H667.8M664.0,356.5V369.4M660.2,369.4H667.8" stroke="#111" stroke-width="1.6" fill="none"/>
<circle cx="456.8" cy="471.8" r="4.50" fill="#35b34a"/>
<circle cx="491.3" cy="460.5" r="4.50" fill="#35b34a"/>
<circle cx="525.9" cy="439.3" r="4.50" fill="#35b34a"/>
<circle cx="560.4" cy="414.9" r="4.50" fill="#35b34a"/>
<circle cx="594.9" cy="381.9" r="4.50" fill="#35b34a"/>
<circle cx="629.5" cy="364.7" r="4.50" fill="#35b34a"/>
<circle cx="664.0" cy="362.9" r="4.50" fill="#35b34a"/>
<polyline points="456.8,471.8 491.3,460.2 525.9,450.4 560.4,442.2 594.9,425.0 629.5,399.4 664.0,384.8" fill="none" stroke="#e3262c" stroke-width="1.7" stroke-linejoin="round"/>
<rect x="452.5" y="467.4" width="8.6" height="8.6" fill="#e3262c"/>
<rect x="487.0" y="455.9" width="8.6" height="8.6" fill="#e3262c"/>
<rect x="521.6" y="446.1" width="8.6" height="8.6" fill="#e3262c"/>
<rect x="556.1" y="437.9" width="8.6" height="8.6" fill="#e3262c"/>
<rect x="590.6" y="420.7" width="8.6" height="8.6" fill="#e3262c"/>
<rect x="625.2" y="395.1" width="8.6" height="8.6" fill="#e3262c"/>
<rect x="659.7" y="380.5" width="8.6" height="8.6" fill="#e3262c"/>
<polyline points="456.8,471.8 491.3,467.1 525.9,450.9 560.4,430.3 594.9,403.1 629.5,375.4 664.0,366.6" fill="none" stroke="#1b5e30" stroke-width="1.7" stroke-linejoin="round"/>
<path d="M456.8,467.6 L461.1,476.1 L452.5,476.1Z" fill="#1b5e30"/>
<path d="M491.3,463.0 L495.6,471.4 L487.0,471.4Z" fill="#1b5e30"/>
<path d="M525.9,446.8 L530.2,455.2 L521.6,455.2Z" fill="#1b5e30"/>
<path d="M560.4,426.2 L564.7,434.6 L556.1,434.6Z" fill="#1b5e30"/>
<path d="M594.9,399.0 L599.2,407.4 L590.6,407.4Z" fill="#1b5e30"/>
<path d="M629.5,371.3 L633.8,379.8 L625.2,379.8Z" fill="#1b5e30"/>
<path d="M664.0,362.5 L668.3,370.9 L659.7,370.9Z" fill="#1b5e30"/>
<polyline points="456.8,471.8 491.3,466.9 525.9,460.2 560.4,453.1 594.9,443.7 629.5,432.3 664.0,423.6" fill="none" stroke="#9b1b1f" stroke-width="1.7" stroke-linejoin="round"/>
<path d="M456.8,475.9 L461.1,467.4 L452.5,467.4Z" fill="#9b1b1f"/>
<path d="M491.3,471.0 L495.6,462.6 L487.0,462.6Z" fill="#9b1b1f"/>
<path d="M525.9,464.3 L530.2,455.9 L521.6,455.9Z" fill="#9b1b1f"/>
<path d="M560.4,457.2 L564.7,448.8 L556.1,448.8Z" fill="#9b1b1f"/>
<path d="M594.9,447.8 L599.2,439.4 L590.6,439.4Z" fill="#9b1b1f"/>
<path d="M629.5,436.4 L633.8,428.0 L625.2,428.0Z" fill="#9b1b1f"/>
<path d="M664.0,427.7 L668.3,419.3 L659.7,419.3Z" fill="#9b1b1f"/>
<line x1="75.1" y1="573.9" x2="111" y2="573.9" stroke="#35b34a" stroke-width="2"/>
<circle cx="93.2" cy="573.9" r="5.26" fill="#35b34a"/>
<text x="118.1" y="578" font-size="17.2">siControl</text>
<line x1="206.9" y1="573.9" x2="242.9" y2="573.9" stroke="#1b5e30" stroke-width="2"/>
<path d="M225.0,569.1 L230.0,578.9 L220.0,578.9Z" fill="#1b5e30"/>
<text x="258.3" y="567.7" font-size="17.2">siControl +</text>
<text x="258.3" y="587.7" font-size="17.2">Ganetespib</text>
<line x1="374" y1="575.2" x2="409" y2="575.2" stroke="#e3262c" stroke-width="2"/>
<rect x="386.5" y="570.2" width="10.1" height="10.1" fill="#e3262c"/>
<text x="421" y="579.4" font-size="17.2">siUSP22</text>
<line x1="505.5" y1="574.9" x2="541.2" y2="574.9" stroke="#9b1b1f" stroke-width="2"/>
<path d="M523.5,579.7 L528.5,569.9 L518.5,569.9Z" fill="#9b1b1f"/>
<text x="551.2" y="569.5" font-size="17.2">siUSP22 +</text>
<text x="551.2" y="589.6" font-size="17.2">Ganetespib</text>
<text x="5.4" y="648.5" font-size="24.6" font-weight="bold">C</text>
<text x="151.2" y="650.9" font-size="17.3" font-weight="bold">HCT116</text>
<text transform="translate(14.8,749.8) rotate(-90)" text-anchor="middle" font-size="18.5" font-weight="bold">AUC</text>
<line x1="65.4" y1="667.6999999999999" x2="65.4" y2="828.3" stroke="#000" stroke-width="1.6"/>
<line x1="57.800000000000004" y1="828.3" x2="65.4" y2="828.3" stroke="#000" stroke-width="1.4"/>
<text x="54.800000000000004" y="832.9" font-size="17" text-anchor="end">0</text>
<line x1="57.800000000000004" y1="797.7" x2="65.4" y2="797.7" stroke="#000" stroke-width="1.4"/>
<text x="54.800000000000004" y="802.3" font-size="17" text-anchor="end">20</text>
<line x1="57.800000000000004" y1="767.0" x2="65.4" y2="767.0" stroke="#000" stroke-width="1.4"/>
<text x="54.800000000000004" y="771.6" font-size="17" text-anchor="end">40</text>
<line x1="57.800000000000004" y1="736.4" x2="65.4" y2="736.4" stroke="#000" stroke-width="1.4"/>
<text x="54.800000000000004" y="741.0" font-size="17" text-anchor="end">60</text>
<line x1="57.800000000000004" y1="705.7" x2="65.4" y2="705.7" stroke="#000" stroke-width="1.4"/>
<text x="54.800000000000004" y="710.3" font-size="17" text-anchor="end">80</text>
<line x1="57.800000000000004" y1="675.1" x2="65.4" y2="675.1" stroke="#000" stroke-width="1.4"/>
<text x="54.800000000000004" y="679.7" font-size="17" text-anchor="end">100</text>
<path d="M84.0,725.8H107.6M95.8,725.8V729.3" stroke="#000" stroke-width="1.6" fill="none"/>
<rect x="72.5" y="729.3" width="46.5" height="99.0" fill="#2fb14b" stroke="#000" stroke-width="1.6"/>
<path d="M144.3,733.9H167.9M156.1,733.9V734.5" stroke="#000" stroke-width="1.6" fill="none"/>
<rect x="132.8" y="734.5" width="46.5" height="93.8" fill="#1a5a2e" stroke="#000" stroke-width="1.6"/>
<path d="M204.5,684.9H228.1M216.3,684.9V695.5" stroke="#000" stroke-width="1.6" fill="none"/>
<rect x="193.1" y="695.5" width="46.5" height="132.8" fill="#e84848" stroke="#000" stroke-width="1.6"/>
<path d="M264.8,748.6H288.4M276.6,748.6V752.2" stroke="#000" stroke-width="1.6" fill="none"/>
<rect x="253.4" y="752.2" width="46.5" height="76.1" fill="#9e1c20" stroke="#000" stroke-width="1.6"/>
<line x1="57.800000000000004" y1="828.3" x2="306" y2="828.3" stroke="#000" stroke-width="1.6"/>
<line x1="95.8" y1="828.3" x2="95.8" y2="835.8" stroke="#000" stroke-width="1.4"/>
<text transform="translate(100.3,853.7) rotate(-45)" font-size="17.4" text-anchor="end">siControl</text>
<line x1="156.1" y1="828.3" x2="156.1" y2="835.8" stroke="#000" stroke-width="1.4"/>
<text transform="translate(160.6,853.7) rotate(-45)" font-size="17.4" text-anchor="end">siControl + HSP90i</text>
<line x1="216.3" y1="828.3" x2="216.3" y2="835.8" stroke="#000" stroke-width="1.4"/>
<text transform="translate(220.8,853.7) rotate(-45)" font-size="17.4" text-anchor="end">siUSP22</text>
<line x1="276.6" y1="828.3" x2="276.6" y2="835.8" stroke="#000" stroke-width="1.4"/>
<text transform="translate(281.1,853.7) rotate(-45)" font-size="17.4" text-anchor="end">siUSP22 + HSP90i</text>
<line x1="94.7" y1="718.3" x2="153.4" y2="718.3" stroke="#000" stroke-width="1.6"/>
<text x="125.1" y="715.5" font-size="18.7" text-anchor="middle">n.s.</text>
<line x1="94.7" y1="677.2" x2="210.4" y2="677.2" stroke="#000" stroke-width="1.6"/>
<line x1="214.9" y1="677.3" x2="272.7" y2="677.3" stroke="#000" stroke-width="1.6"/>
<text x="153.5" y="682.2" font-size="24.5" text-anchor="middle" stroke="#000" stroke-width="0.55">*</text>
<text x="245.8" y="682.2" font-size="24.5" text-anchor="middle" stroke="#000" stroke-width="0.55">***</text>
<text x="380.2" y="648.8" font-size="24.6" font-weight="bold">E</text>
<text x="517" y="650.9" font-size="17" font-weight="bold">HCC1954</text>
<text transform="translate(400.4,747.5) rotate(-90)" text-anchor="middle" font-size="18.5" font-weight="bold">AUC</text>
<line x1="443.6" y1="667.3" x2="443.6" y2="827.8" stroke="#000" stroke-width="1.6"/>
<line x1="436.0" y1="827.8" x2="443.6" y2="827.8" stroke="#000" stroke-width="1.4"/>
<text x="433.0" y="832.4" font-size="17" text-anchor="end">0</text>
<line x1="436.0" y1="774.3" x2="443.6" y2="774.3" stroke="#000" stroke-width="1.4"/>
<text x="433.0" y="778.9" font-size="17" text-anchor="end">10</text>
<line x1="436.0" y1="720.8" x2="443.6" y2="720.8" stroke="#000" stroke-width="1.4"/>
<text x="433.0" y="725.4" font-size="17" text-anchor="end">20</text>
<line x1="436.0" y1="667.3" x2="443.6" y2="667.3" stroke="#000" stroke-width="1.4"/>
<text x="433.0" y="671.9" font-size="17" text-anchor="end">30</text>
<path d="M461.8,700.5H485.4M473.6,700.5V706.9" stroke="#000" stroke-width="1.6" fill="none"/>
<rect x="450.4" y="706.9" width="46.5" height="120.9" fill="#2fb14b" stroke="#000" stroke-width="1.6"/>
<path d="M522.2,727.4H545.8M534.0,727.4V731.5" stroke="#000" stroke-width="1.6" fill="none"/>
<rect x="510.8" y="731.5" width="46.5" height="96.3" fill="#1a5a2e" stroke="#000" stroke-width="1.6"/>
<path d="M582.5,747.3H606.1M594.3,747.3V751.3" stroke="#000" stroke-width="1.6" fill="none"/>
<rect x="571.0" y="751.3" width="46.5" height="76.5" fill="#e84848" stroke="#000" stroke-width="1.6"/>
<path d="M643.1,786.8H666.7M654.9,786.8V788.2" stroke="#000" stroke-width="1.6" fill="none"/>
<rect x="631.6" y="788.2" width="46.5" height="39.6" fill="#9e1c20" stroke="#000" stroke-width="1.6"/>
<line x1="436.0" y1="827.8" x2="685" y2="827.8" stroke="#000" stroke-width="1.6"/>
<line x1="473.6" y1="827.8" x2="473.6" y2="835.3" stroke="#000" stroke-width="1.4"/>
<text transform="translate(478.1,853.2) rotate(-45)" font-size="17.4" text-anchor="end">siControl</text>
<line x1="534.0" y1="827.8" x2="534.0" y2="835.3" stroke="#000" stroke-width="1.4"/>
<text transform="translate(538.5,853.2) rotate(-45)" font-size="17.4" text-anchor="end">siControl + HSP90i</text>
<line x1="594.3" y1="827.8" x2="594.3" y2="835.3" stroke="#000" stroke-width="1.4"/>
<text transform="translate(598.8,853.2) rotate(-45)" font-size="17.4" text-anchor="end">siUSP22</text>
<line x1="654.9" y1="827.8" x2="654.9" y2="835.3" stroke="#000" stroke-width="1.4"/>
<text transform="translate(659.4,853.2) rotate(-45)" font-size="17.4" text-anchor="end">siUSP22 + HSP90i</text>
<line x1="472.8" y1="690.9" x2="531" y2="690.9" stroke="#000" stroke-width="1.6"/>
<line x1="472.8" y1="671.4" x2="588.6" y2="671.4" stroke="#000" stroke-width="1.6"/>
<line x1="593.2" y1="671.8" x2="651.2" y2="671.8" stroke="#000" stroke-width="1.6"/>
<text x="503.7" y="696.4" font-size="24.5" text-anchor="middle" stroke="#000" stroke-width="0.55">*</text>
<text x="531" y="676.9" font-size="24.5" text-anchor="middle" stroke="#000" stroke-width="0.55">***</text>
<text x="619.5" y="676.9" font-size="24.5" text-anchor="middle" stroke="#000" stroke-width="0.55">**</text>
</svg></body></html>
